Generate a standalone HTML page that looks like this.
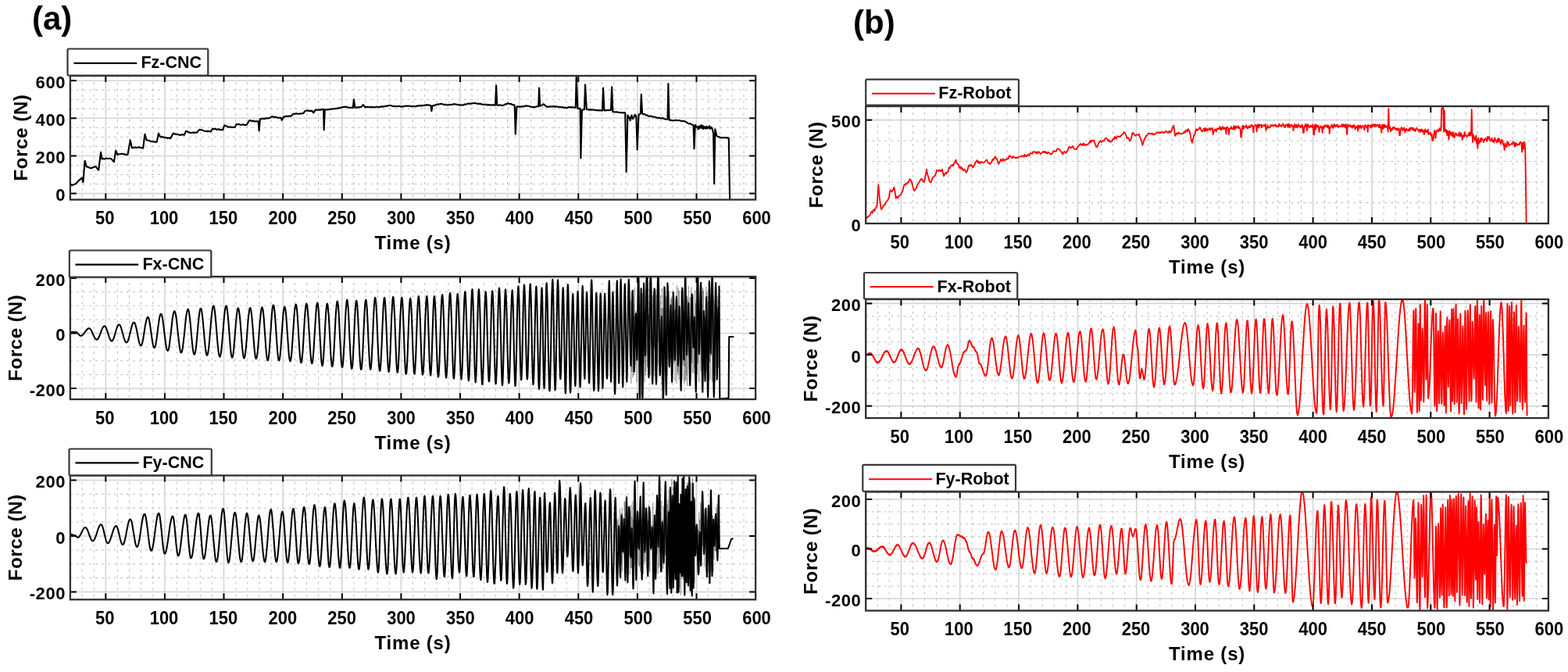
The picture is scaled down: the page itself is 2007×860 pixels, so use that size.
<!DOCTYPE html>
<html><head><meta charset="utf-8"><title>Force comparison</title>
<style>
html,body{margin:0;padding:0;background:#fff;}
svg{display:block;}
text{font-family:'Liberation Sans', sans-serif;font-weight:bold;fill:#000;}
.xt{font-size:23.4px;text-anchor:middle;}
.yt{font-size:22px;text-anchor:end;letter-spacing:0.6px;}
.xl{font-size:24px;text-anchor:middle;letter-spacing:0.8px;}
.yl{font-size:24.5px;text-anchor:middle;letter-spacing:0.4px;}
.lt{font-size:21.5px;}
.pl{font-size:42px;font-weight:bold;}
.mn{stroke:#bdbdbd;stroke-width:1;stroke-dasharray:3 5;}
.mj{stroke:#d4d4d4;stroke-width:1.6;}
.tk{stroke:#000;stroke-width:2;}
.fr{fill:none;stroke:#2e2e2e;stroke-width:2.3;}
.lg{fill:#fff;stroke:#383838;stroke-width:2.2;}
</style></head>
<body>
<svg width="2007" height="860" viewBox="0 0 2007 860">
<rect width="2007" height="860" fill="#fff"/>
<text x="41" y="37.5" class="pl">(a)</text>
<text x="1092" y="42.6" class="pl">(b)</text>
<g id="a1">
<line x1="105.1" y1="97.0" x2="105.1" y2="255.5" class="mn"/>
<line x1="120.2" y1="97.0" x2="120.2" y2="255.5" class="mn"/>
<line x1="150.4" y1="97.0" x2="150.4" y2="255.5" class="mn"/>
<line x1="165.5" y1="97.0" x2="165.5" y2="255.5" class="mn"/>
<line x1="180.7" y1="97.0" x2="180.7" y2="255.5" class="mn"/>
<line x1="195.8" y1="97.0" x2="195.8" y2="255.5" class="mn"/>
<line x1="226.0" y1="97.0" x2="226.0" y2="255.5" class="mn"/>
<line x1="241.2" y1="97.0" x2="241.2" y2="255.5" class="mn"/>
<line x1="256.3" y1="97.0" x2="256.3" y2="255.5" class="mn"/>
<line x1="271.4" y1="97.0" x2="271.4" y2="255.5" class="mn"/>
<line x1="301.7" y1="97.0" x2="301.7" y2="255.5" class="mn"/>
<line x1="316.8" y1="97.0" x2="316.8" y2="255.5" class="mn"/>
<line x1="331.9" y1="97.0" x2="331.9" y2="255.5" class="mn"/>
<line x1="347.0" y1="97.0" x2="347.0" y2="255.5" class="mn"/>
<line x1="377.3" y1="97.0" x2="377.3" y2="255.5" class="mn"/>
<line x1="392.4" y1="97.0" x2="392.4" y2="255.5" class="mn"/>
<line x1="407.5" y1="97.0" x2="407.5" y2="255.5" class="mn"/>
<line x1="422.7" y1="97.0" x2="422.7" y2="255.5" class="mn"/>
<line x1="452.9" y1="97.0" x2="452.9" y2="255.5" class="mn"/>
<line x1="468.0" y1="97.0" x2="468.0" y2="255.5" class="mn"/>
<line x1="483.2" y1="97.0" x2="483.2" y2="255.5" class="mn"/>
<line x1="498.3" y1="97.0" x2="498.3" y2="255.5" class="mn"/>
<line x1="528.5" y1="97.0" x2="528.5" y2="255.5" class="mn"/>
<line x1="543.6" y1="97.0" x2="543.6" y2="255.5" class="mn"/>
<line x1="558.8" y1="97.0" x2="558.8" y2="255.5" class="mn"/>
<line x1="573.9" y1="97.0" x2="573.9" y2="255.5" class="mn"/>
<line x1="604.1" y1="97.0" x2="604.1" y2="255.5" class="mn"/>
<line x1="619.3" y1="97.0" x2="619.3" y2="255.5" class="mn"/>
<line x1="634.4" y1="97.0" x2="634.4" y2="255.5" class="mn"/>
<line x1="649.5" y1="97.0" x2="649.5" y2="255.5" class="mn"/>
<line x1="679.8" y1="97.0" x2="679.8" y2="255.5" class="mn"/>
<line x1="694.9" y1="97.0" x2="694.9" y2="255.5" class="mn"/>
<line x1="710.0" y1="97.0" x2="710.0" y2="255.5" class="mn"/>
<line x1="725.1" y1="97.0" x2="725.1" y2="255.5" class="mn"/>
<line x1="755.4" y1="97.0" x2="755.4" y2="255.5" class="mn"/>
<line x1="770.5" y1="97.0" x2="770.5" y2="255.5" class="mn"/>
<line x1="785.6" y1="97.0" x2="785.6" y2="255.5" class="mn"/>
<line x1="800.8" y1="97.0" x2="800.8" y2="255.5" class="mn"/>
<line x1="831.0" y1="97.0" x2="831.0" y2="255.5" class="mn"/>
<line x1="846.1" y1="97.0" x2="846.1" y2="255.5" class="mn"/>
<line x1="861.3" y1="97.0" x2="861.3" y2="255.5" class="mn"/>
<line x1="876.4" y1="97.0" x2="876.4" y2="255.5" class="mn"/>
<line x1="906.6" y1="97.0" x2="906.6" y2="255.5" class="mn"/>
<line x1="921.7" y1="97.0" x2="921.7" y2="255.5" class="mn"/>
<line x1="936.9" y1="97.0" x2="936.9" y2="255.5" class="mn"/>
<line x1="952.0" y1="97.0" x2="952.0" y2="255.5" class="mn"/>
<line x1="89.9" y1="235.6" x2="967.1" y2="235.6" class="mn"/>
<line x1="89.9" y1="223.5" x2="967.1" y2="223.5" class="mn"/>
<line x1="89.9" y1="211.5" x2="967.1" y2="211.5" class="mn"/>
<line x1="89.9" y1="187.4" x2="967.1" y2="187.4" class="mn"/>
<line x1="89.9" y1="175.4" x2="967.1" y2="175.4" class="mn"/>
<line x1="89.9" y1="163.4" x2="967.1" y2="163.4" class="mn"/>
<line x1="89.9" y1="139.3" x2="967.1" y2="139.3" class="mn"/>
<line x1="89.9" y1="127.3" x2="967.1" y2="127.3" class="mn"/>
<line x1="89.9" y1="115.2" x2="967.1" y2="115.2" class="mn"/>
<line x1="135.3" y1="97.0" x2="135.3" y2="255.5" class="mj"/>
<line x1="210.9" y1="97.0" x2="210.9" y2="255.5" class="mj"/>
<line x1="286.5" y1="97.0" x2="286.5" y2="255.5" class="mj"/>
<line x1="362.2" y1="97.0" x2="362.2" y2="255.5" class="mj"/>
<line x1="437.8" y1="97.0" x2="437.8" y2="255.5" class="mj"/>
<line x1="513.4" y1="97.0" x2="513.4" y2="255.5" class="mj"/>
<line x1="589.0" y1="97.0" x2="589.0" y2="255.5" class="mj"/>
<line x1="664.6" y1="97.0" x2="664.6" y2="255.5" class="mj"/>
<line x1="740.3" y1="97.0" x2="740.3" y2="255.5" class="mj"/>
<line x1="815.9" y1="97.0" x2="815.9" y2="255.5" class="mj"/>
<line x1="891.5" y1="97.0" x2="891.5" y2="255.5" class="mj"/>
<line x1="89.9" y1="247.6" x2="967.1" y2="247.6" class="mj"/>
<line x1="89.9" y1="199.5" x2="967.1" y2="199.5" class="mj"/>
<line x1="89.9" y1="151.3" x2="967.1" y2="151.3" class="mj"/>
<line x1="89.9" y1="103.2" x2="967.1" y2="103.2" class="mj"/>
<clipPath id="c_a1"><rect x="89.9" y="96.0" width="877.2" height="160.5"/></clipPath>
<path d="M90.0,235.3 L92.2,237.1 L93.7,236.4 L95.1,236.0 L96.6,235.3 L97.9,234.4 L99.3,232.5 L100.7,231.2 L102.1,229.8 L103.5,228.8 L104.9,227.6 L106.4,233.1 L108.6,205.7 L110.8,213.4 L112.2,213.5 L113.6,214.3 L114.9,214.8 L116.3,215.1 L117.6,215.1 L118.9,214.0 L120.3,213.9 L121.6,213.3 L122.9,213.4 L124.5,215.9 L126.2,217.8 L127.6,206.5 L129.0,194.8 L130.6,203.5 L131.9,202.8 L133.3,203.5 L134.7,203.2 L136.0,202.4 L137.4,202.8 L138.7,203.0 L140.0,202.7 L141.3,202.8 L142.6,203.5 L144.3,205.4 L145.9,207.3 L148.1,192.6 L150.3,198.0 L151.7,197.3 L153.0,197.2 L154.4,197.0 L155.8,197.0 L157.1,196.7 L158.3,197.3 L159.6,197.4 L160.9,198.0 L162.2,197.9 L163.4,198.0 L165.1,188.9 L166.7,179.4 L168.9,189.3 L170.2,189.1 L171.4,189.1 L172.7,188.8 L173.9,188.4 L175.2,189.0 L176.4,188.8 L177.7,188.2 L179.1,188.9 L180.4,189.2 L181.8,189.1 L183.2,189.7 L185.4,171.7 L187.6,179.4 L188.9,179.5 L190.3,180.0 L191.7,180.1 L193.0,180.9 L194.3,181.3 L195.6,181.1 L196.9,181.6 L198.2,181.3 L199.4,182.0 L200.7,181.6 L202.9,170.6 L205.1,175.0 L206.4,175.6 L207.7,174.9 L208.9,175.3 L210.2,176.2 L211.5,175.9 L212.8,176.1 L214.2,176.9 L215.5,176.6 L216.9,176.5 L218.3,177.2 L219.9,174.1 L221.6,170.6 L223.0,171.4 L224.5,171.4 L225.9,172.2 L227.2,171.8 L228.4,172.2 L229.6,172.9 L230.9,172.8 L232.1,172.2 L233.3,172.4 L234.6,172.4 L235.8,172.8 L238.0,167.8 L239.4,167.9 L240.7,169.2 L242.1,169.1 L243.5,170.0 L244.7,170.0 L246.0,169.8 L247.2,169.5 L248.5,170.0 L249.7,169.3 L251.0,169.8 L252.2,169.5 L253.9,167.3 L255.5,165.8 L256.9,166.1 L258.3,166.3 L259.6,166.7 L261.0,167.4 L262.3,168.0 L263.5,168.0 L264.8,167.6 L266.0,168.4 L267.3,167.8 L268.5,168.2 L269.8,168.4 L272.0,164.7 L273.3,165.3 L274.6,165.2 L275.9,164.8 L277.2,165.9 L278.6,165.6 L279.9,165.4 L281.2,165.6 L282.5,166.3 L283.8,166.0 L285.1,166.3 L287.3,160.3 L288.8,160.9 L290.2,161.4 L291.7,162.5 L293.0,162.2 L294.2,162.7 L295.5,162.5 L296.7,162.9 L298.0,162.7 L299.2,162.9 L300.5,163.0 L302.7,158.6 L304.0,159.3 L305.3,159.0 L306.6,159.3 L307.9,159.8 L309.3,159.7 L310.6,159.4 L311.9,159.3 L313.2,160.1 L314.5,160.0 L315.8,159.7 L317.5,156.7 L319.1,154.2 L320.3,154.0 L321.6,154.7 L322.8,155.0 L324.0,154.4 L325.3,155.3 L326.5,155.4 L327.7,155.3 L329.0,155.3 L330.7,155.3 L331.6,167.4 L332.9,152.4 L334.2,152.2 L335.4,151.7 L336.7,151.5 L337.9,152.3 L339.2,151.4 L340.4,151.7 L341.7,151.1 L342.9,151.5 L344.2,151.2 L345.4,150.9 L347.6,149.4 L348.8,149.3 L350.0,149.4 L351.2,150.1 L352.4,149.6 L353.6,149.9 L354.9,150.4 L356.1,150.8 L357.3,150.7 L358.5,150.5 L359.7,150.9 L360.8,153.8 L363.0,149.4 L364.2,149.7 L365.4,148.9 L366.7,148.6 L367.9,148.8 L369.1,148.9 L370.4,148.4 L371.6,148.5 L372.8,148.7 L375.0,145.9 L376.3,145.6 L377.7,145.8 L379.0,145.2 L380.3,145.4 L381.6,145.8 L382.9,145.8 L384.2,145.4 L385.5,145.4 L386.9,145.2 L388.2,145.0 L390.4,142.1 L391.6,141.7 L392.9,141.5 L394.1,141.4 L395.4,142.2 L396.6,141.9 L397.9,142.0 L399.1,141.5 L401.3,144.3 L403.5,141.0 L404.8,140.4 L406.0,140.9 L407.2,140.6 L408.5,140.7 L409.7,140.2 L410.9,140.7 L412.2,139.7 L413.4,139.9 L414.1,139.9 L414.7,166.3 L415.8,140.4 L417.1,140.3 L418.4,140.3 L419.6,140.4 L420.9,140.1 L422.2,139.9 L423.5,139.8 L424.7,139.8 L426.0,139.1 L427.3,139.3 L428.6,139.4 L429.8,138.9 L431.1,139.0 L432.3,138.3 L433.5,138.4 L434.7,138.2 L435.9,137.7 L437.1,137.5 L438.4,137.0 L439.6,137.0 L440.8,136.7 L442.1,136.9 L443.3,136.6 L444.6,137.3 L445.8,137.8 L447.1,137.8 L448.3,137.8 L449.6,137.8 L451.8,137.8 L452.9,127.4 L454.4,137.8 L455.8,137.5 L457.2,137.6 L458.6,137.3 L459.9,137.0 L461.3,137.2 L462.7,136.7 L464.9,134.0 L467.1,137.1 L468.4,136.7 L469.6,137.3 L470.9,136.6 L472.1,137.2 L473.4,137.1 L474.6,136.8 L475.9,137.3 L477.1,137.1 L478.4,137.2 L479.6,137.5 L480.9,136.9 L482.1,136.6 L483.4,136.9 L484.7,137.1 L485.9,137.1 L487.2,136.4 L488.5,136.2 L489.8,136.8 L491.0,136.3 L492.3,135.9 L493.6,136.2 L494.9,135.5 L496.2,135.6 L497.4,135.0 L498.7,135.0 L500.0,134.9 L501.3,135.5 L502.6,135.8 L503.9,136.1 L505.3,135.8 L506.6,136.2 L507.8,136.3 L509.1,136.0 L510.3,135.8 L511.5,136.1 L512.8,136.4 L514.0,136.4 L515.3,136.2 L516.5,136.4 L517.8,135.7 L519.0,135.6 L520.2,135.8 L521.5,135.6 L522.7,135.6 L524.0,135.7 L525.2,135.8 L526.1,136.2 L527.3,136.3 L528.6,136.0 L529.8,135.8 L531.0,136.2 L532.3,136.3 L533.5,135.7 L534.7,135.2 L536.0,135.6 L537.2,135.0 L538.4,135.7 L539.6,134.7 L540.8,135.3 L542.1,135.0 L543.3,134.6 L544.5,135.0 L545.7,134.1 L546.9,134.5 L548.4,134.2 L549.8,134.7 L551.3,134.9 L552.4,142.1 L553.5,135.6 L554.7,134.8 L555.9,135.3 L557.2,134.3 L558.4,133.9 L559.6,133.5 L560.8,133.8 L562.0,133.3 L563.2,133.2 L564.5,132.7 L565.7,133.1 L567.0,133.5 L568.2,133.9 L569.5,133.9 L570.7,133.7 L572.0,134.2 L573.2,134.5 L574.5,134.0 L575.7,133.7 L577.0,134.0 L578.2,134.1 L579.5,133.4 L580.8,133.3 L582.0,133.4 L583.3,133.4 L584.5,133.9 L585.8,133.9 L587.0,134.1 L588.3,134.4 L589.5,134.2 L590.8,134.5 L592.0,134.5 L593.3,134.4 L594.5,133.3 L595.8,133.9 L597.0,133.4 L598.3,132.6 L599.5,132.7 L600.8,132.5 L602.1,132.6 L603.3,132.7 L604.6,132.1 L605.8,132.2 L607.1,132.3 L608.3,131.8 L609.6,132.4 L610.8,132.7 L612.1,132.5 L613.3,132.9 L614.6,132.6 L615.8,133.4 L617.1,133.4 L618.3,133.8 L619.6,133.7 L620.8,133.9 L622.1,133.5 L623.3,134.2 L624.6,134.4 L625.9,134.0 L627.2,134.6 L628.6,134.2 L629.9,134.5 L631.3,134.1 L632.6,134.8 L634.0,134.5 L635.1,109.3 L636.2,134.5 L637.4,134.9 L638.6,134.5 L639.8,134.3 L641.0,134.7 L642.2,134.9 L643.4,134.9 L644.7,134.7 L646.0,134.0 L647.2,133.1 L648.5,133.5 L649.8,132.3 L651.1,132.3 L652.3,133.0 L653.6,132.8 L654.9,133.4 L656.2,134.3 L657.5,134.1 L658.7,134.9 L659.8,171.7 L661.4,136.7 L662.6,136.2 L663.9,136.5 L665.2,136.6 L666.5,136.6 L667.7,136.3 L669.0,136.4 L670.3,135.9 L671.5,136.2 L672.8,135.3 L674.1,135.6 L675.3,135.5 L676.6,136.0 L677.8,136.0 L679.1,136.7 L680.4,136.8 L681.6,136.9 L682.9,137.1 L684.1,137.3 L685.4,136.8 L686.7,136.4 L687.9,136.3 L689.2,136.2 L690.1,112.5 L691.2,135.6 L692.4,135.4 L693.6,134.9 L694.8,133.6 L696.0,133.4 L697.5,134.8 L698.9,136.0 L700.4,136.7 L701.6,136.6 L702.8,136.6 L704.1,136.2 L705.3,136.5 L706.5,136.4 L707.7,136.5 L708.9,135.8 L710.1,136.7 L711.4,136.2 L712.6,136.4 L713.8,136.5 L715.0,137.0 L716.2,137.0 L717.5,137.1 L718.7,137.4 L719.9,137.0 L721.1,137.6 L722.3,137.8 L723.5,137.6 L724.8,138.1 L726.0,138.0 L727.2,137.2 L728.4,137.4 L729.6,136.9 L730.9,137.2 L732.1,137.5 L733.3,137.1 L735.0,137.8 L736.8,137.8 L737.7,97.5 L739.4,138.9 L741.1,138.8 L742.7,138.9 L743.4,202.4 L744.9,141.0 L746.4,140.3 L748.0,139.9 L749.1,108.2 L750.8,139.9 L752.0,139.8 L753.3,140.3 L754.5,140.7 L755.7,140.1 L756.9,140.8 L758.1,140.2 L759.4,140.5 L760.6,140.6 L761.8,141.0 L763.1,141.3 L764.4,141.0 L765.7,141.1 L767.1,141.4 L768.4,141.0 L769.7,141.6 L771.0,141.5 L772.1,112.5 L773.4,141.5 L774.6,141.0 L775.9,141.4 L777.1,141.0 L778.3,140.9 L779.5,141.2 L780.7,141.0 L782.0,141.0 L783.1,111.4 L784.4,143.2 L785.6,143.2 L786.8,143.3 L788.0,143.5 L789.2,143.2 L790.4,143.4 L791.7,143.9 L792.9,144.0 L794.1,143.9 L795.3,144.3 L796.5,144.2 L797.7,144.5 L798.9,144.0 L800.2,144.3 L801.7,220.0 L803.4,147.6 L803.9,148.4 L804.3,150.0 L804.7,150.9 L805.1,151.1 L805.5,150.5 L805.9,150.7 L806.3,152.9 L806.7,154.2 L808.3,147.6 L808.7,147.8 L809.1,151.1 L809.6,151.7 L810.0,152.0 L810.6,151.3 L811.1,150.0 L811.7,149.4 L812.2,147.6 L812.8,146.7 L813.3,148.5 L813.9,147.9 L814.4,149.8 L815.7,191.5 L817.5,146.5 L818.7,146.3 L819.9,145.4 L820.8,120.9 L822.1,145.4 L823.3,146.2 L824.6,146.1 L825.8,146.5 L827.0,147.5 L828.3,147.2 L829.5,148.4 L830.7,148.7 L832.0,148.7 L833.2,148.6 L834.4,148.9 L835.6,149.7 L836.8,149.5 L838.0,149.5 L839.3,150.5 L840.5,150.3 L841.7,151.0 L842.9,150.9 L844.1,150.7 L845.3,151.2 L846.6,151.6 L847.8,151.1 L849.0,151.5 L850.2,152.1 L851.4,152.5 L852.7,152.7 L853.9,152.4 L854.5,152.4 L855.4,107.1 L856.5,153.8 L857.8,153.4 L859.1,153.9 L860.5,154.2 L861.8,154.0 L863.1,154.2 L864.4,153.8 L865.7,153.7 L867.0,154.2 L868.3,154.0 L869.5,154.0 L870.8,154.7 L872.0,154.8 L873.3,155.0 L874.5,154.8 L875.8,155.3 L877.1,155.5 L878.3,156.1 L879.6,157.2 L880.8,157.9 L882.1,158.4 L883.3,158.1 L884.6,159.0 L886.1,159.5 L887.6,160.8 L888.5,190.4 L889.8,159.7 L891.6,162.3 L893.3,164.1 L893.7,165.5 L894.1,161.9 L894.4,164.8 L894.8,163.3 L895.2,161.5 L895.5,163.8 L895.9,162.3 L896.3,162.9 L896.6,162.2 L897.0,163.7 L897.4,160.2 L897.7,161.9 L898.1,160.3 L898.5,163.8 L898.8,162.3 L899.2,162.4 L899.6,161.0 L899.9,164.8 L900.3,164.9 L900.6,163.3 L901.0,161.9 L901.4,163.4 L901.7,162.4 L902.1,164.1 L902.5,163.2 L902.8,164.4 L903.2,162.5 L903.6,163.7 L903.9,164.4 L904.3,161.7 L904.7,162.1 L905.0,163.3 L905.4,164.5 L905.8,162.7 L906.1,162.7 L906.5,163.0 L906.8,163.4 L907.1,163.0 L907.4,162.7 L907.7,163.2 L908.0,161.2 L908.3,163.8 L908.6,164.7 L908.9,162.7 L909.2,164.8 L909.5,163.8 L909.8,162.7 L910.1,163.5 L910.4,162.9 L910.7,164.2 L911.0,164.1 L911.3,163.4 L913.1,170.6 L914.2,235.3 L915.3,165.2 L917.5,173.9 L918.9,175.0 L920.4,175.1 L921.8,176.1 L923.1,176.1 L924.3,176.5 L925.5,176.2 L926.7,176.0 L927.9,176.0 L929.2,176.4 L930.4,176.0 L931.6,176.9 L932.8,176.6 L934.1,255.0" fill="none" stroke="#000" stroke-width="2.1" stroke-linejoin="round" stroke-linecap="round" clip-path="url(#c_a1)"/>
<line x1="135.3" y1="255.5" x2="135.3" y2="247.5" class="tk"/>
<line x1="135.3" y1="97.0" x2="135.3" y2="105.0" class="tk"/>
<line x1="210.9" y1="255.5" x2="210.9" y2="247.5" class="tk"/>
<line x1="210.9" y1="97.0" x2="210.9" y2="105.0" class="tk"/>
<line x1="286.5" y1="255.5" x2="286.5" y2="247.5" class="tk"/>
<line x1="286.5" y1="97.0" x2="286.5" y2="105.0" class="tk"/>
<line x1="362.2" y1="255.5" x2="362.2" y2="247.5" class="tk"/>
<line x1="362.2" y1="97.0" x2="362.2" y2="105.0" class="tk"/>
<line x1="437.8" y1="255.5" x2="437.8" y2="247.5" class="tk"/>
<line x1="437.8" y1="97.0" x2="437.8" y2="105.0" class="tk"/>
<line x1="513.4" y1="255.5" x2="513.4" y2="247.5" class="tk"/>
<line x1="513.4" y1="97.0" x2="513.4" y2="105.0" class="tk"/>
<line x1="589.0" y1="255.5" x2="589.0" y2="247.5" class="tk"/>
<line x1="589.0" y1="97.0" x2="589.0" y2="105.0" class="tk"/>
<line x1="664.6" y1="255.5" x2="664.6" y2="247.5" class="tk"/>
<line x1="664.6" y1="97.0" x2="664.6" y2="105.0" class="tk"/>
<line x1="740.3" y1="255.5" x2="740.3" y2="247.5" class="tk"/>
<line x1="740.3" y1="97.0" x2="740.3" y2="105.0" class="tk"/>
<line x1="815.9" y1="255.5" x2="815.9" y2="247.5" class="tk"/>
<line x1="815.9" y1="97.0" x2="815.9" y2="105.0" class="tk"/>
<line x1="891.5" y1="255.5" x2="891.5" y2="247.5" class="tk"/>
<line x1="891.5" y1="97.0" x2="891.5" y2="105.0" class="tk"/>
<line x1="967.1" y1="255.5" x2="967.1" y2="247.5" class="tk"/>
<line x1="967.1" y1="97.0" x2="967.1" y2="105.0" class="tk"/>
<line x1="89.9" y1="247.6" x2="97.9" y2="247.6" class="tk"/>
<line x1="967.1" y1="247.6" x2="959.1" y2="247.6" class="tk"/>
<line x1="89.9" y1="199.5" x2="97.9" y2="199.5" class="tk"/>
<line x1="967.1" y1="199.5" x2="959.1" y2="199.5" class="tk"/>
<line x1="89.9" y1="151.3" x2="97.9" y2="151.3" class="tk"/>
<line x1="967.1" y1="151.3" x2="959.1" y2="151.3" class="tk"/>
<line x1="89.9" y1="103.2" x2="97.9" y2="103.2" class="tk"/>
<line x1="967.1" y1="103.2" x2="959.1" y2="103.2" class="tk"/>
<rect x="89.9" y="97.0" width="877.2" height="158.5" class="fr"/>
<text transform="translate(134.2,287.4) scale(0.94,1)" class="xt">50</text>
<text transform="translate(210.0,287.4) scale(0.94,1)" class="xt">100</text>
<text transform="translate(285.9,287.4) scale(0.94,1)" class="xt">150</text>
<text transform="translate(361.8,287.4) scale(0.94,1)" class="xt">200</text>
<text transform="translate(437.6,287.4) scale(0.94,1)" class="xt">250</text>
<text transform="translate(513.5,287.4) scale(0.94,1)" class="xt">300</text>
<text transform="translate(589.3,287.4) scale(0.94,1)" class="xt">350</text>
<text transform="translate(665.1,287.4) scale(0.94,1)" class="xt">400</text>
<text transform="translate(741.0,287.4) scale(0.94,1)" class="xt">450</text>
<text transform="translate(816.8,287.4) scale(0.94,1)" class="xt">500</text>
<text transform="translate(892.7,287.4) scale(0.94,1)" class="xt">550</text>
<text transform="translate(968.5,287.4) scale(0.94,1)" class="xt">600</text>
<text x="84.1" y="257.2" class="yt">0</text>
<text x="84.1" y="209.1" class="yt">200</text>
<text x="84.1" y="160.9" class="yt">400</text>
<text x="84.1" y="112.8" class="yt">600</text>
<text x="528.5" y="319.3" class="xl">Time (s)</text>
<text transform="translate(34.5,176.2) rotate(-90)" x="0" y="0" class="yl">Force (N)</text>
<rect x="86.5" y="62.5" width="179.8" height="34.0" rx="1.5" class="lg"/>
<line x1="94.5" y1="80.9" x2="175.2" y2="80.9" stroke="#000" stroke-width="2.2"/>
<text x="180.4" y="87.4" class="lt">Fz-CNC</text>
</g>
<g id="a2">
<line x1="105.1" y1="354.0" x2="105.1" y2="511.0" class="mn"/>
<line x1="120.2" y1="354.0" x2="120.2" y2="511.0" class="mn"/>
<line x1="150.4" y1="354.0" x2="150.4" y2="511.0" class="mn"/>
<line x1="165.5" y1="354.0" x2="165.5" y2="511.0" class="mn"/>
<line x1="180.7" y1="354.0" x2="180.7" y2="511.0" class="mn"/>
<line x1="195.8" y1="354.0" x2="195.8" y2="511.0" class="mn"/>
<line x1="226.0" y1="354.0" x2="226.0" y2="511.0" class="mn"/>
<line x1="241.2" y1="354.0" x2="241.2" y2="511.0" class="mn"/>
<line x1="256.3" y1="354.0" x2="256.3" y2="511.0" class="mn"/>
<line x1="271.4" y1="354.0" x2="271.4" y2="511.0" class="mn"/>
<line x1="301.7" y1="354.0" x2="301.7" y2="511.0" class="mn"/>
<line x1="316.8" y1="354.0" x2="316.8" y2="511.0" class="mn"/>
<line x1="331.9" y1="354.0" x2="331.9" y2="511.0" class="mn"/>
<line x1="347.0" y1="354.0" x2="347.0" y2="511.0" class="mn"/>
<line x1="377.3" y1="354.0" x2="377.3" y2="511.0" class="mn"/>
<line x1="392.4" y1="354.0" x2="392.4" y2="511.0" class="mn"/>
<line x1="407.5" y1="354.0" x2="407.5" y2="511.0" class="mn"/>
<line x1="422.7" y1="354.0" x2="422.7" y2="511.0" class="mn"/>
<line x1="452.9" y1="354.0" x2="452.9" y2="511.0" class="mn"/>
<line x1="468.0" y1="354.0" x2="468.0" y2="511.0" class="mn"/>
<line x1="483.2" y1="354.0" x2="483.2" y2="511.0" class="mn"/>
<line x1="498.3" y1="354.0" x2="498.3" y2="511.0" class="mn"/>
<line x1="528.5" y1="354.0" x2="528.5" y2="511.0" class="mn"/>
<line x1="543.6" y1="354.0" x2="543.6" y2="511.0" class="mn"/>
<line x1="558.8" y1="354.0" x2="558.8" y2="511.0" class="mn"/>
<line x1="573.9" y1="354.0" x2="573.9" y2="511.0" class="mn"/>
<line x1="604.1" y1="354.0" x2="604.1" y2="511.0" class="mn"/>
<line x1="619.3" y1="354.0" x2="619.3" y2="511.0" class="mn"/>
<line x1="634.4" y1="354.0" x2="634.4" y2="511.0" class="mn"/>
<line x1="649.5" y1="354.0" x2="649.5" y2="511.0" class="mn"/>
<line x1="679.8" y1="354.0" x2="679.8" y2="511.0" class="mn"/>
<line x1="694.9" y1="354.0" x2="694.9" y2="511.0" class="mn"/>
<line x1="710.0" y1="354.0" x2="710.0" y2="511.0" class="mn"/>
<line x1="725.1" y1="354.0" x2="725.1" y2="511.0" class="mn"/>
<line x1="755.4" y1="354.0" x2="755.4" y2="511.0" class="mn"/>
<line x1="770.5" y1="354.0" x2="770.5" y2="511.0" class="mn"/>
<line x1="785.6" y1="354.0" x2="785.6" y2="511.0" class="mn"/>
<line x1="800.8" y1="354.0" x2="800.8" y2="511.0" class="mn"/>
<line x1="831.0" y1="354.0" x2="831.0" y2="511.0" class="mn"/>
<line x1="846.1" y1="354.0" x2="846.1" y2="511.0" class="mn"/>
<line x1="861.3" y1="354.0" x2="861.3" y2="511.0" class="mn"/>
<line x1="876.4" y1="354.0" x2="876.4" y2="511.0" class="mn"/>
<line x1="906.6" y1="354.0" x2="906.6" y2="511.0" class="mn"/>
<line x1="921.7" y1="354.0" x2="921.7" y2="511.0" class="mn"/>
<line x1="936.9" y1="354.0" x2="936.9" y2="511.0" class="mn"/>
<line x1="952.0" y1="354.0" x2="952.0" y2="511.0" class="mn"/>
<line x1="89.9" y1="479.4" x2="967.1" y2="479.4" class="mn"/>
<line x1="89.9" y1="461.8" x2="967.1" y2="461.8" class="mn"/>
<line x1="89.9" y1="444.1" x2="967.1" y2="444.1" class="mn"/>
<line x1="89.9" y1="408.9" x2="967.1" y2="408.9" class="mn"/>
<line x1="89.9" y1="391.2" x2="967.1" y2="391.2" class="mn"/>
<line x1="89.9" y1="373.6" x2="967.1" y2="373.6" class="mn"/>
<line x1="135.3" y1="354.0" x2="135.3" y2="511.0" class="mj"/>
<line x1="210.9" y1="354.0" x2="210.9" y2="511.0" class="mj"/>
<line x1="286.5" y1="354.0" x2="286.5" y2="511.0" class="mj"/>
<line x1="362.2" y1="354.0" x2="362.2" y2="511.0" class="mj"/>
<line x1="437.8" y1="354.0" x2="437.8" y2="511.0" class="mj"/>
<line x1="513.4" y1="354.0" x2="513.4" y2="511.0" class="mj"/>
<line x1="589.0" y1="354.0" x2="589.0" y2="511.0" class="mj"/>
<line x1="664.6" y1="354.0" x2="664.6" y2="511.0" class="mj"/>
<line x1="740.3" y1="354.0" x2="740.3" y2="511.0" class="mj"/>
<line x1="815.9" y1="354.0" x2="815.9" y2="511.0" class="mj"/>
<line x1="891.5" y1="354.0" x2="891.5" y2="511.0" class="mj"/>
<line x1="89.9" y1="497.0" x2="967.1" y2="497.0" class="mj"/>
<line x1="89.9" y1="426.5" x2="967.1" y2="426.5" class="mj"/>
<line x1="89.9" y1="356.0" x2="967.1" y2="356.0" class="mj"/>
<clipPath id="c_a2"><rect x="89.9" y="353.0" width="877.2" height="159.0"/></clipPath>
<path d="M806.0,426.5 L806.0,412.0 L806.6,459.6 L807.2,384.5 L807.8,490.9 L808.2,372.4 L808.7,475.7 L809.4,374.5 L810.0,483.2 L810.3,394.2 L811.0,480.2 L811.5,404.6 L811.9,461.4 L812.3,367.8 L812.9,467.2 L813.3,399.7 L813.8,444.9 L814.3,397.5 L814.9,489.1 L815.2,409.4 L815.9,437.1 L816.3,387.2 L816.9,449.1 L817.5,379.4 L817.8,477.8 L818.3,390.9 L818.9,474.3 L819.5,407.1 L819.9,448.4 L820.3,375.5 L821.0,457.5 L821.6,375.3 L822.2,481.2 L822.8,375.0 L823.2,471.0 L823.7,395.5 L824.2,465.3 L824.5,393.8 L825.0,489.2 L825.6,408.7 L826.1,480.3 L826.5,371.6 L826.9,475.6 L827.4,366.7 L827.9,454.4 L828.3,402.1 L828.8,470.1 L829.2,407.2 L829.9,440.5 L830.6,403.1 L831.2,479.1 L831.9,376.4 L832.2,480.6 L832.9,375.5 L833.4,439.3 L833.8,403.7 L834.4,445.5 L834.9,377.4 L835.5,478.8 L836.1,378.9 L836.5,474.9 L837.0,373.8 L837.5,444.8 L837.8,393.1 L838.2,481.3 L838.8,396.9 L839.3,441.7 L839.7,370.2 L840.1,467.6 L840.6,377.4 L841.0,459.4 L841.4,410.5 L841.9,467.3 L842.4,396.2 L842.9,438.2 L843.6,415.6 L844.1,477.9 L844.4,408.8 L844.8,444.5 L845.3,377.8 L846.0,467.3 L846.7,394.8 L847.2,492.0 L847.6,369.1 L848.0,462.0 L848.7,393.8 L849.4,475.5 L849.8,365.7 L850.1,476.5 L850.6,366.4 L851.0,447.1 L851.5,379.5 L852.0,471.8 L852.6,379.4 L853.3,452.4 L853.6,390.0 L854.1,480.5 L854.6,385.5 L855.0,459.6 L855.7,383.4 L856.1,468.5 L856.7,372.3 L857.2,442.5 L857.6,405.1 L858.3,458.4 L858.6,383.0 L859.1,449.8 L859.5,379.8 L860.0,490.4 L860.4,397.6 L861.1,478.6 L861.5,403.5 L862.1,460.7 L862.5,392.5 L863.1,465.4 L863.6,397.0 L864.0,487.0 L864.4,394.5 L864.9,452.3 L865.3,414.0 L865.9,491.0 L866.5,365.4 L867.1,476.2 L867.6,404.8 L867.9,479.0 L868.3,368.5 L868.9,486.1 L869.4,372.1 L869.9,454.7 L870.5,414.9 L871.2,468.4 L871.8,371.4 L872.2,458.9 L872.7,385.2 L873.1,486.8 L873.5,415.0 L874.1,467.0 L874.8,398.6 L875.5,490.8 L875.9,399.4 L876.3,468.7 L876.6,377.6 L877.1,488.6 L877.6,402.7 L878.0,487.0 L878.5,377.9 L879.0,480.7 L879.4,378.9 L879.8,494.1 L880.2,383.0 L880.6,438.7 L881.2,366.2 L881.6,456.1 L882.0,413.7 L882.5,457.9 L883.0,380.1 L883.5,438.6 L884.1,405.3 L884.6,476.4 L885.0,367.5 L885.7,464.8 L886.0,393.0 L886.7,477.0 L887.3,376.5 L888.0,478.2 L888.4,404.3 L889.1,470.4 L889.5,371.6 L889.9,487.4 L890.3,388.2 L890.8,473.0 L891.2,383.7 L891.6,445.4 L892.0,368.4 L892.4,478.8 L893.1,372.5 L893.6,465.0 L894.1,399.5 L894.7,488.6 L895.3,412.7 L895.9,437.3 L896.5,409.7 L896.9,475.0 L897.3,389.0 L897.8,441.9 L898.2,374.6 L898.9,492.3 L899.6,368.3 L899.9,460.1 L900.6,371.5 L901.3,455.7 L901.7,408.0 L902.2,442.0 L902.7,404.5 L903.2,457.4 L903.8,366.8 L904.5,475.4 L904.9,372.9 L905.4,445.5 L906.1,385.6 L906.6,447.3 L907.2,410.8 L907.6,487.1 L908.0,379.1 L908.5,463.5 L909.0,382.3 L909.4,486.4 L909.8,376.8 L910.4,455.4 L911.1,379.6 L911.5,488.7 L912.2,412.3 L912.6,464.8 L913.1,377.3 L913.8,488.3 L914.3,384.4 L914.8,473.4 L915.2,399.3 L915.8,488.5 L916.5,366.8 L917.0,442.1 L917.7,384.5 L918.2,469.9 L918.8,379.1 L919.4,470.7 L920.0,374.1" fill="none" stroke="#000" stroke-opacity="0.45" stroke-width="0.6" clip-path="url(#c_a2)"/>
<path d="M89.9,425.0 L90.2,425.0 L90.5,425.0 L90.9,425.0 L91.2,425.0 L91.5,425.0 L91.8,425.0 L92.1,425.0 L92.4,425.0 L92.7,425.0 L93.0,425.0 L93.3,425.0 L93.6,425.0 L93.9,425.0 L94.2,425.0 L94.5,425.0 L94.8,425.0 L95.2,425.0 L95.5,425.0 L95.8,425.0 L96.1,425.0 L96.4,425.0 L96.7,425.0 L97.0,425.0 L97.3,425.0 L97.6,425.1 L97.9,425.2 L98.2,425.4 L98.5,425.6 L98.8,425.9 L99.1,426.2 L99.4,426.5 L99.7,426.9 L100.0,427.2 L100.4,427.6 L100.7,427.9 L101.0,428.3 L101.3,428.6 L101.6,428.9 L101.9,429.2 L102.2,429.4 L102.5,429.6 L102.8,429.7 L103.1,429.8 L103.4,429.8 L103.7,429.8 L104.0,429.7 L104.3,429.6 L104.6,429.5 L104.9,429.3 L105.2,429.1 L105.5,428.9 L105.8,428.6 L106.1,428.3 L106.4,428.0 L106.7,427.6 L107.0,427.3 L107.3,426.9 L107.6,426.5 L107.9,426.1 L108.2,425.6 L108.5,425.2 L108.9,424.8 L109.2,424.4 L109.5,423.9 L109.8,423.5 L110.1,423.1 L110.4,422.7 L110.7,422.4 L111.0,422.0 L111.3,421.7 L111.6,421.4 L111.9,421.1 L112.2,420.9 L112.5,420.7 L112.8,420.5 L113.1,420.4 L113.4,420.3 L113.7,420.2 L114.0,420.2 L114.3,420.2 L114.6,420.3 L114.9,420.5 L115.2,420.7 L115.5,421.1 L115.8,421.4 L116.2,421.8 L116.5,422.3 L116.8,422.8 L117.1,423.4 L117.4,424.0 L117.7,424.6 L118.0,425.3 L118.3,426.0 L118.6,426.7 L118.9,427.4 L119.2,428.1 L119.5,428.8 L119.8,429.5 L120.2,430.2 L120.5,430.8 L120.8,431.4 L121.1,432.0 L121.4,432.5 L121.7,433.0 L122.0,433.4 L122.3,433.7 L122.6,434.1 L122.9,434.3 L123.2,434.5 L123.5,434.6 L123.8,434.6 L124.2,434.6 L124.5,434.4 L124.8,434.2 L125.1,433.9 L125.4,433.6 L125.7,433.1 L126.0,432.6 L126.3,432.1 L126.6,431.4 L126.9,430.8 L127.2,430.0 L127.5,429.3 L127.9,428.5 L128.2,427.6 L128.5,426.8 L128.8,426.0 L129.1,425.1 L129.4,424.3 L129.7,423.4 L130.0,422.6 L130.3,421.9 L130.6,421.1 L130.9,420.5 L131.2,419.8 L131.5,419.3 L131.9,418.8 L132.2,418.3 L132.5,418.0 L132.8,417.7 L133.1,417.5 L133.4,417.3 L133.7,417.3 L134.0,417.3 L134.3,417.5 L134.6,417.7 L134.9,418.1 L135.2,418.5 L135.5,419.0 L135.8,419.6 L136.1,420.3 L136.4,421.0 L136.7,421.8 L137.0,422.7 L137.3,423.6 L137.6,424.5 L137.9,425.4 L138.2,426.4 L138.5,427.4 L138.8,428.4 L139.1,429.3 L139.4,430.2 L139.7,431.1 L140.0,432.0 L140.3,432.8 L140.6,433.5 L140.9,434.2 L141.2,434.8 L141.5,435.3 L141.8,435.7 L142.1,436.1 L142.4,436.3 L142.7,436.5 L143.0,436.5 L143.3,436.4 L143.6,436.3 L143.9,436.0 L144.2,435.6 L144.5,435.2 L144.8,434.6 L145.1,434.0 L145.4,433.2 L145.7,432.4 L146.0,431.5 L146.3,430.6 L146.6,429.6 L146.9,428.6 L147.2,427.5 L147.5,426.5 L147.8,425.4 L148.1,424.4 L148.4,423.3 L148.7,422.3 L149.0,421.3 L149.3,420.4 L149.6,419.5 L149.9,418.7 L150.2,417.9 L150.5,417.3 L150.8,416.7 L151.1,416.3 L151.4,415.9 L151.7,415.6 L152.0,415.5 L152.3,415.4 L152.6,415.5 L152.9,415.6 L153.2,415.9 L153.5,416.3 L153.8,416.8 L154.2,417.5 L154.5,418.2 L154.8,419.0 L155.1,419.9 L155.4,420.8 L155.7,421.8 L156.0,422.9 L156.3,424.0 L156.6,425.2 L156.9,426.3 L157.3,427.5 L157.6,428.6 L157.9,429.8 L158.2,430.9 L158.5,432.0 L158.8,433.0 L159.1,433.9 L159.4,434.8 L159.7,435.6 L160.0,436.3 L160.4,437.0 L160.7,437.5 L161.0,437.9 L161.3,438.2 L161.6,438.3 L161.9,438.4 L162.2,438.3 L162.5,438.1 L162.8,437.8 L163.1,437.4 L163.4,436.8 L163.8,436.1 L164.1,435.3 L164.4,434.4 L164.7,433.4 L165.0,432.3 L165.3,431.2 L165.6,429.9 L165.9,428.7 L166.2,427.4 L166.5,426.1 L166.9,424.8 L167.2,423.5 L167.5,422.2 L167.8,421.0 L168.1,419.7 L168.4,418.6 L168.7,417.5 L169.0,416.5 L169.3,415.6 L169.6,414.8 L170.0,414.1 L170.3,413.5 L170.6,413.1 L170.9,412.8 L171.2,412.6 L171.5,412.5 L171.8,412.6 L172.1,412.8 L172.4,413.3 L172.7,413.9 L173.0,414.6 L173.3,415.5 L173.6,416.6 L173.9,417.7 L174.2,419.0 L174.6,420.4 L174.9,421.9 L175.2,423.4 L175.5,424.9 L175.8,426.5 L176.1,428.2 L176.4,429.8 L176.7,431.3 L177.0,432.8 L177.3,434.3 L177.6,435.7 L177.9,437.0 L178.2,438.1 L178.5,439.2 L178.8,440.1 L179.1,440.8 L179.4,441.4 L179.7,441.9 L180.0,442.1 L180.3,442.2 L180.7,442.1 L181.0,441.8 L181.3,441.2 L181.6,440.5 L181.9,439.6 L182.2,438.5 L182.5,437.2 L182.8,435.8 L183.1,434.2 L183.4,432.5 L183.7,430.7 L184.0,428.9 L184.3,426.9 L184.6,425.0 L184.9,423.0 L185.2,421.1 L185.5,419.1 L185.8,417.3 L186.1,415.5 L186.5,413.8 L186.8,412.2 L187.1,410.8 L187.4,409.5 L187.7,408.4 L188.0,407.5 L188.3,406.8 L188.6,406.2 L188.9,405.9 L189.2,405.8 L189.5,405.9 L189.8,406.3 L190.1,406.9 L190.4,407.7 L190.7,408.8 L191.0,410.1 L191.3,411.6 L191.6,413.2 L191.9,415.0 L192.2,416.9 L192.5,419.0 L192.8,421.1 L193.1,423.2 L193.4,425.4 L193.7,427.7 L194.0,429.8 L194.3,431.9 L194.6,434.0 L194.9,435.9 L195.2,437.7 L195.5,439.3 L195.8,440.8 L196.1,442.1 L196.4,443.2 L196.7,444.0 L197.0,444.6 L197.3,445.0 L197.6,445.1 L197.9,445.0 L198.2,444.6 L198.5,443.9 L198.8,442.9 L199.1,441.8 L199.4,440.4 L199.7,438.7 L200.0,436.9 L200.3,434.9 L200.6,432.8 L200.9,430.5 L201.2,428.2 L201.5,425.8 L201.8,423.4 L202.1,420.9 L202.4,418.5 L202.7,416.2 L203.0,413.9 L203.3,411.8 L203.6,409.8 L203.9,408.0 L204.2,406.3 L204.5,404.9 L204.8,403.8 L205.1,402.8 L205.4,402.1 L205.7,401.7 L206.0,401.6 L206.3,401.7 L206.6,402.2 L206.9,402.9 L207.2,403.9 L207.5,405.2 L207.9,406.8 L208.2,408.5 L208.5,410.5 L208.8,412.7 L209.1,415.0 L209.4,417.4 L209.7,420.0 L210.0,422.6 L210.3,425.2 L210.6,427.9 L210.9,430.5 L211.3,433.1 L211.6,435.5 L211.9,437.8 L212.2,440.0 L212.5,442.0 L212.8,443.7 L213.1,445.3 L213.4,446.6 L213.7,447.6 L214.0,448.3 L214.3,448.8 L214.7,448.9 L215.0,448.7 L215.3,448.3 L215.6,447.5 L215.9,446.4 L216.2,445.0 L216.5,443.4 L216.8,441.5 L217.1,439.3 L217.4,437.0 L217.7,434.5 L218.0,431.9 L218.4,429.2 L218.7,426.3 L219.0,423.5 L219.3,420.7 L219.6,417.8 L219.9,415.1 L220.2,412.5 L220.5,410.0 L220.8,407.7 L221.1,405.5 L221.4,403.6 L221.8,402.0 L222.1,400.6 L222.4,399.5 L222.7,398.7 L223.0,398.3 L223.3,398.1 L223.6,398.3 L223.9,398.8 L224.2,399.6 L224.5,400.7 L224.8,402.2 L225.2,403.9 L225.5,405.9 L225.8,408.1 L226.1,410.6 L226.4,413.2 L226.7,415.9 L227.0,418.8 L227.3,421.8 L227.6,424.8 L227.9,427.7 L228.2,430.7 L228.6,433.6 L228.9,436.3 L229.2,438.9 L229.5,441.4 L229.8,443.6 L230.1,445.6 L230.4,447.3 L230.7,448.8 L231.0,449.9 L231.3,450.7 L231.6,451.2 L231.9,451.4 L232.3,451.2 L232.6,450.7 L232.9,449.8 L233.2,448.6 L233.5,447.1 L233.8,445.3 L234.1,443.3 L234.4,440.9 L234.7,438.4 L235.0,435.7 L235.3,432.8 L235.7,429.8 L236.0,426.7 L236.3,423.6 L236.6,420.5 L236.9,417.4 L237.2,414.4 L237.5,411.5 L237.8,408.8 L238.1,406.3 L238.4,403.9 L238.7,401.9 L239.1,400.1 L239.4,398.6 L239.7,397.4 L240.0,396.5 L240.3,396.0 L240.6,395.8 L240.9,396.0 L241.2,396.6 L241.5,397.5 L241.8,398.9 L242.1,400.6 L242.4,402.6 L242.7,404.9 L243.0,407.5 L243.3,410.3 L243.6,413.3 L243.9,416.4 L244.2,419.7 L244.5,423.1 L244.8,426.4 L245.1,429.8 L245.4,433.1 L245.7,436.2 L246.0,439.2 L246.3,442.0 L246.6,444.6 L246.9,446.9 L247.2,448.9 L247.5,450.6 L247.8,452.0 L248.1,452.9 L248.4,453.5 L248.8,453.7 L249.1,453.5 L249.4,452.9 L249.7,451.9 L250.0,450.6 L250.3,448.8 L250.6,446.8 L250.9,444.4 L251.2,441.8 L251.5,438.9 L251.8,435.9 L252.1,432.7 L252.4,429.3 L252.7,425.9 L253.0,422.5 L253.3,419.1 L253.6,415.7 L253.9,412.5 L254.2,409.4 L254.5,406.6 L254.8,404.0 L255.1,401.6 L255.4,399.6 L255.7,397.8 L256.0,396.5 L256.3,395.5 L256.6,394.9 L256.9,394.7 L257.2,394.9 L257.5,395.5 L257.8,396.5 L258.1,397.9 L258.4,399.6 L258.7,401.7 L259.0,404.1 L259.3,406.8 L259.6,409.7 L259.9,412.8 L260.2,416.1 L260.5,419.5 L260.8,423.0 L261.1,426.4 L261.4,429.9 L261.7,433.3 L262.0,436.6 L262.3,439.7 L262.6,442.6 L262.9,445.3 L263.2,447.7 L263.5,449.8 L263.8,451.5 L264.1,452.9 L264.4,453.9 L264.7,454.5 L265.0,454.7 L265.4,454.5 L265.7,453.8 L266.0,452.8 L266.3,451.3 L266.6,449.5 L266.9,447.3 L267.2,444.8 L267.5,442.0 L267.8,438.9 L268.1,435.6 L268.4,432.1 L268.7,428.5 L269.0,424.9 L269.3,421.2 L269.6,417.6 L269.9,414.0 L270.2,410.5 L270.5,407.2 L270.8,404.1 L271.1,401.3 L271.4,398.8 L271.7,396.6 L272.0,394.8 L272.3,393.3 L272.6,392.3 L272.9,391.6 L273.2,391.4 L273.5,391.6 L273.8,392.3 L274.1,393.4 L274.4,394.9 L274.7,396.8 L275.0,399.0 L275.3,401.6 L275.6,404.5 L275.9,407.7 L276.2,411.1 L276.5,414.7 L276.8,418.3 L277.1,422.1 L277.4,425.9 L277.7,429.7 L278.0,433.3 L278.3,436.9 L278.6,440.3 L278.9,443.5 L279.2,446.4 L279.5,449.0 L279.8,451.2 L280.1,453.1 L280.4,454.6 L280.7,455.7 L281.0,456.4 L281.4,456.6 L281.7,456.4 L282.0,455.7 L282.3,454.6 L282.6,453.1 L282.9,451.2 L283.2,449.0 L283.5,446.4 L283.8,443.5 L284.1,440.3 L284.4,436.9 L284.7,433.3 L285.0,429.7 L285.3,425.9 L285.6,422.1 L285.9,418.3 L286.2,414.7 L286.5,411.1 L286.8,407.7 L287.1,404.5 L287.4,401.6 L287.7,399.0 L288.0,396.8 L288.3,394.9 L288.6,393.4 L288.9,392.3 L289.2,391.6 L289.5,391.4 L289.8,391.7 L290.1,392.4 L290.4,393.7 L290.7,395.5 L291.0,397.7 L291.3,400.4 L291.6,403.4 L291.9,406.8 L292.3,410.4 L292.6,414.3 L292.9,418.3 L293.2,422.4 L293.5,426.6 L293.8,430.7 L294.1,434.7 L294.4,438.6 L294.7,442.2 L295.0,445.6 L295.3,448.6 L295.6,451.3 L295.9,453.5 L296.2,455.3 L296.5,456.6 L296.8,457.3 L297.1,457.6 L297.5,457.4 L297.8,456.6 L298.1,455.4 L298.4,453.7 L298.7,451.6 L299.0,449.0 L299.3,446.1 L299.6,442.9 L299.9,439.4 L300.2,435.7 L300.5,431.9 L300.8,427.9 L301.1,424.0 L301.4,420.0 L301.7,416.2 L302.0,412.5 L302.4,409.0 L302.7,405.8 L303.0,402.9 L303.3,400.3 L303.6,398.2 L303.9,396.5 L304.2,395.3 L304.5,394.5 L304.8,394.3 L305.1,394.6 L305.4,395.3 L305.7,396.6 L306.0,398.3 L306.3,400.4 L306.6,403.0 L307.0,405.9 L307.3,409.2 L307.6,412.7 L307.9,416.5 L308.2,420.4 L308.5,424.4 L308.8,428.4 L309.1,432.4 L309.4,436.3 L309.7,440.1 L310.0,443.6 L310.3,446.9 L310.7,449.8 L311.0,452.4 L311.3,454.5 L311.6,456.2 L311.9,457.5 L312.2,458.2 L312.5,458.5 L312.8,458.2 L313.1,457.5 L313.4,456.2 L313.7,454.5 L314.0,452.3 L314.3,449.7 L314.7,446.8 L315.0,443.5 L315.3,440.0 L315.6,436.2 L315.9,432.3 L316.2,428.2 L316.5,424.2 L316.8,420.1 L317.1,416.2 L317.4,412.4 L317.7,408.9 L318.0,405.6 L318.4,402.7 L318.7,400.1 L319.0,397.9 L319.3,396.2 L319.6,394.9 L319.9,394.2 L320.2,393.9 L320.5,394.2 L320.8,394.9 L321.1,396.2 L321.4,397.9 L321.7,400.1 L322.0,402.7 L322.3,405.7 L322.6,409.0 L323.0,412.6 L323.3,416.4 L323.6,420.4 L323.9,424.5 L324.2,428.5 L324.5,432.6 L324.8,436.6 L325.1,440.4 L325.4,444.0 L325.7,447.3 L326.0,450.3 L326.3,452.9 L326.6,455.1 L326.9,456.8 L327.2,458.1 L327.5,458.8 L327.9,459.1 L328.2,458.8 L328.5,458.1 L328.8,456.8 L329.1,455.0 L329.4,452.8 L329.7,450.2 L330.0,447.2 L330.3,443.8 L330.6,440.2 L330.9,436.4 L331.2,432.4 L331.5,428.3 L331.8,424.1 L332.1,420.0 L332.4,416.0 L332.7,412.2 L333.1,408.6 L333.4,405.2 L333.7,402.2 L334.0,399.6 L334.3,397.4 L334.6,395.6 L334.9,394.3 L335.2,393.6 L335.5,393.3 L335.8,393.6 L336.1,394.6 L336.4,396.1 L336.8,398.3 L337.1,400.9 L337.4,404.1 L337.7,407.7 L338.0,411.7 L338.3,415.9 L338.6,420.4 L338.9,425.0 L339.3,429.7 L339.6,434.3 L339.9,438.8 L340.2,443.0 L340.5,447.0 L340.8,450.6 L341.1,453.8 L341.4,456.4 L341.8,458.6 L342.1,460.1 L342.4,461.1 L342.7,461.4 L343.0,461.1 L343.3,460.1 L343.6,458.5 L344.0,456.2 L344.3,453.4 L344.6,450.1 L344.9,446.4 L345.2,442.2 L345.5,437.8 L345.8,433.1 L346.1,428.3 L346.5,423.5 L346.8,418.7 L347.1,414.0 L347.4,409.6 L347.7,405.4 L348.0,401.7 L348.3,398.4 L348.6,395.6 L349.0,393.3 L349.3,391.7 L349.6,390.7 L349.9,390.4 L350.2,390.7 L350.5,391.6 L350.8,393.1 L351.1,395.2 L351.4,397.7 L351.7,400.8 L352.0,404.3 L352.3,408.1 L352.6,412.3 L352.9,416.7 L353.2,421.3 L353.5,425.9 L353.8,430.5 L354.1,435.1 L354.4,439.5 L354.7,443.6 L355.0,447.5 L355.3,451.0 L355.6,454.1 L355.9,456.6 L356.2,458.7 L356.5,460.2 L356.8,461.1 L357.1,461.4 L357.4,461.1 L357.7,460.1 L358.0,458.6 L358.4,456.4 L358.7,453.7 L359.0,450.5 L359.3,446.9 L359.6,442.9 L359.9,438.6 L360.2,434.0 L360.5,429.4 L360.9,424.7 L361.2,420.1 L361.5,415.5 L361.8,411.2 L362.1,407.2 L362.4,403.6 L362.7,400.4 L363.0,397.7 L363.4,395.5 L363.7,394.0 L364.0,393.0 L364.3,392.7 L364.6,393.0 L364.9,394.0 L365.2,395.6 L365.6,397.8 L365.9,400.5 L366.2,403.8 L366.5,407.5 L366.8,411.5 L367.1,415.9 L367.4,420.5 L367.7,425.2 L368.1,429.9 L368.4,434.6 L368.7,439.2 L369.0,443.6 L369.3,447.6 L369.6,451.3 L369.9,454.6 L370.2,457.3 L370.6,459.5 L370.9,461.1 L371.2,462.1 L371.5,462.4 L371.8,462.1 L372.1,461.0 L372.4,459.4 L372.8,457.1 L373.1,454.2 L373.4,450.8 L373.7,447.0 L374.0,442.7 L374.3,438.2 L374.6,433.4 L374.9,428.4 L375.3,423.5 L375.6,418.5 L375.9,413.7 L376.2,409.2 L376.5,404.9 L376.8,401.1 L377.1,397.7 L377.4,394.8 L377.8,392.5 L378.1,390.9 L378.4,389.8 L378.7,389.5 L379.0,389.9 L379.3,391.0 L379.6,392.9 L379.9,395.4 L380.2,398.6 L380.6,402.4 L380.9,406.7 L381.2,411.4 L381.5,416.4 L381.8,421.6 L382.1,426.9 L382.4,432.2 L382.7,437.4 L383.0,442.4 L383.3,447.1 L383.6,451.4 L384.0,455.2 L384.3,458.4 L384.6,460.9 L384.9,462.8 L385.2,463.9 L385.5,464.3 L385.8,463.9 L386.1,462.8 L386.4,460.9 L386.7,458.3 L387.0,455.0 L387.4,451.2 L387.7,446.9 L388.0,442.2 L388.3,437.1 L388.6,431.8 L388.9,426.4 L389.2,421.0 L389.5,415.7 L389.8,410.7 L390.1,405.9 L390.4,401.6 L390.8,397.8 L391.1,394.5 L391.4,392.0 L391.7,390.1 L392.0,388.9 L392.3,388.5 L392.6,388.9 L392.9,390.0 L393.2,391.7 L393.5,394.1 L393.8,397.1 L394.1,400.7 L394.4,404.8 L394.7,409.2 L395.0,414.0 L395.3,419.1 L395.6,424.2 L396.0,429.5 L396.3,434.7 L396.6,439.7 L396.9,444.5 L397.2,449.0 L397.5,453.0 L397.8,456.6 L398.1,459.6 L398.4,462.0 L398.7,463.8 L399.0,464.8 L399.3,465.2 L399.6,464.8 L399.9,463.8 L400.2,462.0 L400.5,459.5 L400.8,456.5 L401.1,452.9 L401.4,448.8 L401.7,444.2 L402.0,439.4 L402.3,434.3 L402.6,429.0 L403.0,423.7 L403.3,418.4 L403.6,413.3 L403.9,408.5 L404.2,403.9 L404.5,399.8 L404.8,396.2 L405.1,393.2 L405.4,390.7 L405.7,388.9 L406.0,387.9 L406.3,387.5 L406.6,388.0 L406.9,389.5 L407.2,391.9 L407.6,395.2 L407.9,399.3 L408.2,404.1 L408.5,409.5 L408.8,415.3 L409.1,421.5 L409.4,427.8 L409.7,434.1 L410.1,440.3 L410.4,446.1 L410.7,451.5 L411.0,456.3 L411.3,460.4 L411.6,463.7 L411.9,466.1 L412.2,467.6 L412.6,468.1 L412.9,467.6 L413.2,466.2 L413.5,463.8 L413.8,460.5 L414.1,456.4 L414.4,451.7 L414.7,446.4 L415.1,440.6 L415.4,434.5 L415.7,428.3 L416.0,422.1 L416.3,416.0 L416.6,410.2 L416.9,404.9 L417.2,400.2 L417.6,396.1 L417.9,392.8 L418.2,390.4 L418.5,389.0 L418.8,388.5 L419.1,389.0 L419.4,390.3 L419.7,392.5 L420.0,395.5 L420.3,399.3 L420.7,403.7 L421.0,408.6 L421.3,414.1 L421.6,419.8 L421.9,425.8 L422.2,431.8 L422.5,437.8 L422.8,443.5 L423.1,448.9 L423.4,453.9 L423.8,458.3 L424.1,462.1 L424.4,465.1 L424.7,467.3 L425.0,468.6 L425.3,469.1 L425.6,468.6 L425.9,467.2 L426.2,465.0 L426.5,461.8 L426.8,457.9 L427.2,453.4 L427.5,448.2 L427.8,442.6 L428.1,436.6 L428.4,430.4 L428.7,424.2 L429.0,418.0 L429.3,412.0 L429.6,406.4 L429.9,401.2 L430.3,396.7 L430.6,392.8 L430.9,389.6 L431.2,387.4 L431.5,386.0 L431.8,385.5 L432.1,386.0 L432.4,387.6 L432.7,390.1 L433.1,393.6 L433.4,397.9 L433.7,402.9 L434.0,408.6 L434.3,414.7 L434.6,421.1 L434.9,427.8 L435.2,434.4 L435.6,440.8 L435.9,446.9 L436.2,452.6 L436.5,457.6 L436.8,461.9 L437.1,465.4 L437.4,467.9 L437.7,469.5 L438.1,470.0 L438.4,469.5 L438.7,467.9 L439.0,465.3 L439.3,461.8 L439.6,457.4 L439.9,452.2 L440.2,446.4 L440.6,440.2 L440.9,433.6 L441.2,426.9 L441.5,420.1 L441.8,413.5 L442.1,407.3 L442.4,401.5 L442.7,396.3 L443.1,391.9 L443.4,388.4 L443.7,385.8 L444.0,384.2 L444.3,383.7 L444.6,384.3 L444.9,386.1 L445.2,389.0 L445.6,393.0 L445.9,397.9 L446.2,403.7 L446.5,410.1 L446.8,417.0 L447.1,424.2 L447.4,431.5 L447.7,438.7 L448.1,445.6 L448.4,452.0 L448.7,457.8 L449.0,462.7 L449.3,466.7 L449.6,469.6 L449.9,471.4 L450.2,472.0 L450.6,471.4 L450.9,469.6 L451.2,466.7 L451.5,462.8 L451.8,457.9 L452.1,452.2 L452.4,445.9 L452.8,439.1 L453.1,432.0 L453.4,424.7 L453.7,417.6 L454.0,410.8 L454.3,404.5 L454.6,398.8 L454.9,393.9 L455.3,390.0 L455.6,387.1 L455.9,385.3 L456.2,384.7 L456.5,385.2 L456.8,386.9 L457.1,389.5 L457.4,393.1 L457.7,397.6 L458.0,402.9 L458.3,408.8 L458.6,415.2 L458.9,421.9 L459.2,428.8 L459.5,435.7 L459.8,442.4 L460.1,448.8 L460.4,454.7 L460.7,460.0 L461.0,464.5 L461.3,468.1 L461.6,470.7 L461.9,472.4 L462.2,472.9 L462.6,472.4 L462.9,470.7 L463.2,468.0 L463.5,464.4 L463.8,459.8 L464.1,454.5 L464.4,448.5 L464.7,442.1 L465.0,435.3 L465.3,428.3 L465.6,421.3 L465.9,414.5 L466.2,408.1 L466.5,402.1 L466.8,396.8 L467.1,392.2 L467.4,388.6 L467.7,385.9 L468.0,384.2 L468.3,383.7 L468.6,384.3 L468.9,386.1 L469.2,389.1 L469.6,393.1 L469.9,398.1 L470.2,403.9 L470.5,410.4 L470.8,417.4 L471.1,424.6 L471.4,432.0 L471.7,439.2 L472.1,446.2 L472.4,452.7 L472.7,458.5 L473.0,463.5 L473.3,467.5 L473.6,470.5 L473.9,472.3 L474.2,472.9 L474.6,472.3 L474.9,470.4 L475.2,467.3 L475.5,463.2 L475.8,458.0 L476.1,452.0 L476.4,445.3 L476.8,438.2 L477.1,430.7 L477.4,423.0 L477.7,415.5 L478.0,408.4 L478.3,401.7 L478.6,395.7 L478.9,390.5 L479.3,386.4 L479.6,383.3 L479.9,381.4 L480.2,380.8 L480.5,381.4 L480.8,383.3 L481.1,386.5 L481.5,390.7 L481.8,396.0 L482.1,402.1 L482.4,408.9 L482.7,416.3 L483.0,423.9 L483.3,431.7 L483.6,439.3 L484.0,446.7 L484.3,453.5 L484.6,459.6 L484.9,464.9 L485.2,469.1 L485.5,472.3 L485.8,474.2 L486.1,474.8 L486.5,474.2 L486.8,472.3 L487.1,469.1 L487.4,464.9 L487.7,459.6 L488.0,453.5 L488.3,446.7 L488.7,439.3 L489.0,431.7 L489.3,423.9 L489.6,416.3 L489.9,408.9 L490.2,402.1 L490.5,396.0 L490.8,390.7 L491.2,386.5 L491.5,383.3 L491.8,381.4 L492.1,380.8 L492.4,381.5 L492.7,383.7 L493.0,387.2 L493.3,391.9 L493.6,397.8 L493.9,404.6 L494.3,412.1 L494.6,420.1 L494.9,428.3 L495.2,436.5 L495.5,444.5 L495.8,452.1 L496.1,458.8 L496.4,464.7 L496.7,469.4 L497.0,472.9 L497.3,475.1 L497.6,475.8 L498.0,475.1 L498.3,472.9 L498.6,469.4 L498.9,464.6 L499.2,458.7 L499.5,451.8 L499.8,444.2 L500.1,436.2 L500.4,427.9 L500.7,419.5 L501.0,411.5 L501.3,403.9 L501.7,397.0 L502.0,391.1 L502.3,386.3 L502.6,382.8 L502.9,380.6 L503.2,379.9 L503.5,380.6 L503.8,382.8 L504.1,386.4 L504.4,391.2 L504.7,397.2 L505.1,404.1 L505.4,411.8 L505.7,419.9 L506.0,428.3 L506.3,436.8 L506.6,444.9 L506.9,452.6 L507.2,459.5 L507.5,465.5 L507.8,470.3 L508.1,473.9 L508.4,476.1 L508.8,476.8 L509.1,476.1 L509.4,473.9 L509.7,470.4 L510.0,465.6 L510.3,459.7 L510.6,452.8 L510.9,445.2 L511.2,437.1 L511.5,428.8 L511.8,420.5 L512.1,412.4 L512.4,404.8 L512.8,397.9 L513.1,392.0 L513.4,387.2 L513.7,383.7 L514.0,381.5 L514.3,380.8 L514.6,381.5 L514.9,383.8 L515.2,387.4 L515.5,392.3 L515.8,398.3 L516.1,405.3 L516.4,413.0 L516.7,421.2 L517.0,429.8 L517.3,438.3 L517.6,446.5 L517.9,454.2 L518.2,461.2 L518.5,467.2 L518.8,472.1 L519.1,475.7 L519.4,478.0 L519.8,478.7 L520.1,478.0 L520.4,475.8 L520.7,472.2 L521.0,467.4 L521.3,461.4 L521.6,454.5 L521.9,446.8 L522.2,438.7 L522.5,430.2 L522.8,421.8 L523.1,413.7 L523.4,406.0 L523.7,399.1 L524.0,393.1 L524.3,388.3 L524.6,384.7 L524.9,382.5 L525.2,381.8 L525.5,382.6 L525.8,385.1 L526.1,389.1 L526.4,394.4 L526.8,401.1 L527.1,408.7 L527.4,417.0 L527.7,425.8 L528.0,434.7 L528.3,443.5 L528.6,451.8 L528.9,459.4 L529.3,466.1 L529.6,471.4 L529.9,475.4 L530.2,477.9 L530.5,478.7 L530.8,477.9 L531.1,475.3 L531.4,471.2 L531.7,465.7 L532.1,458.9 L532.4,451.1 L532.7,442.5 L533.0,433.4 L533.3,424.3 L533.6,415.2 L533.9,406.6 L534.2,398.8 L534.6,392.0 L534.9,386.5 L535.2,382.4 L535.5,379.8 L535.8,379.0 L536.1,379.9 L536.4,382.4 L536.7,386.5 L537.0,392.1 L537.3,399.0 L537.7,406.9 L538.0,415.5 L538.3,424.7 L538.6,433.9 L538.9,443.1 L539.2,451.7 L539.5,459.6 L539.8,466.5 L540.1,472.1 L540.4,476.2 L540.7,478.7 L541.0,479.6 L541.4,478.7 L541.7,476.2 L542.0,472.1 L542.3,466.5 L542.6,459.6 L542.9,451.7 L543.2,443.1 L543.5,433.9 L543.8,424.7 L544.1,415.5 L544.4,406.9 L544.8,399.0 L545.1,392.1 L545.4,386.5 L545.7,382.4 L546.0,379.9 L546.3,379.0 L546.6,380.1 L546.9,383.4 L547.3,388.7 L547.6,395.8 L547.9,404.4 L548.2,414.1 L548.5,424.5 L548.9,435.1 L549.2,445.5 L549.5,455.2 L549.8,463.8 L550.1,470.9 L550.5,476.2 L550.8,479.5 L551.1,480.6 L551.4,479.6 L551.7,476.7 L552.0,472.0 L552.3,465.7 L552.6,458.0 L552.9,449.2 L553.2,439.7 L553.5,429.8 L553.8,419.9 L554.1,410.4 L554.4,401.6 L554.7,393.9 L555.0,387.6 L555.3,382.9 L555.6,380.0 L555.9,379.0 L556.2,379.9 L556.5,382.5 L556.8,386.8 L557.1,392.5 L557.4,399.6 L557.7,407.7 L558.0,416.6 L558.3,426.0 L558.6,435.5 L558.9,444.9 L559.2,453.8 L559.5,461.9 L559.8,469.0 L560.1,474.7 L560.4,479.0 L560.7,481.6 L561.0,482.5 L561.3,481.6 L561.6,478.9 L561.9,474.6 L562.2,468.7 L562.5,461.5 L562.8,453.3 L563.1,444.2 L563.4,434.6 L563.7,424.9 L564.0,415.3 L564.3,406.2 L564.6,398.0 L564.9,390.8 L565.2,384.9 L565.5,380.6 L565.8,377.9 L566.1,377.0 L566.4,378.0 L566.7,381.1 L567.0,386.0 L567.4,392.6 L567.7,400.7 L568.0,409.9 L568.3,419.9 L568.6,430.2 L568.9,440.6 L569.2,450.6 L569.5,459.8 L569.9,467.9 L570.2,474.5 L570.5,479.4 L570.8,482.5 L571.1,483.5 L571.4,482.5 L571.7,479.4 L572.0,474.4 L572.4,467.6 L572.7,459.4 L573.0,450.0 L573.3,439.9 L573.6,429.3 L573.9,418.7 L574.2,408.6 L574.5,399.2 L574.9,391.0 L575.2,384.2 L575.5,379.2 L575.8,376.1 L576.1,375.1 L576.4,376.2 L576.7,379.3 L577.0,384.3 L577.3,391.1 L577.6,399.4 L577.9,408.9 L578.2,419.1 L578.5,429.8 L578.8,440.5 L579.1,450.7 L579.4,460.2 L579.7,468.5 L580.0,475.3 L580.3,480.3 L580.6,483.4 L580.9,484.5 L581.2,483.3 L581.5,479.8 L581.9,474.1 L582.2,466.6 L582.5,457.4 L582.8,447.0 L583.1,435.9 L583.5,424.6 L583.8,413.5 L584.1,403.1 L584.4,393.9 L584.7,386.4 L585.1,380.7 L585.4,377.2 L585.7,376.0 L586.0,377.2 L586.3,380.7 L586.7,386.4 L587.0,394.1 L587.3,403.3 L587.6,413.8 L587.9,425.0 L588.3,436.4 L588.6,447.6 L588.9,458.0 L589.2,467.3 L589.5,475.0 L589.9,480.7 L590.2,484.2 L590.5,485.4 L590.8,484.2 L591.1,480.5 L591.5,474.7 L591.8,466.8 L592.1,457.3 L592.4,446.6 L592.7,435.2 L593.1,423.4 L593.4,412.0 L593.7,401.2 L594.0,391.8 L594.3,383.9 L594.7,378.1 L595.0,374.4 L595.3,373.2 L595.6,374.4 L595.9,378.1 L596.2,384.1 L596.5,392.1 L596.8,401.7 L597.1,412.6 L597.4,424.3 L597.8,436.2 L598.1,447.9 L598.4,458.8 L598.7,468.4 L599.0,476.4 L599.3,482.4 L599.6,486.1 L599.9,487.3 L600.2,486.0 L600.5,482.2 L600.8,476.1 L601.1,467.9 L601.4,458.1 L601.7,446.9 L602.0,434.9 L602.4,422.7 L602.7,410.7 L603.0,399.6 L603.3,389.7 L603.6,381.5 L603.9,375.4 L604.2,371.6 L604.5,370.3 L604.8,371.8 L605.1,376.2 L605.4,383.3 L605.7,392.7 L606.0,404.0 L606.3,416.5 L606.6,429.8 L606.9,443.0 L607.2,455.5 L607.5,466.8 L607.8,476.2 L608.1,483.3 L608.4,487.7 L608.7,489.2 L609.0,487.5 L609.3,482.4 L609.7,474.2 L610.0,463.5 L610.3,450.8 L610.6,436.9 L611.0,422.6 L611.3,408.7 L611.6,396.0 L611.9,385.3 L612.3,377.1 L612.6,372.0 L612.9,370.3 L613.2,371.8 L613.5,376.3 L613.8,383.6 L614.2,393.2 L614.5,404.8 L614.8,417.6 L615.1,431.2 L615.4,444.8 L615.7,457.6 L616.0,469.2 L616.4,478.8 L616.7,486.1 L617.0,490.6 L617.3,492.1 L617.6,490.6 L617.9,486.2 L618.2,479.1 L618.6,469.7 L618.9,458.4 L619.2,445.9 L619.5,432.7 L619.8,419.4 L620.1,406.9 L620.4,395.6 L620.8,386.2 L621.1,379.1 L621.4,374.7 L621.7,373.2 L622.0,374.6 L622.3,378.9 L622.6,385.8 L622.9,394.9 L623.2,405.8 L623.5,417.9 L623.8,430.8 L624.1,443.6 L624.4,455.7 L624.7,466.6 L625.0,475.7 L625.3,482.6 L625.6,486.9 L626.0,488.3 L626.3,486.8 L626.6,482.6 L626.9,475.6 L627.2,466.4 L627.5,455.4 L627.8,443.2 L628.1,430.2 L628.4,417.3 L628.7,405.1 L629.0,394.1 L629.3,384.9 L629.6,377.9 L629.9,373.7 L630.2,372.2 L630.5,373.7 L630.8,378.1 L631.1,385.2 L631.5,394.6 L631.8,405.9 L632.1,418.5 L632.4,431.7 L632.7,444.9 L633.0,457.5 L633.3,468.8 L633.7,478.2 L634.0,485.3 L634.3,489.7 L634.6,491.2 L634.9,489.7 L635.2,485.1 L635.5,477.8 L635.9,468.1 L636.2,456.5 L636.5,443.5 L636.8,429.9 L637.1,416.2 L637.4,403.2 L637.7,391.6 L638.1,381.9 L638.4,374.6 L638.7,370.0 L639.0,368.5 L639.3,370.3 L639.6,375.6 L639.9,384.2 L640.2,395.4 L640.5,408.7 L640.8,423.3 L641.2,438.3 L641.5,452.9 L641.8,466.2 L642.1,477.4 L642.4,486.0 L642.7,491.3 L643.0,493.1 L643.3,491.3 L643.6,486.1 L643.9,477.7 L644.2,466.6 L644.5,453.5 L644.8,439.1 L645.2,424.3 L645.5,409.9 L645.8,396.8 L646.1,385.7 L646.4,377.3 L646.7,372.1 L647.0,370.3 L647.3,371.8 L647.6,376.2 L647.9,383.4 L648.2,392.9 L648.6,404.2 L648.9,416.9 L649.2,430.2 L649.5,443.6 L649.8,456.3 L650.1,467.6 L650.4,477.1 L650.7,484.3 L651.0,488.7 L651.4,490.2 L651.7,488.7 L652.0,484.3 L652.3,477.2 L652.6,467.8 L652.9,456.5 L653.2,444.0 L653.5,430.8 L653.8,417.5 L654.1,405.0 L654.5,393.7 L654.8,384.3 L655.1,377.2 L655.4,372.8 L655.7,371.3 L656.0,373.4 L656.3,379.5 L656.7,389.3 L657.0,402.0 L657.3,416.8 L657.6,432.6 L657.9,448.5 L658.3,463.3 L658.6,476.0 L658.9,485.8 L659.2,491.9 L659.5,494.0 L659.9,491.8 L660.2,485.5 L660.5,475.3 L660.8,462.1 L661.2,446.7 L661.5,430.2 L661.8,413.8 L662.1,398.4 L662.4,385.2 L662.8,375.0 L663.1,368.7 L663.4,366.5 L663.7,368.5 L664.0,374.5 L664.4,384.0 L664.7,396.4 L665.0,410.9 L665.3,426.4 L665.6,441.9 L665.9,456.4 L666.2,468.8 L666.6,478.3 L666.9,484.3 L667.2,486.3 L667.5,484.2 L667.8,478.1 L668.2,468.5 L668.5,455.9 L668.8,441.2 L669.1,425.4 L669.4,409.6 L669.7,395.0 L670.0,382.3 L670.4,372.7 L670.7,366.6 L671.0,364.5 L671.3,366.6 L671.6,372.6 L672.0,382.2 L672.3,394.7 L672.6,409.3 L672.9,424.9 L673.2,440.6 L673.6,455.2 L673.9,467.7 L674.2,477.3 L674.5,483.3 L674.9,485.4 L675.2,483.3 L675.5,477.2 L675.8,467.6 L676.1,454.9 L676.5,440.3 L676.8,424.5 L677.1,408.7 L677.4,394.1 L677.7,381.4 L678.1,371.8 L678.4,365.7 L678.7,363.6 L679.0,365.8 L679.3,372.2 L679.7,382.4 L680.0,395.7 L680.3,411.2 L680.6,427.9 L680.9,444.5 L681.3,460.0 L681.6,473.3 L681.9,483.5 L682.2,489.9 L682.5,492.1 L682.9,490.0 L683.2,483.7 L683.5,473.7 L683.8,460.7 L684.2,445.6 L684.5,429.3 L684.8,413.0 L685.1,397.9 L685.4,384.9 L685.8,374.9 L686.1,368.6 L686.4,366.5 L686.7,369.2 L687.0,376.9 L687.4,389.2 L687.7,404.9 L688.0,422.8 L688.3,441.6 L688.7,459.5 L689.0,475.2 L689.3,487.5 L689.6,495.2 L690.0,497.9 L690.3,495.3 L690.6,487.6 L690.9,475.5 L691.2,460.0 L691.6,442.4 L691.9,423.9 L692.2,406.2 L692.5,390.7 L692.9,378.6 L693.2,371.0 L693.5,368.4 L693.8,371.5 L694.1,380.6 L694.4,394.9 L694.7,412.8 L695.0,432.7 L695.3,452.5 L695.6,470.5 L695.9,484.7 L696.2,493.8 L696.5,497.0 L696.9,493.7 L697.2,484.1 L697.5,469.2 L697.8,450.4 L698.1,429.6 L698.4,408.7 L698.7,390.0 L699.0,375.1 L699.3,365.5 L699.6,362.2 L699.9,364.5 L700.2,371.4 L700.6,382.4 L700.9,396.7 L701.2,413.4 L701.5,431.3 L701.8,449.2 L702.2,465.8 L702.5,480.2 L702.8,491.1 L703.1,498.0 L703.5,500.4 L703.8,498.0 L704.1,490.8 L704.4,479.5 L704.7,464.7 L705.1,447.5 L705.4,429.1 L705.7,410.6 L706.0,393.4 L706.3,378.7 L706.7,367.3 L707.0,360.2 L707.3,357.8 L707.6,360.6 L707.9,369.0 L708.2,382.2 L708.5,399.1 L708.8,418.5 L709.1,438.6 L709.4,457.9 L709.7,474.9 L710.0,488.1 L710.3,496.4 L710.6,499.3 L711.0,496.4 L711.3,488.1 L711.6,475.0 L711.9,458.1 L712.2,438.8 L712.5,418.7 L712.8,399.4 L713.1,382.6 L713.4,369.4 L713.7,361.1 L714.0,358.2 L714.3,360.8 L714.6,368.3 L714.9,380.1 L715.2,395.3 L715.5,412.6 L715.8,430.7 L716.1,448.0 L716.4,463.2 L716.7,475.0 L717.0,482.5 L717.4,485.1 L717.7,482.7 L718.0,475.8 L718.3,464.9 L718.6,450.9 L718.9,435.0 L719.2,418.4 L719.5,402.4 L719.8,388.4 L720.1,377.5 L720.4,370.6 L720.7,368.3 L721.0,371.6 L721.3,381.2 L721.6,396.1 L721.9,414.9 L722.2,435.8 L722.6,456.7 L722.9,475.5 L723.2,490.5 L723.5,500.1 L723.8,503.4 L724.1,500.0 L724.4,490.1 L724.7,474.7 L725.0,455.3 L725.3,433.8 L725.7,412.3 L726.0,392.9 L726.3,377.5 L726.6,367.6 L726.9,364.2 L727.2,367.6 L727.5,377.4 L727.8,392.7 L728.2,412.0 L728.5,433.4 L728.8,454.7 L729.1,474.0 L729.4,489.3 L729.7,499.1 L730.0,502.5 L730.4,499.4 L730.7,490.4 L731.0,476.4 L731.3,458.8 L731.6,439.3 L731.9,419.7 L732.3,402.1 L732.6,388.1 L732.9,379.1 L733.2,376.0 L733.5,378.9 L733.8,387.3 L734.1,400.3 L734.5,416.7 L734.8,434.9 L735.1,453.2 L735.4,469.6 L735.7,482.6 L736.0,491.0 L736.4,493.9 L736.7,490.9 L737.0,482.3 L737.3,469.0 L737.6,452.1 L737.9,433.5 L738.2,414.8 L738.6,398.0 L738.9,384.6 L739.2,376.0 L739.5,373.1 L739.8,376.1 L740.1,384.8 L740.4,398.3 L740.7,415.3 L741.0,434.2 L741.4,453.1 L741.7,470.2 L742.0,483.7 L742.3,492.4 L742.6,495.4 L742.9,492.2 L743.2,483.0 L743.5,468.7 L743.8,450.6 L744.2,430.6 L744.5,410.6 L744.8,392.6 L745.1,378.2 L745.4,369.0 L745.7,365.9 L746.0,370.4 L746.4,383.3 L746.7,402.6 L747.0,425.3 L747.4,448.1 L747.7,467.4 L748.0,480.2 L748.4,484.8 L748.7,480.5 L749.0,468.5 L749.3,450.5 L749.7,429.2 L750.0,408.0 L750.3,390.0 L750.7,378.0 L751.0,373.7 L751.3,376.6 L751.6,384.8 L751.9,397.7 L752.2,413.9 L752.5,431.9 L752.9,449.9 L753.2,466.1 L753.5,479.0 L753.8,487.2 L754.1,490.1 L754.4,486.9 L754.7,477.5 L755.0,462.9 L755.3,444.6 L755.7,424.2 L756.0,403.9 L756.3,385.5 L756.6,370.9 L756.9,361.6 L757.2,358.3 L757.5,361.8 L757.8,371.8 L758.1,387.5 L758.4,407.2 L758.7,429.1 L759.0,450.9 L759.3,470.7 L759.6,486.3 L759.9,496.4 L760.2,499.8 L760.6,496.8 L760.9,487.9 L761.2,474.1 L761.5,456.7 L761.8,437.4 L762.1,418.1 L762.4,400.7 L762.7,386.9 L763.0,378.0 L763.3,375.0 L763.6,378.8 L763.9,389.7 L764.2,406.4 L764.5,426.8 L764.8,448.6 L765.1,469.1 L765.4,485.8 L765.7,496.7 L766.0,500.4 L766.3,496.7 L766.6,485.8 L766.9,469.2 L767.2,448.8 L767.5,427.1 L767.8,406.7 L768.1,390.1 L768.4,379.2 L768.7,375.4 L769.0,379.1 L769.3,389.6 L769.6,405.8 L769.9,425.6 L770.2,446.7 L770.5,466.5 L770.8,482.6 L771.1,493.2 L771.4,496.8 L771.7,492.2 L772.1,479.1 L772.4,459.5 L772.8,436.3 L773.1,413.1 L773.4,393.5 L773.8,380.3 L774.1,375.7 L774.4,379.0 L774.7,388.4 L775.1,402.9 L775.4,420.7 L775.7,439.6 L776.0,457.3 L776.3,471.8 L776.6,481.3 L777.0,484.5 L777.3,480.8 L777.6,469.9 L777.9,453.2 L778.2,432.8 L778.5,411.1 L778.9,390.6 L779.2,374.0 L779.5,363.1 L779.8,359.3 L780.1,365.7 L780.5,383.7 L780.8,409.6 L781.1,438.4 L781.4,464.3 L781.8,482.3 L782.1,488.7 L782.4,483.0 L782.8,467.1 L783.1,444.0 L783.4,418.4 L783.7,395.4 L784.1,379.5 L784.4,373.8 L784.7,378.7 L785.1,392.9 L785.4,414.0 L785.8,439.0 L786.1,463.9 L786.4,485.1 L786.8,499.2 L787.1,504.1 L787.4,499.8 L787.7,487.2 L788.0,467.9 L788.3,444.3 L788.6,419.2 L788.9,395.5 L789.2,376.3 L789.5,363.7 L789.8,359.3 L790.1,364.3 L790.4,378.5 L790.7,399.7 L791.0,424.8 L791.3,449.9 L791.6,471.1 L791.9,485.3 L792.2,490.3 L792.5,483.7 L792.9,465.3 L793.2,438.6 L793.6,409.0 L793.9,382.4 L794.3,363.9 L794.6,357.3 L794.9,362.6 L795.2,377.5 L795.6,399.9 L795.9,426.3 L796.2,452.7 L796.6,475.1 L796.9,490.0 L797.2,495.3 L797.5,490.3 L797.9,476.0 L798.2,454.6 L798.5,429.4 L798.8,404.2 L799.1,382.9 L799.5,368.6 L799.8,363.6 L800.1,368.3 L800.4,381.9 L800.7,402.2 L801.0,426.1 L801.4,450.0 L801.7,470.3 L802.0,483.8 L802.3,488.6 L802.6,483.6 L802.9,469.4 L803.2,448.2 L803.5,423.2 L803.9,398.2 L804.2,377.0 L804.5,362.8 L804.8,357.8 L805.1,361.1 L805.4,370.7 L805.7,385.4 L806.0,403.4 L806.3,422.6 L806.6,440.7 L806.9,455.3 L807.2,464.9 L807.5,468.3 L807.8,463.5 L808.2,450.1 L808.5,430.7 L808.8,409.2 L809.1,389.8 L809.5,376.4 L809.8,371.7 L810.1,378.6 L810.5,397.7 L810.8,423.7 L811.1,449.8 L811.4,468.8 L811.7,475.8 L812.0,472.1 L812.3,461.8 L812.6,446.9 L812.9,430.4 L813.2,415.5 L813.5,405.2 L813.9,401.6 L814.2,407.2 L814.5,422.0 L814.8,440.3 L815.1,455.1 L815.4,460.8 L815.7,452.9 L816.0,431.4 L816.3,402.0 L816.6,372.6 L817.0,354.5 L817.3,354.5 L817.6,360.1 L818.0,404.4 L818.3,459.1 L818.6,503.3 L819.0,510.5 L819.3,505.8 L819.6,468.1 L820.0,421.4 L820.3,383.6 L820.6,369.2 L821.0,383.6 L821.3,421.2 L821.7,467.7 L822.0,505.3 L822.4,510.5 L822.7,504.7 L823.1,465.4 L823.4,416.8 L823.7,377.5 L824.1,362.5 L824.4,371.4 L824.7,394.5 L825.1,423.2 L825.4,446.3 L825.8,455.2 L826.1,449.5 L826.4,433.5 L826.8,410.3 L827.1,384.7 L827.4,361.5 L827.8,354.5 L828.1,354.5 L828.4,354.5 L828.8,366.8 L829.1,395.5 L829.4,427.3 L829.7,456.0 L830.1,475.9 L830.4,483.0 L830.7,477.5 L831.0,462.1 L831.3,439.0 L831.6,411.7 L831.9,384.5 L832.2,361.4 L832.5,354.5 L832.8,354.5 L833.1,354.5 L833.4,362.6 L833.7,387.1 L834.0,415.9 L834.3,444.8 L834.6,469.3 L834.9,485.6 L835.2,491.3 L835.6,485.3 L835.9,468.4 L836.2,443.9 L836.6,416.8 L836.9,392.4 L837.2,375.5 L837.6,369.4 L837.9,375.5 L838.3,392.4 L838.6,416.9 L838.9,444.1 L839.3,468.6 L839.6,485.6 L840.0,491.6 L840.3,485.9 L840.6,469.6 L840.9,445.1 L841.2,416.3 L841.5,387.5 L841.8,363.1 L842.1,354.5 L842.4,354.5 L842.8,354.5 L843.1,367.2 L843.4,395.2 L843.8,426.2 L844.1,454.1 L844.5,473.5 L844.8,480.4 L845.1,475.3 L845.5,461.5 L845.8,442.7 L846.2,423.9 L846.5,410.1 L846.9,405.0 L847.2,412.5 L847.6,432.8 L847.9,460.7 L848.3,488.5 L848.6,508.9 L849.0,510.5 L849.3,502.1 L849.6,465.0 L850.0,419.0 L850.3,381.9 L850.6,367.7 L850.9,374.5 L851.2,393.6 L851.5,421.2 L851.8,451.8 L852.1,479.4 L852.5,498.5 L852.8,505.4 L853.1,491.7 L853.4,455.9 L853.8,411.8 L854.1,376.0 L854.4,362.3 L854.8,367.6 L855.1,382.5 L855.5,403.9 L855.8,427.8 L856.1,449.2 L856.5,464.1 L856.8,469.4 L857.2,461.8 L857.5,442.1 L857.8,417.8 L858.2,398.1 L858.5,390.5 L858.8,399.9 L859.2,424.4 L859.5,454.7 L859.8,479.2 L860.2,488.6 L860.5,477.6 L860.8,449.0 L861.1,413.6 L861.4,385.0 L861.7,374.1 L862.1,379.9 L862.4,395.8 L862.8,417.5 L863.1,439.2 L863.4,455.1 L863.8,460.9 L864.1,456.9 L864.4,445.6 L864.7,429.3 L865.0,411.2 L865.3,394.9 L865.6,383.6 L865.9,379.6 L866.3,385.5 L866.6,401.7 L866.9,423.8 L867.3,445.9 L867.6,462.1 L867.9,468.0 L868.3,460.7 L868.6,441.7 L868.9,418.2 L869.2,399.1 L869.5,391.9 L869.8,397.2 L870.1,412.2 L870.5,433.8 L870.8,457.8 L871.1,479.4 L871.4,494.4 L871.7,499.7 L872.0,487.2 L872.3,454.4 L872.7,413.8 L873.0,381.0 L873.3,368.5 L873.6,373.0 L873.9,385.7 L874.2,404.1 L874.5,424.5 L874.8,442.8 L875.1,455.6 L875.4,460.1 L875.7,452.6 L876.0,432.1 L876.3,404.1 L876.6,376.1 L876.9,355.7 L877.2,354.5 L877.5,355.3 L877.8,374.7 L878.1,401.2 L878.5,427.8 L878.8,447.2 L879.1,454.3 L879.4,451.0 L879.7,441.8 L880.0,428.4 L880.3,413.7 L880.7,400.3 L881.0,391.1 L881.3,387.8 L881.6,394.9 L881.9,414.1 L882.2,440.5 L882.5,466.8 L882.9,486.1 L883.2,493.1 L883.5,487.3 L883.9,471.1 L884.2,447.8 L884.5,421.8 L884.9,398.4 L885.2,382.2 L885.6,376.4 L885.9,381.0 L886.2,393.6 L886.6,410.7 L886.9,427.8 L887.2,440.3 L887.5,444.9 L887.9,441.2 L888.2,431.5 L888.5,419.4 L888.8,409.7 L889.1,406.0 L889.4,415.1 L889.7,439.0 L890.0,468.5 L890.4,492.4 L890.7,501.5 L891.0,495.1 L891.3,476.8 L891.6,449.4 L891.9,417.0 L892.2,384.6 L892.5,357.2 L892.8,354.5 L893.1,354.5 L893.4,354.5 L893.7,374.2 L894.1,411.5 L894.4,441.7 L894.7,453.2 L895.1,448.7 L895.4,436.0 L895.8,417.7 L896.1,397.3 L896.4,379.0 L896.8,366.3 L897.1,361.7 L897.4,368.7 L897.7,388.1 L898.0,416.2 L898.3,447.3 L898.7,475.4 L899.0,494.8 L899.3,501.8 L899.6,491.8 L899.9,465.9 L900.2,433.8 L900.5,407.8 L900.8,397.9 L901.2,406.5 L901.5,428.9 L901.8,456.6 L902.2,479.1 L902.5,487.6 L902.8,477.4 L903.2,450.5 L903.5,417.2 L903.8,390.3 L904.2,380.0 L904.5,388.6 L904.8,412.1 L905.2,444.2 L905.5,476.3 L905.8,499.8 L906.2,508.4 L906.5,494.2 L906.9,457.0 L907.2,411.1 L907.6,373.9 L907.9,359.7 L908.3,368.6 L908.6,391.8 L908.9,420.4 L909.3,443.6 L909.6,452.5 L910.0,444.7 L910.3,423.5 L910.6,394.6 L911.0,365.7 L911.3,354.5 L911.6,354.5 L911.9,354.5 L912.2,369.0 L912.6,403.3 L912.9,441.5 L913.2,475.8 L913.5,499.6 L913.8,508.1 L914.1,502.5 L914.4,486.7 L914.7,463.0 L915.0,435.0 L915.3,407.1 L915.6,383.4 L915.9,367.5 L916.2,362.0 L916.6,373.8 L916.9,404.7 L917.2,442.9 L917.5,473.8 L917.8,485.6 L918.1,476.8 L918.5,453.7 L918.8,425.1 L919.1,402.1 L919.5,393.2 L919.7,413.9 L920.0,434.5 L920.2,400.5 L920.5,366.5 L921.3,510.5 L932.6,509.5 L933.2,431.0 L938.5,431.0" fill="none" stroke="#000" stroke-width="2.05" stroke-linejoin="round" stroke-linecap="round" clip-path="url(#c_a2)"/>
<line x1="135.3" y1="511.0" x2="135.3" y2="503.0" class="tk"/>
<line x1="135.3" y1="354.0" x2="135.3" y2="362.0" class="tk"/>
<line x1="210.9" y1="511.0" x2="210.9" y2="503.0" class="tk"/>
<line x1="210.9" y1="354.0" x2="210.9" y2="362.0" class="tk"/>
<line x1="286.5" y1="511.0" x2="286.5" y2="503.0" class="tk"/>
<line x1="286.5" y1="354.0" x2="286.5" y2="362.0" class="tk"/>
<line x1="362.2" y1="511.0" x2="362.2" y2="503.0" class="tk"/>
<line x1="362.2" y1="354.0" x2="362.2" y2="362.0" class="tk"/>
<line x1="437.8" y1="511.0" x2="437.8" y2="503.0" class="tk"/>
<line x1="437.8" y1="354.0" x2="437.8" y2="362.0" class="tk"/>
<line x1="513.4" y1="511.0" x2="513.4" y2="503.0" class="tk"/>
<line x1="513.4" y1="354.0" x2="513.4" y2="362.0" class="tk"/>
<line x1="589.0" y1="511.0" x2="589.0" y2="503.0" class="tk"/>
<line x1="589.0" y1="354.0" x2="589.0" y2="362.0" class="tk"/>
<line x1="664.6" y1="511.0" x2="664.6" y2="503.0" class="tk"/>
<line x1="664.6" y1="354.0" x2="664.6" y2="362.0" class="tk"/>
<line x1="740.3" y1="511.0" x2="740.3" y2="503.0" class="tk"/>
<line x1="740.3" y1="354.0" x2="740.3" y2="362.0" class="tk"/>
<line x1="815.9" y1="511.0" x2="815.9" y2="503.0" class="tk"/>
<line x1="815.9" y1="354.0" x2="815.9" y2="362.0" class="tk"/>
<line x1="891.5" y1="511.0" x2="891.5" y2="503.0" class="tk"/>
<line x1="891.5" y1="354.0" x2="891.5" y2="362.0" class="tk"/>
<line x1="967.1" y1="511.0" x2="967.1" y2="503.0" class="tk"/>
<line x1="967.1" y1="354.0" x2="967.1" y2="362.0" class="tk"/>
<line x1="89.9" y1="497.0" x2="97.9" y2="497.0" class="tk"/>
<line x1="967.1" y1="497.0" x2="959.1" y2="497.0" class="tk"/>
<line x1="89.9" y1="426.5" x2="97.9" y2="426.5" class="tk"/>
<line x1="967.1" y1="426.5" x2="959.1" y2="426.5" class="tk"/>
<line x1="89.9" y1="356.0" x2="97.9" y2="356.0" class="tk"/>
<line x1="967.1" y1="356.0" x2="959.1" y2="356.0" class="tk"/>
<rect x="89.9" y="354.0" width="877.2" height="157.0" class="fr"/>
<text transform="translate(134.2,542.9) scale(0.94,1)" class="xt">50</text>
<text transform="translate(210.0,542.9) scale(0.94,1)" class="xt">100</text>
<text transform="translate(285.9,542.9) scale(0.94,1)" class="xt">150</text>
<text transform="translate(361.8,542.9) scale(0.94,1)" class="xt">200</text>
<text transform="translate(437.6,542.9) scale(0.94,1)" class="xt">250</text>
<text transform="translate(513.5,542.9) scale(0.94,1)" class="xt">300</text>
<text transform="translate(589.3,542.9) scale(0.94,1)" class="xt">350</text>
<text transform="translate(665.1,542.9) scale(0.94,1)" class="xt">400</text>
<text transform="translate(741.0,542.9) scale(0.94,1)" class="xt">450</text>
<text transform="translate(816.8,542.9) scale(0.94,1)" class="xt">500</text>
<text transform="translate(892.7,542.9) scale(0.94,1)" class="xt">550</text>
<text transform="translate(968.5,542.9) scale(0.94,1)" class="xt">600</text>
<text x="84.1" y="506.6" class="yt">-200</text>
<text x="84.1" y="436.1" class="yt">0</text>
<text x="84.1" y="365.6" class="yt">200</text>
<text x="528.5" y="574.8" class="xl">Time (s)</text>
<text transform="translate(27.5,432.5) rotate(-90)" x="0" y="0" class="yl">Force (N)</text>
<rect x="88.8" y="320.5" width="181.5" height="34.2" rx="1.5" class="lg"/>
<line x1="96.4" y1="338.7" x2="177.2" y2="338.7" stroke="#000" stroke-width="2.2"/>
<text x="182.4" y="345.4" class="lt">Fx-CNC</text>
</g>
<g id="a3">
<line x1="105.1" y1="608.5" x2="105.1" y2="767.3" class="mn"/>
<line x1="120.2" y1="608.5" x2="120.2" y2="767.3" class="mn"/>
<line x1="150.4" y1="608.5" x2="150.4" y2="767.3" class="mn"/>
<line x1="165.5" y1="608.5" x2="165.5" y2="767.3" class="mn"/>
<line x1="180.7" y1="608.5" x2="180.7" y2="767.3" class="mn"/>
<line x1="195.8" y1="608.5" x2="195.8" y2="767.3" class="mn"/>
<line x1="226.0" y1="608.5" x2="226.0" y2="767.3" class="mn"/>
<line x1="241.2" y1="608.5" x2="241.2" y2="767.3" class="mn"/>
<line x1="256.3" y1="608.5" x2="256.3" y2="767.3" class="mn"/>
<line x1="271.4" y1="608.5" x2="271.4" y2="767.3" class="mn"/>
<line x1="301.7" y1="608.5" x2="301.7" y2="767.3" class="mn"/>
<line x1="316.8" y1="608.5" x2="316.8" y2="767.3" class="mn"/>
<line x1="331.9" y1="608.5" x2="331.9" y2="767.3" class="mn"/>
<line x1="347.0" y1="608.5" x2="347.0" y2="767.3" class="mn"/>
<line x1="377.3" y1="608.5" x2="377.3" y2="767.3" class="mn"/>
<line x1="392.4" y1="608.5" x2="392.4" y2="767.3" class="mn"/>
<line x1="407.5" y1="608.5" x2="407.5" y2="767.3" class="mn"/>
<line x1="422.7" y1="608.5" x2="422.7" y2="767.3" class="mn"/>
<line x1="452.9" y1="608.5" x2="452.9" y2="767.3" class="mn"/>
<line x1="468.0" y1="608.5" x2="468.0" y2="767.3" class="mn"/>
<line x1="483.2" y1="608.5" x2="483.2" y2="767.3" class="mn"/>
<line x1="498.3" y1="608.5" x2="498.3" y2="767.3" class="mn"/>
<line x1="528.5" y1="608.5" x2="528.5" y2="767.3" class="mn"/>
<line x1="543.6" y1="608.5" x2="543.6" y2="767.3" class="mn"/>
<line x1="558.8" y1="608.5" x2="558.8" y2="767.3" class="mn"/>
<line x1="573.9" y1="608.5" x2="573.9" y2="767.3" class="mn"/>
<line x1="604.1" y1="608.5" x2="604.1" y2="767.3" class="mn"/>
<line x1="619.3" y1="608.5" x2="619.3" y2="767.3" class="mn"/>
<line x1="634.4" y1="608.5" x2="634.4" y2="767.3" class="mn"/>
<line x1="649.5" y1="608.5" x2="649.5" y2="767.3" class="mn"/>
<line x1="679.8" y1="608.5" x2="679.8" y2="767.3" class="mn"/>
<line x1="694.9" y1="608.5" x2="694.9" y2="767.3" class="mn"/>
<line x1="710.0" y1="608.5" x2="710.0" y2="767.3" class="mn"/>
<line x1="725.1" y1="608.5" x2="725.1" y2="767.3" class="mn"/>
<line x1="755.4" y1="608.5" x2="755.4" y2="767.3" class="mn"/>
<line x1="770.5" y1="608.5" x2="770.5" y2="767.3" class="mn"/>
<line x1="785.6" y1="608.5" x2="785.6" y2="767.3" class="mn"/>
<line x1="800.8" y1="608.5" x2="800.8" y2="767.3" class="mn"/>
<line x1="831.0" y1="608.5" x2="831.0" y2="767.3" class="mn"/>
<line x1="846.1" y1="608.5" x2="846.1" y2="767.3" class="mn"/>
<line x1="861.3" y1="608.5" x2="861.3" y2="767.3" class="mn"/>
<line x1="876.4" y1="608.5" x2="876.4" y2="767.3" class="mn"/>
<line x1="906.6" y1="608.5" x2="906.6" y2="767.3" class="mn"/>
<line x1="921.7" y1="608.5" x2="921.7" y2="767.3" class="mn"/>
<line x1="936.9" y1="608.5" x2="936.9" y2="767.3" class="mn"/>
<line x1="952.0" y1="608.5" x2="952.0" y2="767.3" class="mn"/>
<line x1="89.9" y1="739.6" x2="967.1" y2="739.6" class="mn"/>
<line x1="89.9" y1="721.8" x2="967.1" y2="721.8" class="mn"/>
<line x1="89.9" y1="703.9" x2="967.1" y2="703.9" class="mn"/>
<line x1="89.9" y1="668.1" x2="967.1" y2="668.1" class="mn"/>
<line x1="89.9" y1="650.2" x2="967.1" y2="650.2" class="mn"/>
<line x1="89.9" y1="632.4" x2="967.1" y2="632.4" class="mn"/>
<line x1="135.3" y1="608.5" x2="135.3" y2="767.3" class="mj"/>
<line x1="210.9" y1="608.5" x2="210.9" y2="767.3" class="mj"/>
<line x1="286.5" y1="608.5" x2="286.5" y2="767.3" class="mj"/>
<line x1="362.2" y1="608.5" x2="362.2" y2="767.3" class="mj"/>
<line x1="437.8" y1="608.5" x2="437.8" y2="767.3" class="mj"/>
<line x1="513.4" y1="608.5" x2="513.4" y2="767.3" class="mj"/>
<line x1="589.0" y1="608.5" x2="589.0" y2="767.3" class="mj"/>
<line x1="664.6" y1="608.5" x2="664.6" y2="767.3" class="mj"/>
<line x1="740.3" y1="608.5" x2="740.3" y2="767.3" class="mj"/>
<line x1="815.9" y1="608.5" x2="815.9" y2="767.3" class="mj"/>
<line x1="891.5" y1="608.5" x2="891.5" y2="767.3" class="mj"/>
<line x1="89.9" y1="757.5" x2="967.1" y2="757.5" class="mj"/>
<line x1="89.9" y1="686.0" x2="967.1" y2="686.0" class="mj"/>
<line x1="89.9" y1="614.5" x2="967.1" y2="614.5" class="mj"/>
<clipPath id="c_a3"><rect x="89.9" y="607.5" width="877.2" height="160.8"/></clipPath>
<path d="M790.0,686.0 L790.0,666.3 L790.6,697.7 L791.1,663.6 L791.7,708.6 L792.3,674.3 L792.7,723.4 L793.2,651.3 L793.7,714.5 L794.2,669.7 L794.5,701.0 L795.0,656.1 L795.7,721.0 L796.3,650.7 L796.6,731.3 L797.2,661.9 L797.5,700.4 L797.9,674.6 L798.5,709.7 L799.2,641.6 L799.7,702.6 L800.1,642.3 L800.7,708.1 L801.3,671.7 L802.0,694.4 L802.5,665.6 L803.2,713.1 L803.7,648.1 L804.3,728.9 L805.0,675.5 L805.4,711.1 L805.8,647.7 L806.2,735.4 L806.9,653.9 L807.3,726.8 L807.9,646.1 L808.4,727.1 L808.8,661.2 L809.2,705.0 L809.9,641.0 L810.3,721.2 L810.6,664.7 L811.1,703.7 L811.5,653.2 L812.2,702.5 L812.6,650.5 L813.2,723.5 L813.7,642.9 L814.3,727.9 L814.9,671.6 L815.6,718.9 L816.1,652.9 L816.7,700.7 L817.1,665.0 L817.5,723.5 L817.9,655.1 L818.5,725.5 L819.1,658.5 L819.5,731.8 L820.1,659.4 L820.8,728.2 L821.3,663.5 L821.7,696.3 L822.1,677.1 L822.7,699.5 L823.3,667.7 L823.7,734.3 L824.2,674.3 L824.8,721.6 L825.4,648.6 L825.9,718.6 L826.3,665.5 L826.9,704.0 L827.5,648.9 L828.0,728.2 L828.5,671.2 L828.9,699.0 L829.5,666.6 L829.9,696.7 L830.4,645.7 L830.8,728.3 L831.5,675.0 L831.9,732.2 L832.5,654.5 L832.9,704.3 L833.5,672.8 L833.9,697.2 L834.4,670.6 L835.1,697.5 L835.7,643.4 L836.1,710.2 L836.7,670.4 L837.3,700.7 L837.7,659.3 L838.1,731.3 L838.6,675.0 L839.0,705.1 L839.4,651.9 L839.8,715.4 L840.3,668.7 L840.9,709.2 L841.5,657.6 L842.1,734.2 L842.7,648.0 L843.3,726.6 L843.8,665.2 L844.5,707.2 L845.0,667.0 L845.4,717.2 L845.8,671.7 L846.5,706.3 L847.0,641.5 L847.7,732.2 L848.3,665.3 L848.8,727.7 L849.3,647.7 L849.7,721.9 L850.4,661.1 L850.8,707.0 L851.2,652.4 L851.7,711.0 L852.1,648.6 L852.7,694.7 L853.1,671.4 L853.6,703.7 L854.1,645.2 L854.7,728.5 L855.2,639.2 L855.6,713.9 L856.1,626.0 L856.5,716.0 L857.0,652.5 L857.5,741.4 L858.1,662.9 L858.5,732.7 L858.9,658.2 L859.3,734.0 L859.9,612.6 L860.6,753.4 L861.1,659.9 L861.5,717.7 L862.2,622.9 L862.7,709.7 L863.1,631.2 L863.6,727.0 L864.2,665.9 L864.7,737.2 L865.2,636.6 L865.6,711.6 L866.0,663.7 L866.7,756.3 L867.1,622.0 L867.5,707.5 L867.9,663.0 L868.6,726.1 L869.2,646.4 L869.9,753.4 L870.6,632.0 L871.1,761.5 L871.6,659.9 L872.0,741.1 L872.5,638.8 L872.9,738.1 L873.6,651.9 L874.1,741.5 L874.8,642.5 L875.5,721.6 L876.1,648.9 L876.6,758.7 L877.2,643.5 L877.9,722.3 L878.6,665.2 L879.2,735.5 L879.8,617.1 L880.2,717.2 L880.8,617.6 L881.4,725.6 L881.8,630.9 L882.4,727.9 L883.0,617.8 L883.6,737.7 L884.2,616.8 L884.7,760.0 L885.3,662.4 L885.8,731.6 L886.3,611.8 L886.7,710.7 L887.3,640.6 L888.0,741.7 L888.6,665.4 L889.0,746.4 L889.6,638.2 L889.9,707.7 L890.4,672.7 L891.0,708.6 L891.4,677.2 L891.9,698.7 L892.6,673.5 L893.2,713.5 L893.7,677.5 L894.4,733.0 L894.7,655.4 L895.2,733.6 L895.6,664.9 L896.3,699.7 L896.6,643.4 L897.2,722.6 L897.9,663.1 L898.4,702.1 L898.9,675.8 L899.6,698.8 L900.3,664.8 L900.8,701.1 L901.2,651.5 L901.8,725.5 L902.2,658.2 L902.7,702.0 L903.2,667.8 L903.7,730.7 L904.4,673.7 L905.0,732.2 L905.6,663.0 L906.3,720.4 L906.7,664.9 L907.1,703.7 L907.8,667.7 L908.2,731.0 L908.6,648.2 L909.2,713.7 L909.8,664.7 L910.3,732.7 L911.0,659.6 L911.5,707.3 L912.2,659.5 L912.9,732.1 L913.4,666.3 L914.0,716.0 L914.7,661.1 L915.3,704.9 L916.0,677.9 L916.4,706.0 L917.0,649.8 L917.4,703.4 L917.9,645.2 L918.6,711.9 L919.1,655.7 L919.6,696.6" fill="none" stroke="#000" stroke-opacity="0.45" stroke-width="0.6" clip-path="url(#c_a3)"/>
<path d="M89.9,683.6 L90.2,683.7 L90.5,683.7 L90.8,683.7 L91.2,683.8 L91.5,683.9 L91.8,684.0 L92.1,684.1 L92.4,684.2 L92.7,684.4 L93.0,684.5 L93.3,684.6 L93.6,684.7 L93.9,684.8 L94.2,684.9 L94.5,685.0 L94.8,685.1 L95.1,685.1 L95.4,685.2 L95.8,685.2 L96.1,685.2 L96.4,685.4 L96.7,685.6 L97.0,685.9 L97.4,686.2 L97.7,686.5 L98.0,686.9 L98.3,687.2 L98.6,687.5 L99.0,687.7 L99.3,687.8 L99.6,687.9 L99.9,687.8 L100.2,687.7 L100.5,687.6 L100.8,687.3 L101.1,687.1 L101.4,686.7 L101.8,686.3 L102.1,685.9 L102.4,685.4 L102.7,684.8 L103.0,684.3 L103.3,683.7 L103.6,683.1 L103.9,682.4 L104.2,681.8 L104.5,681.1 L104.9,680.5 L105.2,679.8 L105.5,679.2 L105.8,678.6 L106.1,678.0 L106.4,677.5 L106.7,677.0 L107.0,676.6 L107.3,676.2 L107.6,675.8 L107.9,675.5 L108.3,675.3 L108.6,675.1 L108.9,675.1 L109.2,675.0 L109.5,675.1 L109.8,675.2 L110.1,675.4 L110.4,675.7 L110.7,676.1 L111.0,676.6 L111.3,677.1 L111.7,677.7 L112.0,678.4 L112.3,679.1 L112.6,679.8 L112.9,680.7 L113.2,681.5 L113.5,682.3 L113.8,683.2 L114.1,684.1 L114.4,685.0 L114.8,685.8 L115.1,686.6 L115.4,687.5 L115.7,688.2 L116.0,688.9 L116.3,689.6 L116.6,690.2 L116.9,690.7 L117.2,691.2 L117.5,691.6 L117.8,691.9 L118.2,692.1 L118.5,692.2 L118.8,692.3 L119.1,692.2 L119.4,692.1 L119.7,691.9 L120.0,691.6 L120.3,691.2 L120.6,690.8 L120.9,690.3 L121.2,689.7 L121.5,689.0 L121.8,688.3 L122.1,687.5 L122.4,686.7 L122.7,685.9 L123.0,685.0 L123.3,684.1 L123.6,683.1 L123.9,682.2 L124.2,681.3 L124.5,680.3 L124.8,679.4 L125.1,678.5 L125.4,677.6 L125.7,676.7 L126.0,675.9 L126.3,675.2 L126.6,674.4 L126.9,673.8 L127.2,673.2 L127.5,672.7 L127.8,672.2 L128.1,671.9 L128.4,671.6 L128.7,671.4 L129.0,671.2 L129.3,671.2 L129.6,671.3 L129.9,671.5 L130.2,671.9 L130.6,672.4 L130.9,673.0 L131.2,673.8 L131.5,674.7 L131.8,675.7 L132.1,676.8 L132.4,678.0 L132.7,679.2 L133.0,680.5 L133.3,681.8 L133.6,683.2 L133.9,684.5 L134.3,685.8 L134.6,687.1 L134.9,688.4 L135.2,689.5 L135.5,690.6 L135.8,691.6 L136.1,692.5 L136.4,693.3 L136.7,694.0 L137.0,694.5 L137.3,694.9 L137.6,695.1 L138.0,695.2 L138.3,695.1 L138.6,695.0 L138.9,694.8 L139.2,694.5 L139.5,694.1 L139.8,693.6 L140.1,693.1 L140.4,692.4 L140.7,691.8 L141.0,691.0 L141.3,690.2 L141.6,689.4 L141.9,688.5 L142.2,687.5 L142.5,686.6 L142.8,685.6 L143.1,684.6 L143.4,683.6 L143.7,682.6 L144.0,681.7 L144.3,680.7 L144.6,679.8 L144.9,678.9 L145.2,678.1 L145.5,677.3 L145.8,676.5 L146.1,675.8 L146.4,675.2 L146.7,674.7 L147.0,674.2 L147.3,673.8 L147.6,673.5 L147.9,673.3 L148.2,673.1 L148.5,673.1 L148.8,673.2 L149.1,673.4 L149.4,673.8 L149.7,674.3 L150.0,674.9 L150.4,675.7 L150.7,676.6 L151.0,677.6 L151.3,678.7 L151.6,679.9 L151.9,681.1 L152.2,682.4 L152.5,683.7 L152.8,685.1 L153.1,686.4 L153.4,687.8 L153.7,689.0 L154.1,690.3 L154.4,691.5 L154.7,692.6 L155.0,693.6 L155.3,694.5 L155.6,695.2 L155.9,695.9 L156.2,696.4 L156.5,696.8 L156.8,697.0 L157.1,697.1 L157.4,697.0 L157.8,696.7 L158.1,696.3 L158.4,695.8 L158.7,695.0 L159.0,694.2 L159.3,693.1 L159.6,692.0 L159.9,690.8 L160.2,689.4 L160.5,688.0 L160.9,686.4 L161.2,684.9 L161.5,683.2 L161.8,681.6 L162.1,679.9 L162.4,678.3 L162.7,676.7 L163.0,675.1 L163.3,673.6 L163.6,672.1 L163.9,670.8 L164.3,669.5 L164.6,668.4 L164.9,667.4 L165.2,666.5 L165.5,665.8 L165.8,665.2 L166.1,664.8 L166.4,664.6 L166.7,664.5 L167.0,664.6 L167.3,664.9 L167.7,665.5 L168.0,666.2 L168.3,667.2 L168.6,668.3 L168.9,669.7 L169.2,671.1 L169.5,672.8 L169.8,674.5 L170.1,676.4 L170.4,678.3 L170.7,680.2 L171.0,682.2 L171.4,684.2 L171.7,686.2 L172.0,688.1 L172.3,689.9 L172.6,691.7 L172.9,693.3 L173.2,694.8 L173.5,696.1 L173.8,697.2 L174.1,698.2 L174.4,699.0 L174.7,699.5 L175.1,699.8 L175.4,700.0 L175.7,699.8 L176.0,699.5 L176.3,699.0 L176.6,698.2 L176.9,697.3 L177.2,696.2 L177.5,694.9 L177.8,693.4 L178.1,691.8 L178.5,690.0 L178.8,688.1 L179.1,686.2 L179.4,684.1 L179.7,682.0 L180.0,679.9 L180.3,677.8 L180.6,675.7 L180.9,673.6 L181.2,671.5 L181.6,669.6 L181.9,667.7 L182.2,665.9 L182.5,664.3 L182.8,662.8 L183.1,661.5 L183.4,660.4 L183.7,659.5 L184.0,658.7 L184.3,658.2 L184.6,657.9 L185.0,657.8 L185.3,657.9 L185.6,658.3 L185.9,659.1 L186.2,660.1 L186.5,661.4 L186.8,662.9 L187.1,664.6 L187.4,666.6 L187.7,668.7 L188.0,671.1 L188.3,673.5 L188.7,676.0 L189.0,678.6 L189.3,681.3 L189.6,683.9 L189.9,686.5 L190.2,689.0 L190.5,691.4 L190.8,693.8 L191.1,695.9 L191.4,697.9 L191.7,699.6 L192.0,701.1 L192.4,702.4 L192.7,703.4 L193.0,704.2 L193.3,704.6 L193.6,704.8 L193.9,704.6 L194.2,704.3 L194.5,703.7 L194.8,702.8 L195.1,701.7 L195.4,700.5 L195.8,699.0 L196.1,697.3 L196.4,695.4 L196.7,693.5 L197.0,691.3 L197.3,689.1 L197.6,686.8 L197.9,684.4 L198.2,682.0 L198.5,679.6 L198.8,677.1 L199.2,674.8 L199.5,672.4 L199.8,670.2 L200.1,668.1 L200.4,666.1 L200.7,664.3 L201.0,662.6 L201.3,661.1 L201.6,659.8 L201.9,658.7 L202.3,657.9 L202.6,657.3 L202.9,656.9 L203.2,656.8 L203.5,657.0 L203.8,657.6 L204.1,658.6 L204.4,660.0 L204.7,661.7 L205.0,663.8 L205.3,666.2 L205.6,668.8 L205.9,671.7 L206.2,674.7 L206.6,677.8 L206.9,681.1 L207.2,684.3 L207.5,687.5 L207.8,690.7 L208.1,693.7 L208.4,696.6 L208.7,699.2 L209.0,701.6 L209.3,703.6 L209.6,705.4 L209.9,706.8 L210.2,707.8 L210.5,708.4 L210.9,708.6 L211.2,708.5 L211.5,708.2 L211.8,707.6 L212.1,706.9 L212.4,705.9 L212.7,704.8 L213.0,703.5 L213.3,702.0 L213.6,700.3 L213.9,698.5 L214.2,696.6 L214.5,694.6 L214.9,692.5 L215.2,690.3 L215.5,688.0 L215.8,685.7 L216.1,683.5 L216.4,681.2 L216.7,679.0 L217.0,676.8 L217.3,674.6 L217.6,672.6 L217.9,670.7 L218.2,668.9 L218.6,667.3 L218.9,665.8 L219.2,664.4 L219.5,663.3 L219.8,662.3 L220.1,661.6 L220.4,661.1 L220.7,660.7 L221.0,660.6 L221.3,660.9 L221.6,661.6 L221.9,662.7 L222.3,664.3 L222.6,666.3 L222.9,668.7 L223.2,671.4 L223.5,674.4 L223.8,677.5 L224.1,680.9 L224.4,684.3 L224.7,687.8 L225.0,691.2 L225.3,694.6 L225.6,697.7 L226.0,700.7 L226.3,703.4 L226.6,705.8 L226.9,707.8 L227.2,709.4 L227.5,710.5 L227.8,711.2 L228.1,711.5 L228.4,711.3 L228.7,710.9 L229.0,710.2 L229.3,709.2 L229.7,707.9 L230.0,706.4 L230.3,704.7 L230.6,702.7 L230.9,700.6 L231.2,698.3 L231.5,695.8 L231.8,693.2 L232.1,690.6 L232.4,687.8 L232.7,685.1 L233.0,682.3 L233.3,679.6 L233.6,676.9 L233.9,674.4 L234.3,671.9 L234.6,669.6 L234.9,667.4 L235.2,665.5 L235.5,663.7 L235.8,662.2 L236.1,661.0 L236.4,660.0 L236.7,659.3 L237.0,658.9 L237.3,658.7 L237.6,659.0 L237.9,659.7 L238.2,661.0 L238.6,662.8 L238.9,665.0 L239.2,667.5 L239.5,670.5 L239.8,673.7 L240.1,677.2 L240.4,680.9 L240.7,684.6 L241.0,688.4 L241.3,692.2 L241.6,695.8 L242.0,699.3 L242.3,702.6 L242.6,705.5 L242.9,708.1 L243.2,710.3 L243.5,712.0 L243.8,713.3 L244.1,714.1 L244.4,714.3 L244.7,714.2 L245.0,713.8 L245.3,713.0 L245.7,712.0 L246.0,710.7 L246.3,709.2 L246.6,707.4 L246.9,705.4 L247.2,703.2 L247.5,700.8 L247.8,698.2 L248.1,695.6 L248.4,692.8 L248.8,689.9 L249.1,687.0 L249.4,684.1 L249.7,681.2 L250.0,678.4 L250.3,675.6 L250.6,672.9 L250.9,670.3 L251.2,668.0 L251.5,665.7 L251.8,663.7 L252.2,662.0 L252.5,660.4 L252.8,659.1 L253.1,658.1 L253.4,657.4 L253.7,656.9 L254.0,656.8 L254.3,657.1 L254.6,658.0 L254.9,659.4 L255.2,661.4 L255.5,663.9 L255.8,666.9 L256.1,670.2 L256.5,673.9 L256.8,677.8 L257.1,681.9 L257.4,686.0 L257.7,690.2 L258.0,694.3 L258.3,698.2 L258.6,701.9 L258.9,705.2 L259.2,708.2 L259.5,710.7 L259.8,712.7 L260.1,714.1 L260.4,715.0 L260.7,715.3 L261.0,715.1 L261.3,714.6 L261.7,713.7 L262.0,712.5 L262.3,711.0 L262.6,709.2 L262.9,707.2 L263.2,704.8 L263.5,702.3 L263.8,699.6 L264.1,696.7 L264.4,693.7 L264.7,690.6 L265.0,687.5 L265.4,684.4 L265.7,681.3 L266.0,678.3 L266.3,675.4 L266.6,672.7 L266.9,670.1 L267.2,667.8 L267.5,665.7 L267.8,663.9 L268.1,662.4 L268.4,661.2 L268.7,660.4 L269.1,659.8 L269.4,659.7 L269.7,659.9 L270.0,660.6 L270.3,661.8 L270.6,663.3 L270.9,665.3 L271.2,667.7 L271.5,670.5 L271.8,673.5 L272.1,676.7 L272.4,680.2 L272.7,683.8 L273.0,687.5 L273.3,691.3 L273.7,695.0 L274.0,698.6 L274.3,702.1 L274.6,705.3 L274.9,708.4 L275.2,711.1 L275.5,713.5 L275.8,715.5 L276.1,717.0 L276.4,718.2 L276.7,718.9 L277.0,719.1 L277.3,718.9 L277.6,718.3 L278.0,717.2 L278.3,715.8 L278.6,713.9 L278.9,711.7 L279.2,709.2 L279.5,706.3 L279.8,703.2 L280.1,699.9 L280.4,696.3 L280.7,692.7 L281.0,688.9 L281.3,685.1 L281.7,681.3 L282.0,677.5 L282.3,673.8 L282.6,670.3 L282.9,667.0 L283.2,663.9 L283.5,661.0 L283.8,658.5 L284.1,656.3 L284.4,654.4 L284.7,652.9 L285.0,651.9 L285.4,651.3 L285.7,651.0 L286.0,651.4 L286.3,652.4 L286.6,654.2 L286.9,656.5 L287.2,659.5 L287.5,663.0 L287.8,666.9 L288.1,671.2 L288.4,675.8 L288.7,680.7 L289.0,685.6 L289.3,690.5 L289.6,695.3 L289.9,699.9 L290.2,704.2 L290.5,708.2 L290.9,711.7 L291.2,714.6 L291.5,717.0 L291.8,718.7 L292.1,719.7 L292.4,720.1 L292.7,719.9 L293.0,719.2 L293.3,718.2 L293.6,716.7 L293.9,714.8 L294.2,712.6 L294.5,710.0 L294.8,707.2 L295.1,704.0 L295.4,700.7 L295.7,697.2 L296.0,693.5 L296.4,689.8 L296.7,686.1 L297.0,682.4 L297.3,678.8 L297.6,675.2 L297.9,671.9 L298.2,668.8 L298.5,665.9 L298.8,663.4 L299.1,661.1 L299.4,659.3 L299.7,657.8 L300.0,656.7 L300.3,656.1 L300.6,655.8 L300.9,656.1 L301.2,656.8 L301.6,657.9 L301.9,659.5 L302.2,661.4 L302.5,663.8 L302.8,666.5 L303.1,669.5 L303.4,672.8 L303.7,676.3 L304.0,679.9 L304.3,683.7 L304.7,687.5 L305.0,691.3 L305.3,695.1 L305.6,698.7 L305.9,702.2 L306.2,705.5 L306.5,708.5 L306.8,711.2 L307.1,713.5 L307.4,715.5 L307.8,717.1 L308.1,718.2 L308.4,718.9 L308.7,719.1 L309.0,718.9 L309.3,718.1 L309.6,716.8 L309.9,715.0 L310.2,712.7 L310.5,710.0 L310.8,706.9 L311.1,703.6 L311.4,699.9 L311.7,696.0 L312.0,692.0 L312.3,688.0 L312.6,683.9 L312.9,679.9 L313.2,676.0 L313.5,672.4 L313.8,669.0 L314.2,665.9 L314.5,663.2 L314.8,661.0 L315.1,659.2 L315.4,657.9 L315.7,657.1 L316.0,656.8 L316.3,657.0 L316.6,657.8 L316.9,658.9 L317.2,660.6 L317.5,662.7 L317.8,665.1 L318.1,667.9 L318.4,671.0 L318.7,674.4 L319.0,678.0 L319.3,681.7 L319.7,685.6 L320.0,689.4 L320.3,693.2 L320.6,697.0 L320.9,700.6 L321.2,703.9 L321.5,707.1 L321.8,709.9 L322.1,712.3 L322.4,714.4 L322.7,716.0 L323.0,717.2 L323.3,717.9 L323.6,718.2 L324.0,717.9 L324.3,717.3 L324.6,716.1 L324.9,714.6 L325.2,712.6 L325.5,710.2 L325.8,707.6 L326.1,704.6 L326.4,701.4 L326.7,698.0 L327.0,694.4 L327.3,690.8 L327.6,687.1 L327.9,683.4 L328.3,679.9 L328.6,676.5 L328.9,673.2 L329.2,670.3 L329.5,667.6 L329.8,665.3 L330.1,663.3 L330.4,661.7 L330.7,660.6 L331.0,659.9 L331.3,659.7 L331.6,659.9 L331.9,660.6 L332.2,661.8 L332.5,663.3 L332.9,665.3 L333.2,667.7 L333.5,670.5 L333.8,673.5 L334.1,676.7 L334.4,680.2 L334.7,683.8 L335.0,687.5 L335.3,691.3 L335.6,695.0 L335.9,698.6 L336.2,702.1 L336.5,705.3 L336.8,708.4 L337.2,711.1 L337.5,713.5 L337.8,715.5 L338.1,717.0 L338.4,718.2 L338.7,718.9 L339.0,719.1 L339.3,718.9 L339.6,718.1 L339.9,716.8 L340.2,715.0 L340.5,712.7 L340.8,710.0 L341.1,707.0 L341.4,703.6 L341.8,699.9 L342.1,695.9 L342.4,691.9 L342.7,687.7 L343.0,683.5 L343.3,679.3 L343.6,675.2 L343.9,671.3 L344.2,667.6 L344.5,664.2 L344.8,661.1 L345.1,658.4 L345.4,656.2 L345.7,654.4 L346.1,653.1 L346.4,652.3 L346.7,652.0 L347.0,652.3 L347.3,653.2 L347.6,654.8 L347.9,656.9 L348.2,659.5 L348.5,662.7 L348.8,666.2 L349.1,670.1 L349.4,674.3 L349.8,678.7 L350.1,683.3 L350.4,687.9 L350.7,692.4 L351.0,696.8 L351.3,701.0 L351.6,704.9 L351.9,708.5 L352.2,711.6 L352.5,714.3 L352.8,716.4 L353.1,717.9 L353.5,718.8 L353.8,719.1 L354.1,718.9 L354.4,718.1 L354.7,716.9 L355.0,715.2 L355.3,713.0 L355.6,710.4 L355.9,707.5 L356.2,704.2 L356.5,700.7 L356.8,696.9 L357.1,693.0 L357.4,689.0 L357.8,685.0 L358.1,681.0 L358.4,677.1 L358.7,673.3 L359.0,669.8 L359.3,666.5 L359.6,663.6 L359.9,661.0 L360.2,658.8 L360.5,657.1 L360.8,655.9 L361.1,655.1 L361.4,654.9 L361.7,655.2 L362.0,656.2 L362.4,657.8 L362.7,660.1 L363.0,662.8 L363.3,666.1 L363.6,669.9 L363.9,673.9 L364.2,678.3 L364.5,682.8 L364.8,687.5 L365.1,692.1 L365.4,696.7 L365.7,701.0 L366.0,705.1 L366.3,708.8 L366.6,712.1 L366.9,714.9 L367.2,717.1 L367.5,718.8 L367.8,719.8 L368.2,720.1 L368.5,719.8 L368.8,718.9 L369.1,717.5 L369.4,715.5 L369.7,713.0 L370.0,710.0 L370.3,706.6 L370.6,702.8 L370.9,698.8 L371.2,694.5 L371.5,690.1 L371.8,685.6 L372.1,681.1 L372.4,676.6 L372.7,672.4 L373.0,668.3 L373.3,664.5 L373.6,661.2 L373.9,658.2 L374.2,655.7 L374.5,653.7 L374.8,652.2 L375.1,651.3 L375.4,651.0 L375.8,651.4 L376.1,652.6 L376.4,654.5 L376.7,657.1 L377.0,660.4 L377.3,664.2 L377.6,668.5 L377.9,673.3 L378.2,678.3 L378.5,683.4 L378.9,688.7 L379.2,693.8 L379.5,698.8 L379.8,703.6 L380.1,707.9 L380.4,711.7 L380.7,715.0 L381.0,717.6 L381.3,719.5 L381.7,720.7 L382.0,721.1 L382.3,720.7 L382.6,719.8 L382.9,718.3 L383.2,716.2 L383.5,713.6 L383.8,710.5 L384.1,707.0 L384.4,703.1 L384.7,698.9 L385.0,694.4 L385.3,689.8 L385.6,685.1 L385.9,680.4 L386.2,675.8 L386.5,671.3 L386.8,667.1 L387.1,663.2 L387.4,659.7 L387.7,656.6 L388.0,653.9 L388.3,651.9 L388.6,650.3 L388.9,649.4 L389.3,649.1 L389.6,649.5 L389.9,650.7 L390.2,652.7 L390.5,655.5 L390.8,658.9 L391.1,662.8 L391.4,667.3 L391.7,672.3 L392.0,677.5 L392.3,682.8 L392.7,688.3 L393.0,693.7 L393.3,698.9 L393.6,703.8 L393.9,708.3 L394.2,712.3 L394.5,715.7 L394.8,718.4 L395.1,720.4 L395.4,721.6 L395.8,722.0 L396.1,721.6 L396.4,720.5 L396.7,718.6 L397.0,716.0 L397.3,712.8 L397.6,708.9 L397.9,704.6 L398.2,699.9 L398.5,694.8 L398.8,689.5 L399.1,684.1 L399.4,678.7 L399.7,673.5 L400.0,668.4 L400.3,663.6 L400.6,659.3 L400.9,655.5 L401.2,652.3 L401.6,649.7 L401.9,647.8 L402.2,646.6 L402.5,646.2 L402.8,646.6 L403.1,647.8 L403.4,649.8 L403.7,652.5 L404.0,655.8 L404.3,659.8 L404.6,664.3 L404.9,669.2 L405.2,674.5 L405.5,680.0 L405.8,685.6 L406.1,691.2 L406.4,696.6 L406.7,701.9 L407.0,706.8 L407.4,711.3 L407.7,715.3 L408.0,718.6 L408.3,721.3 L408.6,723.3 L408.9,724.5 L409.2,724.9 L409.5,724.5 L409.8,723.4 L410.1,721.5 L410.4,718.9 L410.7,715.6 L411.0,711.8 L411.3,707.5 L411.6,702.7 L411.9,697.7 L412.2,692.4 L412.5,687.0 L412.8,681.6 L413.2,676.3 L413.5,671.3 L413.8,666.5 L414.1,662.2 L414.4,658.4 L414.7,655.1 L415.0,652.5 L415.3,650.7 L415.6,649.5 L415.9,649.1 L416.2,649.6 L416.5,651.2 L416.8,653.7 L417.1,657.2 L417.4,661.5 L417.7,666.5 L418.0,672.1 L418.3,678.1 L418.6,684.3 L418.9,690.7 L419.2,696.9 L419.5,702.9 L419.8,708.5 L420.1,713.5 L420.4,717.8 L420.7,721.2 L421.0,723.8 L421.3,725.3 L421.7,725.9 L422.0,725.4 L422.3,724.2 L422.6,722.2 L422.9,719.4 L423.2,715.9 L423.5,711.8 L423.8,707.1 L424.1,702.0 L424.4,696.6 L424.7,690.9 L425.0,685.1 L425.3,679.3 L425.6,673.6 L425.9,668.2 L426.2,663.0 L426.5,658.4 L426.8,654.3 L427.1,650.8 L427.5,648.0 L427.8,646.0 L428.1,644.7 L428.4,644.3 L428.7,644.7 L429.0,646.0 L429.3,648.1 L429.6,650.9 L429.9,654.4 L430.2,658.6 L430.5,663.3 L430.8,668.4 L431.1,673.9 L431.4,679.7 L431.7,685.6 L432.0,691.4 L432.3,697.2 L432.6,702.7 L432.9,707.9 L433.2,712.6 L433.6,716.7 L433.9,720.3 L434.2,723.1 L434.5,725.1 L434.8,726.4 L435.1,726.8 L435.4,726.2 L435.7,724.5 L436.0,721.6 L436.3,717.7 L436.6,712.9 L436.9,707.3 L437.2,701.0 L437.5,694.2 L437.8,687.2 L438.1,680.1 L438.4,673.1 L438.7,666.3 L439.0,660.0 L439.3,654.4 L439.6,649.6 L439.9,645.7 L440.2,642.8 L440.5,641.1 L440.8,640.5 L441.1,640.9 L441.4,642.2 L441.7,644.4 L442.1,647.3 L442.4,651.0 L442.7,655.4 L443.0,660.3 L443.3,665.7 L443.6,671.5 L443.9,677.5 L444.2,683.6 L444.5,689.8 L444.8,695.8 L445.1,701.6 L445.4,707.0 L445.7,711.9 L446.0,716.3 L446.3,720.0 L446.6,722.9 L446.9,725.1 L447.2,726.4 L447.5,726.8 L447.9,726.2 L448.2,724.6 L448.5,721.8 L448.8,718.1 L449.1,713.5 L449.4,708.1 L449.7,702.1 L450.0,695.7 L450.3,689.0 L450.6,682.2 L450.9,675.4 L451.2,669.0 L451.5,663.0 L451.8,657.6 L452.1,653.0 L452.4,649.3 L452.7,646.6 L453.0,644.9 L453.3,644.3 L453.6,644.8 L453.9,646.4 L454.2,648.9 L454.5,652.4 L454.8,656.7 L455.1,661.7 L455.5,667.4 L455.8,673.5 L456.1,679.9 L456.4,686.5 L456.7,693.1 L457.0,699.6 L457.3,705.7 L457.6,711.3 L457.9,716.4 L458.2,720.7 L458.5,724.1 L458.8,726.7 L459.1,728.2 L459.4,728.7 L459.7,728.2 L460.0,726.7 L460.3,724.2 L460.6,720.7 L460.9,716.4 L461.3,711.4 L461.6,705.7 L461.9,699.5 L462.2,692.9 L462.5,686.1 L462.8,679.2 L463.1,672.4 L463.4,665.9 L463.7,659.7 L464.0,654.0 L464.3,648.9 L464.6,644.7 L464.9,641.2 L465.2,638.7 L465.5,637.2 L465.8,636.7 L466.1,637.3 L466.4,639.1 L466.7,642.2 L467.0,646.4 L467.3,651.5 L467.6,657.5 L467.9,664.2 L468.2,671.4 L468.5,678.9 L468.8,686.5 L469.1,694.0 L469.4,701.2 L469.7,707.9 L470.0,713.9 L470.3,719.0 L470.6,723.2 L470.9,726.2 L471.2,728.1 L471.5,728.7 L471.8,728.1 L472.1,726.3 L472.4,723.4 L472.7,719.3 L473.0,714.3 L473.3,708.5 L473.6,702.0 L474.0,695.1 L474.3,687.8 L474.6,680.4 L474.9,673.2 L475.2,666.2 L475.5,659.7 L475.8,653.9 L476.1,648.9 L476.4,644.9 L476.7,641.9 L477.0,640.1 L477.3,639.5 L477.6,640.0 L477.9,641.4 L478.2,643.7 L478.5,646.9 L478.8,650.9 L479.1,655.6 L479.4,660.9 L479.7,666.7 L480.0,672.9 L480.3,679.4 L480.6,686.0 L480.9,692.7 L481.2,699.2 L481.6,705.4 L481.9,711.2 L482.2,716.5 L482.5,721.2 L482.8,725.2 L483.1,728.4 L483.4,730.7 L483.7,732.1 L484.0,732.6 L484.3,731.5 L484.6,728.5 L485.0,723.6 L485.3,717.0 L485.6,709.1 L485.9,700.1 L486.2,690.5 L486.6,680.7 L486.9,671.0 L487.2,662.1 L487.5,654.1 L487.8,647.5 L488.2,642.6 L488.5,639.6 L488.8,638.6 L489.1,639.1 L489.4,640.5 L489.7,642.9 L490.0,646.2 L490.3,650.3 L490.6,655.1 L490.9,660.6 L491.2,666.6 L491.5,673.0 L491.8,679.7 L492.1,686.5 L492.5,693.4 L492.8,700.0 L493.1,706.4 L493.4,712.5 L493.7,717.9 L494.0,722.8 L494.3,726.9 L494.6,730.2 L494.9,732.5 L495.2,734.0 L495.5,734.5 L495.8,733.4 L496.1,730.3 L496.5,725.3 L496.8,718.6 L497.1,710.5 L497.4,701.3 L497.7,691.5 L498.1,681.5 L498.4,671.7 L498.7,662.5 L499.0,654.4 L499.3,647.7 L499.7,642.7 L500.0,639.6 L500.3,638.6 L500.6,639.1 L500.9,640.7 L501.2,643.3 L501.5,646.9 L501.8,651.4 L502.1,656.6 L502.4,662.5 L502.7,669.0 L503.0,675.9 L503.3,682.9 L503.6,690.1 L503.9,697.2 L504.2,704.0 L504.5,710.5 L504.8,716.4 L505.1,721.7 L505.4,726.2 L505.7,729.7 L506.0,732.4 L506.3,733.9 L506.6,734.5 L506.9,733.7 L507.2,731.2 L507.5,727.3 L507.9,722.0 L508.2,715.4 L508.5,707.9 L508.8,699.7 L509.1,691.0 L509.4,682.1 L509.7,673.4 L510.0,665.2 L510.3,657.6 L510.6,651.1 L510.9,645.8 L511.2,641.8 L511.5,639.4 L511.8,638.6 L512.1,639.6 L512.5,642.6 L512.8,647.5 L513.1,654.1 L513.4,662.1 L513.7,671.0 L514.0,680.7 L514.4,690.5 L514.7,700.1 L515.0,709.1 L515.3,717.0 L515.6,723.6 L516.0,728.5 L516.3,731.5 L516.6,732.6 L516.9,731.9 L517.2,730.0 L517.5,726.8 L517.8,722.5 L518.1,717.1 L518.4,710.8 L518.7,703.9 L519.0,696.4 L519.3,688.6 L519.6,680.6 L519.9,672.8 L520.2,665.3 L520.5,658.4 L520.8,652.1 L521.1,646.8 L521.5,642.4 L521.8,639.3 L522.1,637.3 L522.4,636.7 L522.7,637.3 L523.0,639.3 L523.3,642.4 L523.6,646.8 L523.9,652.1 L524.2,658.4 L524.5,665.3 L524.8,672.8 L525.1,680.6 L525.4,688.6 L525.7,696.4 L526.0,703.9 L526.3,710.8 L526.6,717.1 L526.9,722.5 L527.2,726.8 L527.5,730.0 L527.8,731.9 L528.1,732.6 L528.4,731.5 L528.8,728.4 L529.1,723.4 L529.4,716.7 L529.7,708.6 L530.0,699.4 L530.4,689.6 L530.7,679.6 L531.0,669.8 L531.3,660.6 L531.6,652.5 L532.0,645.8 L532.3,640.8 L532.6,637.7 L532.9,636.7 L533.2,637.3 L533.5,639.3 L533.8,642.5 L534.1,646.9 L534.4,652.3 L534.7,658.6 L535.0,665.6 L535.3,673.2 L535.6,681.1 L535.9,689.1 L536.2,697.0 L536.5,704.5 L536.8,711.6 L537.2,717.9 L537.5,723.3 L537.8,727.7 L538.1,730.9 L538.4,732.9 L538.7,733.5 L539.0,732.4 L539.3,729.3 L539.6,724.1 L539.9,717.2 L540.3,708.8 L540.6,699.4 L540.9,689.3 L541.2,679.0 L541.5,668.9 L541.9,659.4 L542.2,651.1 L542.5,644.2 L542.8,639.0 L543.1,635.8 L543.5,634.7 L543.8,635.8 L544.1,639.0 L544.4,644.2 L544.7,651.1 L545.1,659.4 L545.4,668.9 L545.7,679.0 L546.0,689.3 L546.3,699.4 L546.7,708.8 L547.0,717.2 L547.3,724.1 L547.6,729.3 L547.9,732.4 L548.3,733.5 L548.6,732.9 L548.9,730.8 L549.2,727.6 L549.5,723.1 L549.8,717.6 L550.1,711.1 L550.4,704.0 L550.7,696.3 L551.0,688.2 L551.3,680.1 L551.6,672.0 L551.9,664.3 L552.2,657.1 L552.5,650.7 L552.8,645.1 L553.1,640.7 L553.4,637.4 L553.7,635.4 L554.0,634.7 L554.3,635.9 L554.7,639.3 L555.0,644.9 L555.3,652.3 L555.6,661.3 L555.9,671.5 L556.3,682.4 L556.6,693.5 L556.9,704.4 L557.2,714.6 L557.5,723.6 L557.8,731.0 L558.2,736.6 L558.5,740.0 L558.8,741.2 L559.1,740.0 L559.4,736.6 L559.8,731.0 L560.1,723.6 L560.4,714.6 L560.7,704.4 L561.0,693.5 L561.4,682.4 L561.7,671.5 L562.0,661.3 L562.3,652.3 L562.6,644.9 L563.0,639.3 L563.3,635.9 L563.6,634.7 L563.9,635.6 L564.2,638.2 L564.5,642.5 L564.8,648.3 L565.1,655.3 L565.4,663.4 L565.7,672.4 L566.0,681.7 L566.3,691.3 L566.7,700.7 L567.0,709.6 L567.3,717.7 L567.6,724.8 L567.9,730.6 L568.2,734.8 L568.5,737.4 L568.8,738.3 L569.1,737.3 L569.4,734.3 L569.7,729.4 L570.0,722.9 L570.3,714.9 L570.7,705.8 L571.0,695.9 L571.3,685.6 L571.6,675.3 L571.9,665.4 L572.2,656.3 L572.5,648.3 L572.8,641.7 L573.1,636.8 L573.5,633.8 L573.8,632.8 L574.1,633.7 L574.4,636.4 L574.7,640.9 L575.0,646.8 L575.3,654.2 L575.6,662.6 L575.9,671.8 L576.2,681.6 L576.5,691.5 L576.8,701.2 L577.1,710.5 L577.4,718.9 L577.7,726.2 L578.0,732.2 L578.3,736.6 L578.6,739.3 L579.0,740.2 L579.3,738.4 L579.6,733.0 L579.9,724.4 L580.2,713.1 L580.5,700.1 L580.9,686.0 L581.2,672.0 L581.5,659.0 L581.8,647.7 L582.1,639.1 L582.5,633.7 L582.8,631.9 L583.1,632.7 L583.4,635.3 L583.7,639.4 L584.0,645.0 L584.3,651.9 L584.6,659.8 L584.9,668.4 L585.2,677.6 L585.5,686.9 L585.8,696.0 L586.1,704.7 L586.4,712.6 L586.7,719.4 L587.1,725.0 L587.4,729.2 L587.7,731.7 L588.0,732.6 L588.3,731.4 L588.6,727.8 L588.9,722.0 L589.2,714.3 L589.5,705.1 L589.9,694.9 L590.2,684.1 L590.5,673.4 L590.8,663.1 L591.1,653.9 L591.4,646.3 L591.7,640.5 L592.1,636.9 L592.4,635.7 L592.7,636.8 L593.0,640.1 L593.3,645.4 L593.7,652.5 L594.0,661.1 L594.3,670.8 L594.6,681.2 L594.9,691.8 L595.3,702.2 L595.6,711.9 L595.9,720.5 L596.2,727.7 L596.5,733.0 L596.9,736.3 L597.2,737.4 L597.5,736.1 L597.8,732.2 L598.1,726.1 L598.4,717.9 L598.7,708.0 L599.0,697.1 L599.3,685.6 L599.6,674.0 L599.9,663.1 L600.2,653.3 L600.5,645.1 L600.8,638.9 L601.1,635.1 L601.4,633.8 L601.7,634.8 L602.0,637.8 L602.3,642.6 L602.6,649.1 L603.0,657.0 L603.3,666.0 L603.6,675.8 L603.9,686.0 L604.2,696.2 L604.5,706.1 L604.8,715.1 L605.1,723.0 L605.4,729.5 L605.8,734.3 L606.1,737.3 L606.4,738.3 L606.7,737.0 L607.0,733.1 L607.3,726.8 L607.6,718.5 L607.9,708.5 L608.2,697.3 L608.5,685.6 L608.8,673.8 L609.1,662.7 L609.4,652.7 L609.7,644.3 L610.0,638.0 L610.3,634.1 L610.6,632.8 L610.9,634.0 L611.2,637.5 L611.6,643.3 L611.9,650.9 L612.2,660.2 L612.5,670.6 L612.8,681.8 L613.2,693.2 L613.5,704.4 L613.8,714.8 L614.1,724.1 L614.4,731.7 L614.8,737.4 L615.1,741.0 L615.4,742.2 L615.7,740.8 L616.0,736.7 L616.3,730.1 L616.7,721.4 L617.0,710.9 L617.3,699.3 L617.6,687.0 L617.9,674.7 L618.2,663.1 L618.5,652.6 L618.9,643.9 L619.2,637.3 L619.5,633.2 L619.8,631.9 L620.1,633.3 L620.4,637.5 L620.7,644.2 L621.0,653.2 L621.3,663.9 L621.6,675.9 L621.9,688.4 L622.2,701.0 L622.5,713.0 L622.8,723.7 L623.1,732.7 L623.4,739.4 L623.7,743.6 L624.0,745.0 L624.3,743.6 L624.6,739.2 L624.9,732.3 L625.2,723.0 L625.5,711.9 L625.8,699.5 L626.1,686.5 L626.4,673.5 L626.7,661.1 L627.0,650.0 L627.3,640.8 L627.6,633.8 L627.9,629.5 L628.3,628.0 L628.6,629.5 L628.9,633.9 L629.2,641.0 L629.5,650.4 L629.8,661.7 L630.1,674.3 L630.5,687.5 L630.8,700.7 L631.1,713.3 L631.4,724.6 L631.7,734.0 L632.0,741.1 L632.3,745.5 L632.7,747.0 L633.0,745.7 L633.3,742.1 L633.6,736.2 L633.9,728.4 L634.3,718.9 L634.6,708.2 L634.9,696.7 L635.2,685.0 L635.5,673.5 L635.9,662.8 L636.2,653.3 L636.5,645.4 L636.8,639.6 L637.1,636.0 L637.5,634.7 L637.8,636.6 L638.1,642.0 L638.4,650.6 L638.7,661.8 L639.1,674.9 L639.4,688.9 L639.7,703.0 L640.0,716.0 L640.3,727.2 L640.7,735.9 L641.0,741.3 L641.3,743.1 L641.6,741.1 L641.9,735.1 L642.3,725.6 L642.6,713.1 L642.9,698.7 L643.2,683.2 L643.5,667.7 L643.9,653.2 L644.2,640.8 L644.5,631.3 L644.8,625.3 L645.1,623.2 L645.5,625.3 L645.8,631.5 L646.1,641.3 L646.4,654.2 L646.7,669.1 L647.0,685.1 L647.4,701.1 L647.7,716.0 L648.0,728.8 L648.3,738.7 L648.6,744.8 L649.0,747.0 L649.3,745.0 L649.6,739.2 L649.9,730.1 L650.2,718.2 L650.6,704.3 L650.9,689.4 L651.2,674.5 L651.5,660.6 L651.8,648.7 L652.2,639.6 L652.5,633.8 L652.8,631.9 L653.1,633.4 L653.4,637.8 L653.7,645.0 L654.1,654.6 L654.4,666.1 L654.7,678.8 L655.0,692.3 L655.3,705.7 L655.6,718.5 L656.0,730.0 L656.3,739.5 L656.6,746.7 L656.9,751.2 L657.2,752.7 L657.5,751.2 L657.8,746.6 L658.1,739.2 L658.4,729.4 L658.7,717.7 L659.0,704.6 L659.3,690.8 L659.6,677.1 L659.9,664.0 L660.2,652.3 L660.5,642.5 L660.8,635.1 L661.1,630.5 L661.4,629.0 L661.8,631.0 L662.1,636.9 L662.4,646.4 L662.7,658.7 L663.0,673.1 L663.4,688.4 L663.7,703.8 L664.0,718.2 L664.3,730.5 L664.6,739.9 L665.0,745.9 L665.3,747.9 L665.6,745.9 L665.9,739.8 L666.2,730.2 L666.6,717.7 L666.9,703.1 L667.2,687.5 L667.5,671.8 L667.8,657.3 L668.2,644.8 L668.5,635.2 L668.8,629.1 L669.1,627.1 L669.4,629.1 L669.7,635.2 L670.1,644.8 L670.4,657.3 L670.7,671.8 L671.0,687.5 L671.3,703.1 L671.7,717.7 L672.0,730.2 L672.3,739.8 L672.6,745.9 L672.9,747.9 L673.3,745.8 L673.6,739.7 L673.9,729.9 L674.2,717.2 L674.5,702.4 L674.9,686.5 L675.2,670.6 L675.5,655.8 L675.8,643.1 L676.1,633.4 L676.5,627.2 L676.8,625.1 L677.1,627.3 L677.4,633.7 L677.7,643.8 L678.1,657.0 L678.4,672.4 L678.7,688.9 L679.0,705.4 L679.3,720.8 L679.7,734.0 L680.0,744.2 L680.3,750.5 L680.6,752.7 L680.9,750.6 L681.3,744.4 L681.6,734.6 L681.9,721.8 L682.2,706.9 L682.5,690.8 L682.9,674.8 L683.2,659.9 L683.5,647.1 L683.8,637.3 L684.1,631.1 L684.5,629.0 L684.8,632.7 L685.1,643.6 L685.4,660.2 L685.7,680.5 L686.1,702.1 L686.4,722.5 L686.7,739.1 L687.0,749.9 L687.3,753.7 L687.7,751.7 L688.0,745.8 L688.3,736.5 L688.6,724.4 L688.9,710.3 L689.3,695.2 L689.6,680.0 L689.9,665.9 L690.2,653.8 L690.5,644.5 L690.9,638.6 L691.2,636.7 L691.5,638.7 L691.8,644.6 L692.1,653.9 L692.4,666.1 L692.8,680.4 L693.1,695.6 L693.4,710.9 L693.7,725.1 L694.0,737.3 L694.4,746.7 L694.7,752.6 L695.0,754.6 L695.3,746.3 L695.7,723.6 L696.0,692.7 L696.3,661.7 L696.7,639.0 L697.0,630.7 L697.3,633.2 L697.6,640.4 L698.0,651.6 L698.3,665.7 L698.6,681.4 L698.9,697.1 L699.2,711.2 L699.5,722.4 L699.9,729.6 L700.2,732.1 L700.5,730.6 L700.8,726.1 L701.1,719.1 L701.4,709.9 L701.7,699.1 L702.0,687.6 L702.3,676.1 L702.6,665.4 L702.9,656.2 L703.2,649.1 L703.6,644.7 L703.9,643.2 L704.2,645.7 L704.5,653.0 L704.8,664.4 L705.1,678.8 L705.4,694.8 L705.7,710.7 L706.1,725.1 L706.4,736.6 L706.7,743.9 L707.0,746.4 L707.3,743.6 L707.6,735.4 L708.0,722.6 L708.3,706.5 L708.6,688.7 L708.9,670.8 L709.3,654.7 L709.6,641.9 L709.9,633.7 L710.2,630.9 L710.5,633.4 L710.8,640.7 L711.2,652.0 L711.5,666.3 L711.8,682.1 L712.1,697.9 L712.4,712.1 L712.7,723.5 L713.0,730.7 L713.3,733.2 L713.7,729.7 L714.0,719.4 L714.3,703.7 L714.6,684.4 L714.9,663.9 L715.3,644.6 L715.6,628.9 L715.9,618.6 L716.2,615.1 L716.5,617.1 L716.9,623.0 L717.2,632.4 L717.5,644.6 L717.8,658.9 L718.1,674.2 L718.4,689.5 L718.7,703.8 L719.1,716.0 L719.4,725.4 L719.7,731.3 L720.0,733.3 L720.3,731.0 L720.7,724.2 L721.0,713.7 L721.3,700.4 L721.6,685.6 L721.9,670.9 L722.3,657.6 L722.6,647.1 L722.9,640.3 L723.2,638.0 L723.5,639.8 L723.8,645.1 L724.1,653.3 L724.5,663.6 L724.8,675.1 L725.1,686.6 L725.4,697.0 L725.7,705.2 L726.0,710.5 L726.3,712.3 L726.6,710.5 L726.9,705.3 L727.3,697.1 L727.6,686.6 L727.9,674.5 L728.2,662.0 L728.5,650.0 L728.8,639.4 L729.2,631.2 L729.5,626.0 L729.8,624.2 L730.1,626.4 L730.4,632.7 L730.8,642.7 L731.1,655.5 L731.4,670.1 L731.7,685.3 L732.1,699.9 L732.4,712.7 L732.7,722.6 L733.0,728.9 L733.4,731.1 L733.7,729.1 L734.0,723.3 L734.3,714.2 L734.6,702.5 L734.9,689.2 L735.2,675.3 L735.5,661.9 L735.8,650.2 L736.2,641.1 L736.5,635.3 L736.8,633.4 L737.1,635.8 L737.4,642.9 L737.8,654.0 L738.1,667.9 L738.4,683.3 L738.7,698.8 L739.1,712.7 L739.4,723.8 L739.7,730.9 L740.0,733.3 L740.3,730.5 L740.6,722.3 L740.9,709.6 L741.2,693.6 L741.6,675.8 L741.9,658.0 L742.2,642.0 L742.5,629.3 L742.8,621.1 L743.1,618.3 L743.4,622.3 L743.7,633.7 L744.1,650.8 L744.4,670.9 L744.7,691.1 L745.0,708.2 L745.4,719.6 L745.7,723.6 L746.0,722.3 L746.3,718.3 L746.6,712.0 L746.9,703.7 L747.2,694.1 L747.5,683.8 L747.8,673.6 L748.1,664.0 L748.4,655.7 L748.7,649.4 L749.0,645.4 L749.3,644.1 L749.6,647.3 L749.9,656.5 L750.2,670.6 L750.5,687.9 L750.8,706.3 L751.1,723.7 L751.4,737.8 L751.7,747.0 L752.0,750.2 L752.4,748.3 L752.7,742.6 L753.0,733.6 L753.3,721.9 L753.6,708.3 L753.9,693.6 L754.2,679.0 L754.5,665.4 L754.8,653.7 L755.2,644.7 L755.5,639.0 L755.8,637.1 L756.1,640.0 L756.4,648.6 L756.7,661.9 L757.0,678.7 L757.3,697.3 L757.6,715.9 L757.9,732.7 L758.2,746.1 L758.5,754.6 L758.8,757.6 L759.1,753.6 L759.4,742.4 L759.8,725.1 L760.1,703.8 L760.4,681.3 L760.7,660.0 L761.0,642.7 L761.3,631.5 L761.6,627.5 L761.9,629.6 L762.2,635.7 L762.5,645.5 L762.8,658.1 L763.1,672.9 L763.4,688.7 L763.7,704.6 L764.0,719.4 L764.3,732.0 L764.6,741.8 L765.0,747.9 L765.3,750.0 L765.6,747.0 L765.9,738.6 L766.2,725.4 L766.5,708.7 L766.8,690.3 L767.1,671.8 L767.4,655.2 L767.8,642.0 L768.1,633.5 L768.4,630.6 L768.7,632.6 L769.0,638.7 L769.3,648.1 L769.6,660.3 L769.9,674.2 L770.2,688.6 L770.5,702.5 L770.8,714.7 L771.2,724.2 L771.5,730.2 L771.8,732.2 L772.1,729.5 L772.4,721.5 L772.7,709.3 L773.0,694.4 L773.4,678.4 L773.7,663.5 L774.0,651.3 L774.3,643.3 L774.6,640.6 L774.9,644.2 L775.2,654.7 L775.6,670.7 L775.9,690.4 L776.2,711.3 L776.5,731.0 L776.8,747.1 L777.1,757.5 L777.4,761.2 L777.7,758.9 L778.0,752.1 L778.3,741.4 L778.6,727.4 L778.9,711.1 L779.2,693.7 L779.5,676.2 L779.9,659.9 L780.2,645.9 L780.5,635.2 L780.8,628.5 L781.1,626.2 L781.4,629.5 L781.7,639.0 L782.0,654.0 L782.3,672.8 L782.6,693.6 L782.9,714.4 L783.2,733.2 L783.5,748.2 L783.8,757.7 L784.1,761.0 L784.5,758.5 L784.8,751.2 L785.1,739.6 L785.4,724.7 L785.8,707.8 L786.1,690.1 L786.4,673.2 L786.7,658.3 L787.1,646.7 L787.4,639.4 L787.7,636.9 L788.0,642.4 L788.4,658.1 L788.7,680.7 L789.0,705.7 L789.3,728.3 L789.7,743.9 L790.0,749.5 L790.3,744.4 L790.7,730.4 L791.0,711.3 L791.4,692.3 L791.7,678.3 L792.1,673.2 L792.4,677.6 L792.8,689.7 L793.1,706.2 L793.4,722.8 L793.8,734.9 L794.1,739.3 L794.4,731.6 L794.7,711.6 L795.0,686.9 L795.4,666.9 L795.7,659.2 L796.0,666.1 L796.4,682.7 L796.8,699.3 L797.2,706.2 L797.5,702.2 L797.9,691.7 L798.2,678.7 L798.6,668.2 L798.9,664.2 L799.3,675.7 L799.6,703.5 L800.0,731.3 L800.4,742.8 L800.7,732.6 L801.1,705.9 L801.4,673.0 L801.7,646.3 L802.0,636.2 L802.4,652.2 L802.7,690.8 L803.0,729.4 L803.4,745.4 L803.7,736.1 L804.1,712.0 L804.4,682.1 L804.8,658.0 L805.2,648.8 L805.5,652.0 L805.8,660.9 L806.1,673.8 L806.4,688.2 L806.7,701.1 L807.0,710.1 L807.3,713.3 L807.7,707.8 L808.0,694.6 L808.4,681.4 L808.7,675.9 L809.0,681.1 L809.3,695.3 L809.6,714.7 L809.9,734.0 L810.2,748.2 L810.5,753.4 L810.9,744.2 L811.2,719.0 L811.6,684.6 L811.9,650.2 L812.2,625.0 L812.6,615.8 L812.9,627.9 L813.3,659.5 L813.6,698.5 L813.9,730.1 L814.3,742.1 L814.6,733.8 L814.9,712.0 L815.3,685.0 L815.6,663.2 L815.9,654.9 L816.2,658.1 L816.6,666.8 L816.9,678.7 L817.2,690.6 L817.5,699.4 L817.9,702.5 L818.2,698.0 L818.5,685.8 L818.8,669.0 L819.1,652.2 L819.4,639.9 L819.7,635.4 L820.0,642.5 L820.4,662.0 L820.7,688.6 L821.0,715.2 L821.4,734.6 L821.7,741.8 L822.0,733.4 L822.4,710.7 L822.7,679.6 L823.0,648.5 L823.3,625.7 L823.7,617.4 L824.0,630.4 L824.4,662.0 L824.8,693.5 L825.1,706.6 L825.5,703.8 L825.8,696.1 L826.1,684.9 L826.4,672.4 L826.7,661.3 L827.0,653.5 L827.3,650.7 L827.6,656.5 L827.9,672.4 L828.2,694.0 L828.5,715.6 L828.8,731.4 L829.2,737.2 L829.5,731.3 L829.8,715.2 L830.1,693.2 L830.4,671.2 L830.8,655.0 L831.1,649.1 L831.4,652.7 L831.8,662.4 L832.1,675.6 L832.5,688.9 L832.8,698.6 L833.1,702.1 L833.4,700.3 L833.7,695.4 L834.1,688.6 L834.4,681.8 L834.7,676.8 L835.0,675.0 L835.3,683.1 L835.6,704.2 L835.9,730.3 L836.2,751.4 L836.5,759.5 L836.8,744.8 L837.2,709.5 L837.5,674.1 L837.8,659.4 L838.2,671.4 L838.5,700.2 L838.9,729.0 L839.2,740.9 L839.6,730.7 L839.9,704.0 L840.3,671.0 L840.7,644.3 L841.0,634.1 L841.3,640.4 L841.7,656.9 L842.0,677.2 L842.3,693.6 L842.7,699.9 L843.0,686.5 L843.3,654.0 L843.7,621.6 L844.0,609.0 L844.3,616.4 L844.7,639.0 L845.0,669.8 L845.4,700.7 L845.7,723.2 L846.1,731.5 L846.4,725.5 L846.7,709.6 L847.0,690.0 L847.3,674.2 L847.6,668.2 L848.0,671.6 L848.3,681.2 L848.6,694.1 L848.9,707.1 L849.3,716.6 L849.6,720.1 L849.9,715.0 L850.2,700.6 L850.5,679.8 L850.8,656.7 L851.1,635.9 L851.5,621.5 L851.8,616.4 L852.1,623.5 L852.4,643.4 L852.7,672.3 L853.0,704.3 L853.3,733.2 L853.6,753.1 L854.0,760.2 L854.3,750.2 L854.7,724.0 L855.0,691.6 L855.3,665.3 L855.7,655.3 L856.0,661.9 L856.3,679.7 L856.6,704.1 L856.9,728.5 L857.2,746.4 L857.5,752.9 L857.8,688.5 L858.0,624.1 L858.3,643.8 L858.6,691.4 L858.9,738.9 L859.3,758.7 L859.6,740.5 L859.9,696.6 L860.2,652.7 L860.6,634.6 L860.9,651.8 L861.3,693.3 L861.6,734.8 L861.9,752.0 L862.3,732.0 L862.6,683.9 L862.9,635.7 L863.2,615.8 L863.5,634.2 L863.9,678.5 L864.2,722.8 L864.6,741.1 L864.9,710.2 L865.2,648.3 L865.6,617.3 L866.0,652.7 L866.3,723.4 L866.7,758.8 L867.1,721.0 L867.4,645.5 L867.7,609.0 L868.1,682.7 L868.6,757.7 L868.9,729.5 L869.2,673.2 L869.6,645.0 L869.9,657.9 L870.2,688.9 L870.5,720.0 L870.8,732.9 L871.1,707.9 L871.4,658.0 L871.7,633.0 L872.2,685.0 L872.6,737.1 L873.0,674.6 L873.5,612.2 L873.9,674.6 L874.3,736.9 L874.7,673.3 L875.2,609.6 L875.5,647.6 L875.9,723.5 L876.3,761.4 L876.6,741.6 L877.0,693.8 L877.3,646.0 L877.7,626.2 L878.0,656.0 L878.4,715.6 L878.7,745.4 L879.0,714.6 L879.3,653.0 L879.7,622.2 L880.0,640.9 L880.4,685.9 L880.7,731.0 L881.0,749.6 L881.4,729.2 L881.7,680.0 L882.0,630.8 L882.3,610.4 L882.6,631.7 L882.9,683.1 L883.3,734.5 L883.6,755.8 L884.0,727.4 L884.3,670.5 L884.7,642.1 L885.1,672.2 L885.4,732.4 L885.8,762.6 L886.1,726.6 L886.5,654.7 L886.8,618.8 L887.1,652.2 L887.5,719.1 L887.8,752.6 L887.9,694.6 L888.0,636.7 L888.3,640.4 L888.6,650.7 L888.9,665.6 L889.2,682.2 L889.6,697.1 L889.9,707.4 L890.2,711.1 L890.5,707.3 L890.8,697.4 L891.1,685.0 L891.4,675.1 L891.7,671.3 L892.1,674.4 L892.4,683.3 L892.7,696.2 L893.0,710.4 L893.3,723.3 L893.6,732.1 L893.9,735.3 L894.3,730.1 L894.6,716.5 L895.0,699.7 L895.4,686.1 L895.7,680.9 L896.1,687.2 L896.4,702.5 L896.8,717.7 L897.2,724.0 L897.5,717.6 L897.8,700.2 L898.1,676.5 L898.4,652.7 L898.8,635.3 L899.1,628.9 L899.4,632.9 L899.7,644.0 L900.0,660.1 L900.3,677.9 L900.6,694.0 L900.9,705.2 L901.2,709.1 L901.5,706.2 L901.9,698.1 L902.2,686.4 L902.5,673.3 L902.8,661.6 L903.1,653.5 L903.5,650.6 L903.8,663.4 L904.2,694.5 L904.5,725.5 L904.8,738.3 L905.2,733.8 L905.5,721.1 L905.8,702.8 L906.1,682.4 L906.4,664.0 L906.7,651.3 L907.1,646.8 L907.4,661.3 L907.7,696.5 L908.0,731.6 L908.4,746.2 L908.7,734.9 L909.0,705.2 L909.4,668.5 L909.7,638.8 L910.0,627.4 L910.4,643.5 L910.8,682.3 L911.1,721.2 L911.5,737.3 L911.8,730.3 L912.1,712.2 L912.4,689.8 L912.8,671.6 L913.1,664.7 L913.4,668.0 L913.7,676.5 L914.0,687.0 L914.3,695.4 L914.6,698.7 L915.0,694.8 L915.3,684.5 L915.6,671.9 L916.0,661.6 L916.3,657.7 L916.7,661.7 L917.0,672.6 L917.4,687.4 L917.7,702.3 L918.1,713.2 L918.4,717.2 L918.7,709.2 L919.0,688.4 L919.3,662.6 L919.6,641.8 L919.9,633.9 L920.8,702.0 L931.8,702.0 L934.0,696.0 L936.0,690.0 L937.8,689.4" fill="none" stroke="#000" stroke-width="2.05" stroke-linejoin="round" stroke-linecap="round" clip-path="url(#c_a3)"/>
<line x1="135.3" y1="767.3" x2="135.3" y2="759.3" class="tk"/>
<line x1="135.3" y1="608.5" x2="135.3" y2="616.5" class="tk"/>
<line x1="210.9" y1="767.3" x2="210.9" y2="759.3" class="tk"/>
<line x1="210.9" y1="608.5" x2="210.9" y2="616.5" class="tk"/>
<line x1="286.5" y1="767.3" x2="286.5" y2="759.3" class="tk"/>
<line x1="286.5" y1="608.5" x2="286.5" y2="616.5" class="tk"/>
<line x1="362.2" y1="767.3" x2="362.2" y2="759.3" class="tk"/>
<line x1="362.2" y1="608.5" x2="362.2" y2="616.5" class="tk"/>
<line x1="437.8" y1="767.3" x2="437.8" y2="759.3" class="tk"/>
<line x1="437.8" y1="608.5" x2="437.8" y2="616.5" class="tk"/>
<line x1="513.4" y1="767.3" x2="513.4" y2="759.3" class="tk"/>
<line x1="513.4" y1="608.5" x2="513.4" y2="616.5" class="tk"/>
<line x1="589.0" y1="767.3" x2="589.0" y2="759.3" class="tk"/>
<line x1="589.0" y1="608.5" x2="589.0" y2="616.5" class="tk"/>
<line x1="664.6" y1="767.3" x2="664.6" y2="759.3" class="tk"/>
<line x1="664.6" y1="608.5" x2="664.6" y2="616.5" class="tk"/>
<line x1="740.3" y1="767.3" x2="740.3" y2="759.3" class="tk"/>
<line x1="740.3" y1="608.5" x2="740.3" y2="616.5" class="tk"/>
<line x1="815.9" y1="767.3" x2="815.9" y2="759.3" class="tk"/>
<line x1="815.9" y1="608.5" x2="815.9" y2="616.5" class="tk"/>
<line x1="891.5" y1="767.3" x2="891.5" y2="759.3" class="tk"/>
<line x1="891.5" y1="608.5" x2="891.5" y2="616.5" class="tk"/>
<line x1="967.1" y1="767.3" x2="967.1" y2="759.3" class="tk"/>
<line x1="967.1" y1="608.5" x2="967.1" y2="616.5" class="tk"/>
<line x1="89.9" y1="757.5" x2="97.9" y2="757.5" class="tk"/>
<line x1="967.1" y1="757.5" x2="959.1" y2="757.5" class="tk"/>
<line x1="89.9" y1="686.0" x2="97.9" y2="686.0" class="tk"/>
<line x1="967.1" y1="686.0" x2="959.1" y2="686.0" class="tk"/>
<line x1="89.9" y1="614.5" x2="97.9" y2="614.5" class="tk"/>
<line x1="967.1" y1="614.5" x2="959.1" y2="614.5" class="tk"/>
<rect x="89.9" y="608.5" width="877.2" height="158.8" class="fr"/>
<text transform="translate(134.2,799.2) scale(0.94,1)" class="xt">50</text>
<text transform="translate(210.0,799.2) scale(0.94,1)" class="xt">100</text>
<text transform="translate(285.9,799.2) scale(0.94,1)" class="xt">150</text>
<text transform="translate(361.8,799.2) scale(0.94,1)" class="xt">200</text>
<text transform="translate(437.6,799.2) scale(0.94,1)" class="xt">250</text>
<text transform="translate(513.5,799.2) scale(0.94,1)" class="xt">300</text>
<text transform="translate(589.3,799.2) scale(0.94,1)" class="xt">350</text>
<text transform="translate(665.1,799.2) scale(0.94,1)" class="xt">400</text>
<text transform="translate(741.0,799.2) scale(0.94,1)" class="xt">450</text>
<text transform="translate(816.8,799.2) scale(0.94,1)" class="xt">500</text>
<text transform="translate(892.7,799.2) scale(0.94,1)" class="xt">550</text>
<text transform="translate(968.5,799.2) scale(0.94,1)" class="xt">600</text>
<text x="84.1" y="767.1" class="yt">-200</text>
<text x="84.1" y="695.6" class="yt">0</text>
<text x="84.1" y="624.1" class="yt">200</text>
<text x="528.5" y="831.1" class="xl">Time (s)</text>
<text transform="translate(27.5,687.9) rotate(-90)" x="0" y="0" class="yl">Force (N)</text>
<rect x="88.5" y="574.5" width="182.3" height="33.8" rx="1.5" class="lg"/>
<line x1="96.4" y1="592.4" x2="177.7" y2="592.4" stroke="#000" stroke-width="2.2"/>
<text x="182.4" y="599.4" class="lt">Fy-CNC</text>
</g>
<g id="b1">
<line x1="1123.3" y1="136.0" x2="1123.3" y2="286.0" class="mn"/>
<line x1="1138.3" y1="136.0" x2="1138.3" y2="286.0" class="mn"/>
<line x1="1168.5" y1="136.0" x2="1168.5" y2="286.0" class="mn"/>
<line x1="1183.5" y1="136.0" x2="1183.5" y2="286.0" class="mn"/>
<line x1="1198.6" y1="136.0" x2="1198.6" y2="286.0" class="mn"/>
<line x1="1213.7" y1="136.0" x2="1213.7" y2="286.0" class="mn"/>
<line x1="1243.8" y1="136.0" x2="1243.8" y2="286.0" class="mn"/>
<line x1="1258.8" y1="136.0" x2="1258.8" y2="286.0" class="mn"/>
<line x1="1273.9" y1="136.0" x2="1273.9" y2="286.0" class="mn"/>
<line x1="1289.0" y1="136.0" x2="1289.0" y2="286.0" class="mn"/>
<line x1="1319.1" y1="136.0" x2="1319.1" y2="286.0" class="mn"/>
<line x1="1334.2" y1="136.0" x2="1334.2" y2="286.0" class="mn"/>
<line x1="1349.2" y1="136.0" x2="1349.2" y2="286.0" class="mn"/>
<line x1="1364.3" y1="136.0" x2="1364.3" y2="286.0" class="mn"/>
<line x1="1394.4" y1="136.0" x2="1394.4" y2="286.0" class="mn"/>
<line x1="1409.5" y1="136.0" x2="1409.5" y2="286.0" class="mn"/>
<line x1="1424.6" y1="136.0" x2="1424.6" y2="286.0" class="mn"/>
<line x1="1439.6" y1="136.0" x2="1439.6" y2="286.0" class="mn"/>
<line x1="1469.7" y1="136.0" x2="1469.7" y2="286.0" class="mn"/>
<line x1="1484.8" y1="136.0" x2="1484.8" y2="286.0" class="mn"/>
<line x1="1499.9" y1="136.0" x2="1499.9" y2="286.0" class="mn"/>
<line x1="1514.9" y1="136.0" x2="1514.9" y2="286.0" class="mn"/>
<line x1="1545.1" y1="136.0" x2="1545.1" y2="286.0" class="mn"/>
<line x1="1560.1" y1="136.0" x2="1560.1" y2="286.0" class="mn"/>
<line x1="1575.2" y1="136.0" x2="1575.2" y2="286.0" class="mn"/>
<line x1="1590.3" y1="136.0" x2="1590.3" y2="286.0" class="mn"/>
<line x1="1620.4" y1="136.0" x2="1620.4" y2="286.0" class="mn"/>
<line x1="1635.4" y1="136.0" x2="1635.4" y2="286.0" class="mn"/>
<line x1="1650.5" y1="136.0" x2="1650.5" y2="286.0" class="mn"/>
<line x1="1665.6" y1="136.0" x2="1665.6" y2="286.0" class="mn"/>
<line x1="1695.7" y1="136.0" x2="1695.7" y2="286.0" class="mn"/>
<line x1="1710.8" y1="136.0" x2="1710.8" y2="286.0" class="mn"/>
<line x1="1725.8" y1="136.0" x2="1725.8" y2="286.0" class="mn"/>
<line x1="1740.9" y1="136.0" x2="1740.9" y2="286.0" class="mn"/>
<line x1="1771.0" y1="136.0" x2="1771.0" y2="286.0" class="mn"/>
<line x1="1786.1" y1="136.0" x2="1786.1" y2="286.0" class="mn"/>
<line x1="1801.2" y1="136.0" x2="1801.2" y2="286.0" class="mn"/>
<line x1="1816.2" y1="136.0" x2="1816.2" y2="286.0" class="mn"/>
<line x1="1846.3" y1="136.0" x2="1846.3" y2="286.0" class="mn"/>
<line x1="1861.4" y1="136.0" x2="1861.4" y2="286.0" class="mn"/>
<line x1="1876.5" y1="136.0" x2="1876.5" y2="286.0" class="mn"/>
<line x1="1891.5" y1="136.0" x2="1891.5" y2="286.0" class="mn"/>
<line x1="1921.7" y1="136.0" x2="1921.7" y2="286.0" class="mn"/>
<line x1="1936.7" y1="136.0" x2="1936.7" y2="286.0" class="mn"/>
<line x1="1951.8" y1="136.0" x2="1951.8" y2="286.0" class="mn"/>
<line x1="1966.9" y1="136.0" x2="1966.9" y2="286.0" class="mn"/>
<line x1="1108.2" y1="259.5" x2="1981.9" y2="259.5" class="mn"/>
<line x1="1108.2" y1="233.0" x2="1981.9" y2="233.0" class="mn"/>
<line x1="1108.2" y1="206.6" x2="1981.9" y2="206.6" class="mn"/>
<line x1="1108.2" y1="180.1" x2="1981.9" y2="180.1" class="mn"/>
<line x1="1153.4" y1="136.0" x2="1153.4" y2="286.0" class="mj"/>
<line x1="1228.7" y1="136.0" x2="1228.7" y2="286.0" class="mj"/>
<line x1="1304.0" y1="136.0" x2="1304.0" y2="286.0" class="mj"/>
<line x1="1379.4" y1="136.0" x2="1379.4" y2="286.0" class="mj"/>
<line x1="1454.7" y1="136.0" x2="1454.7" y2="286.0" class="mj"/>
<line x1="1530.0" y1="136.0" x2="1530.0" y2="286.0" class="mj"/>
<line x1="1605.3" y1="136.0" x2="1605.3" y2="286.0" class="mj"/>
<line x1="1680.6" y1="136.0" x2="1680.6" y2="286.0" class="mj"/>
<line x1="1756.0" y1="136.0" x2="1756.0" y2="286.0" class="mj"/>
<line x1="1831.3" y1="136.0" x2="1831.3" y2="286.0" class="mj"/>
<line x1="1906.6" y1="136.0" x2="1906.6" y2="286.0" class="mj"/>
<line x1="1108.2" y1="153.6" x2="1981.9" y2="153.6" class="mj"/>
<clipPath id="c_b1"><rect x="1108.2" y="135.0" width="873.7" height="152.0"/></clipPath>
<path d="M1108.2,280.2 L1109.1,278.3 L1110.1,278.5 L1111.0,277.0 L1111.9,276.9 L1112.8,276.1 L1113.8,274.7 L1114.7,272.0 L1115.6,270.7 L1116.6,272.7 L1117.5,269.4 L1118.5,268.2 L1119.4,270.0 L1120.3,267.0 L1121.4,265.3 L1122.5,263.7 L1124.3,236.3 L1125.8,252.8 L1126.9,261.7 L1128.0,268.1 L1128.9,266.6 L1129.8,265.7 L1130.8,262.4 L1131.7,262.8 L1132.6,262.2 L1133.5,259.4 L1134.6,257.8 L1135.7,257.0 L1136.8,255.1 L1137.9,252.8 L1139.0,245.1 L1140.1,243.1 L1141.2,245.4 L1142.3,244.0 L1143.4,242.2 L1144.5,239.6 L1145.6,246.0 L1146.7,253.9 L1147.8,251.5 L1148.9,252.8 L1149.8,253.1 L1150.7,250.5 L1151.6,250.3 L1152.5,249.8 L1153.4,248.1 L1154.3,246.2 L1155.4,244.5 L1156.5,239.2 L1157.6,236.3 L1158.7,236.7 L1159.8,234.5 L1160.9,235.5 L1162.0,233.0 L1163.1,233.4 L1164.2,229.3 L1165.3,229.8 L1166.4,231.7 L1167.5,235.3 L1168.6,239.6 L1169.7,243.6 L1170.8,244.0 L1171.9,241.6 L1173.0,240.1 L1174.1,236.7 L1175.2,235.2 L1176.3,233.6 L1177.4,231.5 L1178.4,229.7 L1179.5,228.7 L1180.6,230.4 L1181.7,231.9 L1182.8,233.0 L1183.9,229.1 L1185.0,222.8 L1186.1,216.6 L1187.2,223.2 L1188.3,226.5 L1189.4,231.1 L1190.5,233.0 L1191.6,233.3 L1192.7,230.4 L1193.8,226.8 L1194.9,226.5 L1196.0,225.6 L1197.1,223.9 L1198.2,221.4 L1199.3,217.7 L1200.4,218.2 L1201.5,219.1 L1202.6,217.4 L1203.7,218.8 L1204.8,219.0 L1205.9,216.6 L1207.0,221.3 L1208.0,225.4 L1209.1,223.2 L1210.2,221.0 L1211.3,222.6 L1212.4,219.9 L1213.5,219.8 L1214.6,214.5 L1215.7,215.3 L1216.8,212.2 L1217.9,211.9 L1219.0,210.9 L1220.1,212.2 L1221.2,208.9 L1222.3,208.1 L1223.4,204.5 L1224.5,208.7 L1225.6,210.0 L1226.7,210.5 L1227.8,214.4 L1228.7,215.2 L1229.7,213.3 L1230.6,216.2 L1231.5,215.0 L1232.5,217.4 L1233.4,218.1 L1234.4,216.6 L1235.5,217.7 L1236.6,220.7 L1237.6,219.9 L1238.7,216.2 L1239.8,212.4 L1240.9,211.1 L1242.0,212.3 L1243.1,211.0 L1244.2,212.4 L1245.3,214.4 L1246.4,212.1 L1247.5,211.0 L1248.6,207.3 L1249.7,206.7 L1250.7,205.1 L1251.7,208.4 L1252.6,206.4 L1253.6,209.0 L1254.6,208.9 L1255.6,207.0 L1256.5,207.4 L1257.5,207.8 L1258.5,207.8 L1259.6,207.6 L1260.7,206.6 L1261.8,205.6 L1262.9,204.5 L1264.0,206.4 L1265.1,209.0 L1266.1,208.7 L1267.2,210.0 L1268.2,208.4 L1269.1,208.0 L1270.1,204.8 L1271.0,203.6 L1271.9,204.8 L1272.9,201.6 L1273.8,200.2 L1274.9,202.8 L1276.0,203.2 L1277.1,207.2 L1278.2,210.0 L1279.3,208.1 L1280.4,205.6 L1281.3,203.7 L1282.3,205.8 L1283.2,205.7 L1284.2,203.3 L1285.1,205.3 L1286.0,204.6 L1287.0,204.5 L1287.9,204.6 L1288.9,202.7 L1289.8,203.5 L1290.7,202.9 L1291.7,199.6 L1292.6,199.1 L1293.6,200.2 L1294.7,201.1 L1295.7,202.5 L1296.8,200.0 L1297.9,201.3 L1299.0,201.4 L1300.1,202.2 L1301.2,201.4 L1302.3,202.4 L1303.4,201.3 L1304.5,200.5 L1305.6,200.2 L1306.7,200.2 L1307.7,200.4 L1308.7,199.2 L1309.6,199.3 L1310.6,200.7 L1311.6,197.8 L1312.6,199.7 L1313.5,200.2 L1314.5,198.5 L1315.5,199.1 L1316.5,197.5 L1317.4,199.2 L1318.4,196.6 L1319.4,195.9 L1320.4,196.4 L1321.3,196.9 L1322.3,194.1 L1323.3,194.5 L1324.3,194.7 L1325.2,194.2 L1326.2,196.2 L1327.2,194.8 L1328.1,196.5 L1329.1,194.0 L1330.1,194.8 L1331.1,196.1 L1332.0,197.1 L1333.0,195.8 L1334.0,195.4 L1334.9,194.4 L1335.8,193.9 L1336.8,195.3 L1337.7,193.8 L1338.7,196.0 L1339.6,194.7 L1340.7,196.5 L1341.8,194.6 L1342.9,195.5 L1344.0,196.9 L1344.9,197.6 L1345.9,196.5 L1346.8,196.6 L1347.7,194.4 L1348.7,193.1 L1349.6,193.3 L1350.6,193.6 L1351.7,193.9 L1352.8,191.1 L1353.8,190.5 L1354.9,190.3 L1356.0,191.3 L1357.1,192.7 L1358.2,194.1 L1359.3,195.8 L1360.4,197.4 L1361.5,194.5 L1362.6,193.9 L1363.7,195.8 L1364.8,195.5 L1365.9,193.4 L1367.0,191.9 L1368.1,188.1 L1369.2,187.7 L1370.3,189.5 L1371.4,189.2 L1372.5,187.4 L1373.4,187.0 L1374.3,189.7 L1375.2,190.7 L1376.1,190.7 L1377.1,190.8 L1378.0,191.4 L1379.1,188.8 L1380.2,187.1 L1381.3,185.9 L1382.2,184.7 L1383.1,184.0 L1384.1,185.8 L1385.0,184.5 L1386.0,186.3 L1386.9,183.2 L1387.8,184.8 L1388.8,186.0 L1389.7,184.9 L1390.7,185.5 L1391.6,185.1 L1392.5,184.8 L1393.5,183.2 L1394.4,182.6 L1395.3,180.2 L1396.2,182.5 L1397.2,179.7 L1398.1,179.7 L1399.0,180.5 L1399.9,179.3 L1401.0,182.3 L1402.1,184.9 L1403.2,188.1 L1404.3,188.1 L1405.4,185.2 L1406.5,182.6 L1407.6,181.5 L1408.7,180.2 L1409.8,182.1 L1410.9,180.3 L1412.0,180.0 L1413.0,180.3 L1414.1,178.0 L1415.2,176.7 L1416.3,177.1 L1417.4,178.4 L1418.5,180.5 L1419.6,179.2 L1420.7,181.5 L1421.8,181.5 L1422.9,180.9 L1424.0,179.4 L1425.1,177.1 L1426.1,178.1 L1427.1,174.8 L1428.0,176.9 L1429.0,177.5 L1430.0,174.2 L1431.0,174.8 L1431.9,174.6 L1432.9,175.3 L1433.9,174.9 L1435.0,173.3 L1436.1,172.1 L1437.2,171.9 L1438.3,169.5 L1439.4,169.5 L1440.5,171.6 L1441.5,173.8 L1442.6,177.1 L1443.7,176.3 L1444.8,176.6 L1445.9,180.6 L1447.0,179.3 L1448.1,176.3 L1449.2,170.6 L1450.3,169.8 L1451.4,172.2 L1452.5,172.3 L1453.6,173.9 L1454.7,172.6 L1455.8,172.2 L1456.9,172.8 L1458.0,171.7 L1459.1,175.5 L1460.2,178.3 L1461.3,181.2 L1462.4,185.9 L1463.5,182.2 L1464.6,178.4 L1465.7,177.1 L1466.8,173.9 L1467.7,174.2 L1468.6,172.5 L1469.6,170.8 L1470.5,170.7 L1471.5,171.0 L1472.4,171.4 L1473.3,170.6 L1474.4,171.9 L1475.5,170.7 L1476.6,172.5 L1477.7,171.7 L1478.8,171.6 L1479.9,170.3 L1481.0,169.5 L1482.1,169.5 L1483.1,169.5 L1484.1,170.2 L1485.0,169.2 L1486.0,170.2 L1487.0,169.3 L1488.0,168.5 L1488.9,169.6 L1489.9,170.2 L1490.9,169.5 L1491.9,167.6 L1492.8,168.7 L1493.8,168.5 L1494.8,169.9 L1495.8,169.9 L1496.7,167.5 L1497.7,169.3 L1498.7,168.6 L1499.7,167.3 L1501.0,163.1 L1502.3,160.7 L1504.0,173.9 L1505.1,172.6 L1506.2,170.2 L1507.3,171.8 L1508.4,169.5 L1509.4,170.2 L1510.3,171.3 L1511.2,171.0 L1512.2,170.7 L1513.1,171.1 L1514.1,170.6 L1515.0,170.6 L1515.9,168.4 L1516.9,169.6 L1517.8,166.8 L1518.8,166.7 L1519.7,168.5 L1520.6,165.1 L1521.6,166.2 L1522.7,168.7 L1523.8,172.9 L1524.9,180.0 L1526.0,182.6 L1527.1,177.6 L1528.2,173.1 L1529.2,172.4 L1530.3,167.3 L1531.3,165.1 L1532.2,167.1 L1533.1,165.7 L1534.0,165.6 L1534.9,165.3 L1535.8,162.9 L1536.9,165.0 L1538.0,167.7 L1539.1,168.4 L1540.0,166.4 L1540.7,164.8 L1541.4,164.1 L1542.1,168.3 L1542.8,166.6 L1543.5,164.0 L1544.2,167.1 L1544.9,167.2 L1545.6,164.8 L1546.3,166.0 L1547.0,166.3 L1547.7,165.3 L1548.4,163.8 L1549.1,166.5 L1549.8,165.2 L1550.5,164.4 L1551.2,164.4 L1551.9,164.0 L1552.6,172.0 L1553.3,170.3 L1554.0,167.1 L1554.7,165.6 L1555.4,165.4 L1556.1,167.0 L1556.8,168.5 L1557.5,164.8 L1558.2,164.4 L1558.9,165.4 L1559.6,165.0 L1560.3,165.1 L1561.0,162.3 L1561.7,164.9 L1562.4,163.2 L1563.1,166.7 L1563.8,165.3 L1564.5,163.0 L1565.2,162.0 L1565.9,165.0 L1566.6,165.5 L1567.3,163.4 L1568.0,164.5 L1568.7,163.6 L1569.4,171.4 L1570.1,163.1 L1570.8,162.6 L1571.5,163.1 L1572.2,164.5 L1572.9,172.1 L1573.6,165.3 L1574.3,164.8 L1575.0,164.9 L1575.7,162.4 L1576.4,163.2 L1577.1,165.3 L1577.8,164.4 L1578.5,165.2 L1579.2,161.4 L1579.9,161.9 L1580.6,165.8 L1581.3,161.1 L1582.0,162.0 L1582.7,163.9 L1583.4,162.6 L1584.1,163.6 L1584.8,161.2 L1585.5,164.1 L1586.2,162.9 L1586.9,164.3 L1587.6,164.9 L1588.3,175.5 L1589.0,175.5 L1589.7,166.6 L1590.4,161.2 L1591.1,160.7 L1591.8,165.2 L1592.5,162.4 L1593.2,162.0 L1593.9,162.4 L1594.6,162.6 L1595.3,160.1 L1596.0,164.2 L1596.7,162.4 L1597.4,164.2 L1598.1,162.8 L1598.8,161.1 L1599.5,163.1 L1600.2,162.9 L1600.9,161.9 L1601.6,159.7 L1602.3,161.2 L1603.0,160.5 L1603.7,162.8 L1604.4,169.4 L1605.1,162.1 L1605.8,161.1 L1606.5,160.0 L1607.2,159.9 L1607.9,160.8 L1608.6,168.5 L1609.3,160.6 L1610.0,159.1 L1610.7,161.8 L1611.4,163.7 L1612.1,159.5 L1612.8,160.1 L1613.5,159.9 L1614.2,159.5 L1614.9,163.4 L1615.6,160.7 L1616.3,161.1 L1617.0,160.6 L1617.7,160.0 L1618.4,161.3 L1619.1,160.9 L1619.8,158.9 L1620.5,166.9 L1621.2,162.9 L1621.9,164.2 L1622.6,160.2 L1623.3,163.4 L1624.0,163.1 L1624.7,162.9 L1625.4,163.4 L1626.1,160.2 L1626.8,161.6 L1627.5,160.3 L1628.2,160.6 L1628.9,160.0 L1629.6,161.6 L1630.3,160.8 L1631.0,160.6 L1631.7,159.5 L1632.4,159.5 L1633.1,161.8 L1633.8,161.6 L1634.5,160.8 L1635.2,162.3 L1635.9,162.2 L1636.6,161.2 L1637.3,158.7 L1638.0,160.9 L1638.7,160.2 L1639.4,161.1 L1640.1,162.1 L1640.8,161.2 L1641.5,158.7 L1642.2,158.8 L1642.9,159.4 L1643.6,162.6 L1644.3,161.8 L1645.0,162.9 L1645.7,159.3 L1646.4,160.4 L1647.1,160.2 L1647.8,159.5 L1648.5,162.8 L1649.2,158.7 L1649.9,158.7 L1650.6,162.8 L1651.3,163.0 L1652.0,160.0 L1652.7,160.8 L1653.4,159.8 L1654.1,162.2 L1654.8,161.5 L1655.5,167.0 L1656.2,162.4 L1656.9,159.1 L1657.6,159.7 L1658.3,163.0 L1659.0,159.6 L1659.7,160.7 L1660.4,163.4 L1661.1,162.1 L1661.8,158.9 L1662.5,160.6 L1663.2,161.7 L1663.9,161.3 L1664.6,163.3 L1665.3,160.3 L1666.0,162.3 L1666.7,159.5 L1667.4,163.1 L1668.1,169.9 L1668.8,169.9 L1669.5,161.4 L1670.2,162.6 L1670.9,159.3 L1671.6,158.8 L1672.3,162.4 L1673.0,167.1 L1673.7,159.4 L1674.4,159.7 L1675.1,161.3 L1675.8,162.8 L1676.5,163.2 L1677.2,160.7 L1677.9,160.8 L1678.6,161.2 L1679.3,163.0 L1680.0,159.4 L1680.7,161.5 L1681.4,172.1 L1682.1,172.1 L1682.8,159.4 L1683.5,160.7 L1684.2,165.5 L1684.9,159.8 L1685.6,160.4 L1686.3,162.4 L1687.0,161.1 L1687.7,160.9 L1688.4,168.8 L1689.1,163.5 L1689.8,163.5 L1690.5,161.2 L1691.2,162.9 L1691.9,163.0 L1692.6,170.0 L1693.3,162.1 L1694.0,161.4 L1694.7,164.0 L1695.4,162.2 L1696.1,159.9 L1696.8,161.2 L1697.5,161.0 L1698.2,162.2 L1698.9,160.1 L1699.6,163.5 L1700.3,160.6 L1701.0,161.6 L1701.7,171.0 L1702.4,164.0 L1703.1,162.5 L1703.8,162.4 L1704.5,159.4 L1705.2,161.1 L1705.9,163.9 L1706.6,163.9 L1707.3,159.3 L1708.0,159.1 L1708.7,161.8 L1709.4,162.0 L1710.1,160.3 L1710.8,159.9 L1711.5,161.5 L1712.2,159.6 L1712.9,163.1 L1713.6,161.1 L1714.3,161.1 L1715.0,161.9 L1715.7,162.0 L1716.4,160.9 L1717.1,161.7 L1717.8,159.1 L1718.5,162.4 L1719.2,159.1 L1719.9,161.6 L1720.6,159.5 L1721.3,162.2 L1722.0,163.4 L1722.7,159.0 L1723.4,162.3 L1724.1,172.1 L1724.8,162.7 L1725.5,159.1 L1726.2,161.5 L1726.9,161.6 L1727.6,160.9 L1728.3,160.0 L1729.0,162.6 L1729.7,161.5 L1730.4,160.9 L1731.1,163.7 L1731.8,160.6 L1732.5,162.3 L1733.2,159.8 L1733.9,161.6 L1734.6,165.7 L1735.3,163.5 L1736.0,162.3 L1736.7,163.3 L1737.4,161.0 L1738.1,167.7 L1738.8,160.5 L1739.5,164.1 L1740.2,163.4 L1740.9,160.9 L1741.6,160.7 L1742.3,164.3 L1743.0,161.9 L1743.7,161.5 L1744.4,160.8 L1745.1,162.8 L1745.8,164.2 L1746.5,166.3 L1747.2,160.0 L1747.9,162.2 L1748.6,161.2 L1749.3,163.2 L1750.0,160.8 L1750.7,168.8 L1751.4,159.6 L1752.1,160.9 L1752.8,160.9 L1753.5,161.2 L1754.2,163.5 L1754.9,160.2 L1755.6,159.7 L1756.3,162.7 L1757.0,159.6 L1757.7,159.4 L1758.4,159.5 L1759.1,162.0 L1759.8,159.1 L1760.5,159.3 L1761.2,162.0 L1761.9,161.0 L1762.6,160.1 L1763.3,159.5 L1764.0,160.1 L1764.7,163.2 L1765.4,162.1 L1766.1,159.1 L1766.8,163.3 L1767.5,161.7 L1768.2,169.9 L1768.9,160.1 L1769.6,159.5 L1770.3,164.9 L1771.0,159.6 L1771.7,163.7 L1772.4,160.0 L1773.1,160.7 L1773.8,163.0 L1774.5,162.2 L1775.2,161.2 L1775.9,161.4 L1776.6,168.7 L1777.3,138.9 L1778.0,162.1 L1778.7,164.7 L1779.4,162.3 L1780.1,168.4 L1780.8,165.4 L1781.5,164.8 L1782.2,166.1 L1782.9,162.6 L1783.6,164.0 L1784.3,163.7 L1785.0,163.0 L1785.7,165.6 L1786.4,164.7 L1787.1,165.6 L1787.8,164.5 L1788.5,167.0 L1789.2,164.5 L1789.9,164.4 L1790.6,164.3 L1791.3,173.2 L1792.0,173.2 L1792.7,166.4 L1793.4,163.7 L1794.1,163.0 L1794.8,164.5 L1795.5,167.2 L1796.2,165.7 L1796.9,165.1 L1797.6,163.4 L1798.3,169.5 L1799.0,165.6 L1799.7,167.3 L1800.4,164.8 L1801.1,167.0 L1801.8,166.4 L1802.5,166.4 L1803.2,167.5 L1803.9,164.1 L1804.6,167.4 L1805.3,164.0 L1806.0,163.3 L1806.7,165.1 L1807.4,165.7 L1808.1,163.3 L1808.8,164.1 L1809.5,167.0 L1810.2,165.1 L1810.9,167.0 L1811.6,168.1 L1812.3,165.2 L1813.0,163.7 L1813.7,164.3 L1814.4,165.4 L1815.1,166.8 L1815.8,166.2 L1816.5,168.4 L1817.2,165.7 L1817.9,168.8 L1818.6,168.3 L1819.3,165.5 L1820.0,165.7 L1820.7,168.8 L1821.4,166.7 L1822.1,167.2 L1822.8,172.0 L1823.5,168.5 L1824.2,165.5 L1824.9,167.6 L1825.6,169.1 L1826.3,167.4 L1827.0,169.1 L1827.7,165.6 L1828.4,172.1 L1829.1,170.9 L1829.8,169.9 L1830.5,169.6 L1831.2,172.0 L1831.9,173.5 L1832.6,171.6 L1833.3,179.9 L1834.0,179.9 L1834.7,177.9 L1835.4,171.8 L1836.1,167.0 L1836.8,167.8 L1837.5,176.9 L1838.2,169.1 L1838.9,168.1 L1839.6,166.0 L1840.3,166.6 L1841.0,168.4 L1841.7,167.9 L1842.4,164.2 L1843.1,166.9 L1843.8,163.9 L1844.5,167.2 L1845.2,138.9 L1845.9,138.9 L1846.6,136.5 L1847.3,136.5 L1848.0,168.1 L1848.7,141.1 L1849.4,167.9 L1850.1,165.3 L1850.8,168.9 L1851.5,166.1 L1852.2,173.1 L1852.9,168.1 L1853.6,167.8 L1854.3,178.4 L1855.0,172.8 L1855.7,167.8 L1856.4,172.4 L1857.1,172.1 L1857.8,169.3 L1858.5,174.2 L1859.2,171.9 L1859.9,169.1 L1860.6,175.8 L1861.3,173.1 L1862.0,175.7 L1862.7,170.3 L1863.4,171.9 L1864.1,170.8 L1864.8,173.5 L1865.5,172.8 L1866.2,173.3 L1866.9,174.2 L1867.6,169.4 L1868.3,169.8 L1869.0,174.3 L1869.7,173.2 L1870.4,170.4 L1871.1,174.0 L1871.8,178.8 L1872.5,175.3 L1873.2,173.0 L1873.9,175.3 L1874.6,169.2 L1875.3,173.3 L1876.0,172.7 L1876.7,173.4 L1877.4,175.3 L1878.1,174.0 L1878.8,173.9 L1879.5,172.1 L1880.2,170.1 L1880.9,173.7 L1881.6,169.2 L1882.3,173.6 L1883.0,170.5 L1883.7,140.0 L1884.4,171.2 L1885.1,182.0 L1885.8,172.1 L1886.5,176.7 L1887.2,175.6 L1887.9,179.9 L1888.6,178.4 L1889.3,173.5 L1890.0,183.7 L1890.7,179.2 L1891.4,189.9 L1892.1,176.4 L1892.8,184.0 L1893.5,181.8 L1894.2,181.7 L1894.9,177.5 L1895.6,181.7 L1896.3,176.5 L1897.0,177.9 L1897.7,178.8 L1898.4,179.0 L1899.1,182.0 L1899.8,178.8 L1900.5,179.1 L1901.2,176.8 L1901.9,177.7 L1902.6,178.6 L1903.3,180.9 L1904.0,174.8 L1904.7,178.3 L1905.4,176.7 L1906.1,175.0 L1906.8,178.0 L1907.5,180.3 L1908.2,179.9 L1908.9,178.3 L1909.6,176.6 L1910.3,181.1 L1911.0,180.8 L1911.7,179.4 L1912.4,182.3 L1913.1,176.2 L1913.8,179.9 L1914.5,178.8 L1915.2,180.2 L1915.9,182.3 L1916.6,181.0 L1917.3,177.2 L1918.0,181.6 L1918.7,177.5 L1919.4,178.6 L1920.1,181.2 L1920.8,184.4 L1921.5,183.5 L1922.2,178.8 L1922.9,179.7 L1923.6,181.2 L1924.3,185.9 L1925.0,186.1 L1925.7,192.1 L1926.4,183.4 L1927.1,186.7 L1927.8,186.2 L1928.5,188.4 L1929.2,181.2 L1929.9,183.9 L1930.6,182.1 L1931.3,186.8 L1932.0,185.0 L1932.7,184.8 L1933.4,185.1 L1934.1,184.5 L1934.8,184.0 L1935.5,184.6 L1936.2,183.0 L1936.9,181.0 L1937.6,182.0 L1938.3,185.7 L1939.0,187.9 L1939.7,182.7 L1940.4,186.0 L1941.1,183.5 L1941.8,185.8 L1942.5,185.7 L1943.2,184.6 L1943.9,184.3 L1944.6,185.3 L1945.3,182.7 L1946.0,181.4 L1946.7,182.1 L1947.4,183.9 L1948.1,194.5 L1948.8,182.7 L1949.5,184.4 L1950.2,191.1 L1950.9,181.7 L1951.6,183.4 L1952.3,189.7 L1953.7,285.5" fill="none" stroke="#ff0000" stroke-width="1.8" stroke-linejoin="round" stroke-linecap="round" clip-path="url(#c_b1)"/>
<line x1="1153.4" y1="286.0" x2="1153.4" y2="278.0" class="tk"/>
<line x1="1153.4" y1="136.0" x2="1153.4" y2="144.0" class="tk"/>
<line x1="1228.7" y1="286.0" x2="1228.7" y2="278.0" class="tk"/>
<line x1="1228.7" y1="136.0" x2="1228.7" y2="144.0" class="tk"/>
<line x1="1304.0" y1="286.0" x2="1304.0" y2="278.0" class="tk"/>
<line x1="1304.0" y1="136.0" x2="1304.0" y2="144.0" class="tk"/>
<line x1="1379.4" y1="286.0" x2="1379.4" y2="278.0" class="tk"/>
<line x1="1379.4" y1="136.0" x2="1379.4" y2="144.0" class="tk"/>
<line x1="1454.7" y1="286.0" x2="1454.7" y2="278.0" class="tk"/>
<line x1="1454.7" y1="136.0" x2="1454.7" y2="144.0" class="tk"/>
<line x1="1530.0" y1="286.0" x2="1530.0" y2="278.0" class="tk"/>
<line x1="1530.0" y1="136.0" x2="1530.0" y2="144.0" class="tk"/>
<line x1="1605.3" y1="286.0" x2="1605.3" y2="278.0" class="tk"/>
<line x1="1605.3" y1="136.0" x2="1605.3" y2="144.0" class="tk"/>
<line x1="1680.6" y1="286.0" x2="1680.6" y2="278.0" class="tk"/>
<line x1="1680.6" y1="136.0" x2="1680.6" y2="144.0" class="tk"/>
<line x1="1756.0" y1="286.0" x2="1756.0" y2="278.0" class="tk"/>
<line x1="1756.0" y1="136.0" x2="1756.0" y2="144.0" class="tk"/>
<line x1="1831.3" y1="286.0" x2="1831.3" y2="278.0" class="tk"/>
<line x1="1831.3" y1="136.0" x2="1831.3" y2="144.0" class="tk"/>
<line x1="1906.6" y1="286.0" x2="1906.6" y2="278.0" class="tk"/>
<line x1="1906.6" y1="136.0" x2="1906.6" y2="144.0" class="tk"/>
<line x1="1981.9" y1="286.0" x2="1981.9" y2="278.0" class="tk"/>
<line x1="1981.9" y1="136.0" x2="1981.9" y2="144.0" class="tk"/>
<line x1="1108.2" y1="286.0" x2="1116.2" y2="286.0" class="tk"/>
<line x1="1981.9" y1="286.0" x2="1973.9" y2="286.0" class="tk"/>
<line x1="1108.2" y1="153.6" x2="1116.2" y2="153.6" class="tk"/>
<line x1="1981.9" y1="153.6" x2="1973.9" y2="153.6" class="tk"/>
<rect x="1108.2" y="136.0" width="873.7" height="150.0" class="fr"/>
<text transform="translate(1151.8,317.9) scale(0.94,1)" class="xt">50</text>
<text transform="translate(1227.3,317.9) scale(0.94,1)" class="xt">100</text>
<text transform="translate(1302.9,317.9) scale(0.94,1)" class="xt">150</text>
<text transform="translate(1378.4,317.9) scale(0.94,1)" class="xt">200</text>
<text transform="translate(1454.0,317.9) scale(0.94,1)" class="xt">250</text>
<text transform="translate(1529.5,317.9) scale(0.94,1)" class="xt">300</text>
<text transform="translate(1605.1,317.9) scale(0.94,1)" class="xt">350</text>
<text transform="translate(1680.6,317.9) scale(0.94,1)" class="xt">400</text>
<text transform="translate(1756.2,317.9) scale(0.94,1)" class="xt">450</text>
<text transform="translate(1831.8,317.9) scale(0.94,1)" class="xt">500</text>
<text transform="translate(1907.3,317.9) scale(0.94,1)" class="xt">550</text>
<text transform="translate(1982.8,317.9) scale(0.94,1)" class="xt">600</text>
<text x="1102.4" y="295.6" class="yt">0</text>
<text x="1102.4" y="163.2" class="yt">500</text>
<text x="1545.1" y="349.8" class="xl">Time (s)</text>
<text transform="translate(1053.2,211.0) rotate(-90)" x="0" y="0" class="yl">Force (N)</text>
<rect x="1108.2" y="101.6" width="195.7" height="33.1" rx="1.5" class="lg"/>
<line x1="1115.9" y1="119.7" x2="1197.0" y2="119.7" stroke="#ff0000" stroke-width="2.0"/>
<text x="1201.3" y="126.3" class="lt">Fz-Robot</text>
</g>
<g id="b2">
<line x1="1123.3" y1="383.0" x2="1123.3" y2="535.0" class="mn"/>
<line x1="1138.3" y1="383.0" x2="1138.3" y2="535.0" class="mn"/>
<line x1="1168.5" y1="383.0" x2="1168.5" y2="535.0" class="mn"/>
<line x1="1183.5" y1="383.0" x2="1183.5" y2="535.0" class="mn"/>
<line x1="1198.6" y1="383.0" x2="1198.6" y2="535.0" class="mn"/>
<line x1="1213.7" y1="383.0" x2="1213.7" y2="535.0" class="mn"/>
<line x1="1243.8" y1="383.0" x2="1243.8" y2="535.0" class="mn"/>
<line x1="1258.8" y1="383.0" x2="1258.8" y2="535.0" class="mn"/>
<line x1="1273.9" y1="383.0" x2="1273.9" y2="535.0" class="mn"/>
<line x1="1289.0" y1="383.0" x2="1289.0" y2="535.0" class="mn"/>
<line x1="1319.1" y1="383.0" x2="1319.1" y2="535.0" class="mn"/>
<line x1="1334.2" y1="383.0" x2="1334.2" y2="535.0" class="mn"/>
<line x1="1349.2" y1="383.0" x2="1349.2" y2="535.0" class="mn"/>
<line x1="1364.3" y1="383.0" x2="1364.3" y2="535.0" class="mn"/>
<line x1="1394.4" y1="383.0" x2="1394.4" y2="535.0" class="mn"/>
<line x1="1409.5" y1="383.0" x2="1409.5" y2="535.0" class="mn"/>
<line x1="1424.6" y1="383.0" x2="1424.6" y2="535.0" class="mn"/>
<line x1="1439.6" y1="383.0" x2="1439.6" y2="535.0" class="mn"/>
<line x1="1469.7" y1="383.0" x2="1469.7" y2="535.0" class="mn"/>
<line x1="1484.8" y1="383.0" x2="1484.8" y2="535.0" class="mn"/>
<line x1="1499.9" y1="383.0" x2="1499.9" y2="535.0" class="mn"/>
<line x1="1514.9" y1="383.0" x2="1514.9" y2="535.0" class="mn"/>
<line x1="1545.1" y1="383.0" x2="1545.1" y2="535.0" class="mn"/>
<line x1="1560.1" y1="383.0" x2="1560.1" y2="535.0" class="mn"/>
<line x1="1575.2" y1="383.0" x2="1575.2" y2="535.0" class="mn"/>
<line x1="1590.3" y1="383.0" x2="1590.3" y2="535.0" class="mn"/>
<line x1="1620.4" y1="383.0" x2="1620.4" y2="535.0" class="mn"/>
<line x1="1635.4" y1="383.0" x2="1635.4" y2="535.0" class="mn"/>
<line x1="1650.5" y1="383.0" x2="1650.5" y2="535.0" class="mn"/>
<line x1="1665.6" y1="383.0" x2="1665.6" y2="535.0" class="mn"/>
<line x1="1695.7" y1="383.0" x2="1695.7" y2="535.0" class="mn"/>
<line x1="1710.8" y1="383.0" x2="1710.8" y2="535.0" class="mn"/>
<line x1="1725.8" y1="383.0" x2="1725.8" y2="535.0" class="mn"/>
<line x1="1740.9" y1="383.0" x2="1740.9" y2="535.0" class="mn"/>
<line x1="1771.0" y1="383.0" x2="1771.0" y2="535.0" class="mn"/>
<line x1="1786.1" y1="383.0" x2="1786.1" y2="535.0" class="mn"/>
<line x1="1801.2" y1="383.0" x2="1801.2" y2="535.0" class="mn"/>
<line x1="1816.2" y1="383.0" x2="1816.2" y2="535.0" class="mn"/>
<line x1="1846.3" y1="383.0" x2="1846.3" y2="535.0" class="mn"/>
<line x1="1861.4" y1="383.0" x2="1861.4" y2="535.0" class="mn"/>
<line x1="1876.5" y1="383.0" x2="1876.5" y2="535.0" class="mn"/>
<line x1="1891.5" y1="383.0" x2="1891.5" y2="535.0" class="mn"/>
<line x1="1921.7" y1="383.0" x2="1921.7" y2="535.0" class="mn"/>
<line x1="1936.7" y1="383.0" x2="1936.7" y2="535.0" class="mn"/>
<line x1="1951.8" y1="383.0" x2="1951.8" y2="535.0" class="mn"/>
<line x1="1966.9" y1="383.0" x2="1966.9" y2="535.0" class="mn"/>
<line x1="1108.2" y1="503.2" x2="1981.9" y2="503.2" class="mn"/>
<line x1="1108.2" y1="486.8" x2="1981.9" y2="486.8" class="mn"/>
<line x1="1108.2" y1="470.4" x2="1981.9" y2="470.4" class="mn"/>
<line x1="1108.2" y1="437.6" x2="1981.9" y2="437.6" class="mn"/>
<line x1="1108.2" y1="421.2" x2="1981.9" y2="421.2" class="mn"/>
<line x1="1108.2" y1="404.8" x2="1981.9" y2="404.8" class="mn"/>
<line x1="1153.4" y1="383.0" x2="1153.4" y2="535.0" class="mj"/>
<line x1="1228.7" y1="383.0" x2="1228.7" y2="535.0" class="mj"/>
<line x1="1304.0" y1="383.0" x2="1304.0" y2="535.0" class="mj"/>
<line x1="1379.4" y1="383.0" x2="1379.4" y2="535.0" class="mj"/>
<line x1="1454.7" y1="383.0" x2="1454.7" y2="535.0" class="mj"/>
<line x1="1530.0" y1="383.0" x2="1530.0" y2="535.0" class="mj"/>
<line x1="1605.3" y1="383.0" x2="1605.3" y2="535.0" class="mj"/>
<line x1="1680.6" y1="383.0" x2="1680.6" y2="535.0" class="mj"/>
<line x1="1756.0" y1="383.0" x2="1756.0" y2="535.0" class="mj"/>
<line x1="1831.3" y1="383.0" x2="1831.3" y2="535.0" class="mj"/>
<line x1="1906.6" y1="383.0" x2="1906.6" y2="535.0" class="mj"/>
<line x1="1108.2" y1="519.6" x2="1981.9" y2="519.6" class="mj"/>
<line x1="1108.2" y1="454.0" x2="1981.9" y2="454.0" class="mj"/>
<line x1="1108.2" y1="388.4" x2="1981.9" y2="388.4" class="mj"/>
<clipPath id="c_b2"><rect x="1108.2" y="382.0" width="873.7" height="154.0"/></clipPath>
<path d="M1108.2,454.7 L1108.5,454.1 L1108.7,453.9 L1109.0,454.6 L1109.2,453.7 L1109.5,454.0 L1109.7,454.0 L1110.0,453.9 L1110.2,453.2 L1110.5,453.7 L1110.7,453.4 L1111.0,453.6 L1111.2,452.5 L1111.5,453.4 L1111.7,452.4 L1112.0,453.0 L1112.3,452.5 L1112.5,452.8 L1112.8,451.9 L1113.0,452.0 L1113.3,451.7 L1113.5,452.5 L1113.8,452.1 L1114.0,451.8 L1114.3,451.8 L1114.5,451.8 L1114.8,452.1 L1115.0,452.7 L1115.3,452.7 L1115.5,453.3 L1115.8,452.8 L1116.0,454.0 L1116.3,454.5 L1116.6,454.6 L1116.8,455.0 L1117.1,455.5 L1117.3,455.0 L1117.6,455.9 L1117.8,455.9 L1118.1,457.2 L1118.3,457.4 L1118.6,457.3 L1118.8,458.2 L1119.1,459.1 L1119.3,459.3 L1119.6,459.2 L1119.8,460.6 L1120.1,460.0 L1120.3,461.4 L1120.6,462.0 L1120.9,462.1 L1121.1,462.7 L1121.4,462.5 L1121.6,462.4 L1121.9,463.0 L1122.1,463.6 L1122.4,463.8 L1122.6,463.5 L1122.9,464.3 L1123.1,463.3 L1123.4,463.9 L1123.6,463.4 L1123.9,463.8 L1124.1,464.5 L1124.4,463.3 L1124.7,464.2 L1124.9,463.9 L1125.2,463.5 L1125.4,462.5 L1125.7,462.7 L1125.9,462.6 L1126.2,461.6 L1126.4,461.5 L1126.7,460.8 L1127.0,461.3 L1127.2,460.9 L1127.5,460.5 L1127.7,459.8 L1128.0,459.1 L1128.2,457.9 L1128.5,457.9 L1128.7,457.7 L1129.0,457.2 L1129.2,455.8 L1129.5,455.2 L1129.8,454.8 L1130.0,455.3 L1130.3,453.8 L1130.5,453.6 L1130.8,453.2 L1131.0,453.2 L1131.3,451.9 L1131.5,451.6 L1131.8,451.8 L1132.0,450.6 L1132.3,450.4 L1132.6,449.9 L1132.8,450.7 L1133.1,449.6 L1133.3,449.7 L1133.6,449.4 L1133.8,450.0 L1134.1,449.6 L1134.3,449.4 L1134.6,449.2 L1134.9,449.0 L1135.1,449.8 L1135.4,449.0 L1135.6,449.8 L1135.9,449.6 L1136.1,449.8 L1136.4,450.3 L1136.6,450.3 L1136.9,451.2 L1137.1,450.9 L1137.4,451.3 L1137.6,451.9 L1137.9,452.3 L1138.1,453.8 L1138.4,453.9 L1138.6,454.6 L1138.9,455.3 L1139.2,455.1 L1139.4,456.6 L1139.7,456.5 L1139.9,457.2 L1140.2,457.8 L1140.4,458.6 L1140.7,459.2 L1140.9,459.1 L1141.2,460.3 L1141.4,460.3 L1141.7,460.6 L1141.9,461.8 L1142.2,462.2 L1142.4,462.5 L1142.7,462.2 L1142.9,463.2 L1143.2,463.3 L1143.5,463.7 L1143.7,463.6 L1144.0,464.0 L1144.2,463.5 L1144.5,463.8 L1144.7,463.8 L1145.0,463.4 L1145.2,463.2 L1145.5,462.9 L1145.7,463.2 L1146.0,462.3 L1146.3,462.4 L1146.5,461.7 L1146.8,461.4 L1147.0,460.5 L1147.3,459.6 L1147.5,459.8 L1147.8,458.5 L1148.0,458.1 L1148.3,458.0 L1148.6,456.4 L1148.8,456.8 L1149.1,455.7 L1149.3,455.0 L1149.6,454.5 L1149.8,453.0 L1150.1,452.3 L1150.3,452.5 L1150.6,451.8 L1150.9,451.3 L1151.1,450.9 L1151.4,449.8 L1151.6,449.2 L1151.9,449.7 L1152.1,448.3 L1152.4,448.5 L1152.7,448.3 L1152.9,448.5 L1153.2,447.3 L1153.4,448.0 L1153.7,447.2 L1153.9,447.7 L1154.2,448.0 L1154.4,448.4 L1154.7,447.6 L1154.9,448.6 L1155.2,448.2 L1155.4,448.8 L1155.7,449.9 L1155.9,450.1 L1156.2,449.6 L1156.4,450.0 L1156.7,450.5 L1156.9,452.0 L1157.2,451.7 L1157.4,453.2 L1157.7,453.8 L1157.9,454.4 L1158.2,455.2 L1158.4,455.5 L1158.7,456.4 L1158.9,456.8 L1159.2,457.6 L1159.4,457.5 L1159.7,458.8 L1159.9,459.9 L1160.2,459.9 L1160.4,460.9 L1160.7,460.8 L1160.9,461.8 L1161.2,462.4 L1161.4,463.1 L1161.7,463.1 L1161.9,463.7 L1162.2,463.8 L1162.4,464.6 L1162.7,465.3 L1162.9,464.9 L1163.2,465.5 L1163.4,465.5 L1163.7,465.2 L1163.9,465.9 L1164.2,465.4 L1164.5,465.8 L1164.7,466.2 L1165.0,465.2 L1165.2,465.5 L1165.5,464.9 L1165.7,464.9 L1166.0,464.1 L1166.2,464.1 L1166.5,464.0 L1166.7,462.8 L1167.0,462.5 L1167.3,461.8 L1167.5,461.2 L1167.8,461.2 L1168.0,460.7 L1168.3,459.7 L1168.5,459.0 L1168.8,458.1 L1169.0,457.3 L1169.3,457.4 L1169.6,456.2 L1169.8,455.7 L1170.1,454.5 L1170.3,453.6 L1170.6,452.7 L1170.8,452.4 L1171.1,451.9 L1171.3,451.3 L1171.6,450.8 L1171.8,450.3 L1172.1,450.0 L1172.4,449.3 L1172.6,448.7 L1172.9,448.4 L1173.1,447.7 L1173.4,447.2 L1173.6,447.4 L1173.9,447.1 L1174.1,446.2 L1174.4,446.6 L1174.7,446.0 L1174.9,446.3 L1175.2,445.4 L1175.4,446.1 L1175.7,446.7 L1175.9,446.3 L1176.2,447.1 L1176.4,447.3 L1176.7,447.0 L1176.9,447.6 L1177.2,448.6 L1177.4,450.1 L1177.7,450.5 L1177.9,451.2 L1178.2,452.5 L1178.4,452.8 L1178.7,453.6 L1179.0,455.0 L1179.2,456.6 L1179.5,456.8 L1179.7,458.3 L1180.0,459.2 L1180.2,460.4 L1180.5,461.2 L1180.7,463.3 L1181.0,463.6 L1181.2,465.3 L1181.5,465.6 L1181.7,466.9 L1182.0,467.4 L1182.2,469.0 L1182.5,469.7 L1182.7,470.4 L1183.0,470.9 L1183.3,472.0 L1183.5,471.9 L1183.8,473.4 L1184.0,473.3 L1184.3,473.8 L1184.5,473.8 L1184.8,473.4 L1185.0,473.5 L1185.3,474.3 L1185.5,473.8 L1185.8,473.3 L1186.0,473.3 L1186.3,473.2 L1186.5,472.3 L1186.8,471.7 L1187.1,471.1 L1187.3,470.6 L1187.6,468.8 L1187.8,468.6 L1188.1,467.5 L1188.3,466.6 L1188.6,464.9 L1188.8,464.5 L1189.1,463.3 L1189.3,461.5 L1189.6,461.1 L1189.8,458.8 L1190.1,458.1 L1190.3,456.3 L1190.6,455.2 L1190.8,454.6 L1191.1,453.5 L1191.4,452.1 L1191.6,450.7 L1191.9,450.0 L1192.1,448.9 L1192.4,447.9 L1192.6,447.1 L1192.9,446.4 L1193.1,445.6 L1193.4,444.6 L1193.6,444.6 L1193.9,443.9 L1194.1,444.1 L1194.4,444.1 L1194.6,443.7 L1194.9,443.1 L1195.1,443.4 L1195.4,443.8 L1195.7,443.4 L1195.9,444.4 L1196.2,443.9 L1196.4,445.4 L1196.7,445.5 L1196.9,446.3 L1197.2,446.8 L1197.4,447.9 L1197.7,448.2 L1197.9,448.6 L1198.2,449.7 L1198.4,451.3 L1198.7,452.5 L1198.9,452.7 L1199.2,454.0 L1199.4,455.4 L1199.7,455.9 L1200.0,456.9 L1200.2,458.6 L1200.5,458.9 L1200.7,460.2 L1201.0,461.6 L1201.2,462.4 L1201.5,463.9 L1201.7,464.3 L1202.0,465.1 L1202.2,465.6 L1202.5,467.1 L1202.7,466.9 L1203.0,467.4 L1203.2,468.4 L1203.5,469.4 L1203.7,469.1 L1204.0,469.7 L1204.3,469.4 L1204.5,469.8 L1204.8,470.6 L1205.0,470.4 L1205.3,469.3 L1205.5,470.0 L1205.8,469.0 L1206.0,468.0 L1206.3,467.5 L1206.5,467.4 L1206.8,465.5 L1207.0,465.2 L1207.3,464.3 L1207.5,463.1 L1207.8,461.6 L1208.1,460.5 L1208.3,458.2 L1208.6,457.5 L1208.8,456.4 L1209.1,454.5 L1209.3,452.5 L1209.6,451.4 L1209.8,450.3 L1210.1,449.0 L1210.3,448.2 L1210.6,446.4 L1210.8,445.2 L1211.1,445.0 L1211.4,444.6 L1211.6,443.2 L1211.9,442.9 L1212.1,442.4 L1212.4,442.1 L1212.6,442.0 L1212.9,441.0 L1213.1,441.9 L1213.4,441.7 L1213.6,442.0 L1213.9,442.8 L1214.1,442.5 L1214.4,444.1 L1214.6,444.7 L1214.9,445.5 L1215.1,446.5 L1215.4,446.7 L1215.6,448.2 L1215.9,449.7 L1216.1,450.5 L1216.4,451.9 L1216.6,452.6 L1216.9,454.7 L1217.1,455.3 L1217.4,457.4 L1217.6,458.3 L1217.9,460.1 L1218.1,461.4 L1218.4,463.1 L1218.6,464.4 L1218.9,466.6 L1219.1,467.9 L1219.4,469.6 L1219.6,471.0 L1219.9,472.3 L1220.1,473.4 L1220.4,474.5 L1220.6,476.0 L1220.9,476.6 L1221.1,477.6 L1221.4,478.5 L1221.6,478.9 L1221.9,479.8 L1222.1,480.9 L1222.4,481.1 L1222.6,481.5 L1222.9,481.4 L1223.1,481.7 L1223.4,482.6 L1223.7,482.4 L1223.9,481.4 L1224.2,481.4 L1224.4,480.1 L1224.7,479.2 L1224.9,477.2 L1225.2,476.7 L1225.5,474.6 L1225.7,472.7 L1226.0,471.2 L1226.2,469.7 L1226.5,468.4 L1226.7,468.2 L1227.0,467.3 L1227.3,466.0 L1227.5,465.6 L1227.8,466.2 L1228.0,465.3 L1228.3,466.0 L1228.5,465.6 L1228.8,464.7 L1229.0,464.3 L1229.3,463.7 L1229.6,462.9 L1229.8,462.6 L1230.1,461.8 L1230.3,461.3 L1230.6,459.4 L1230.8,458.7 L1231.1,458.1 L1231.3,457.5 L1231.6,456.8 L1231.8,455.7 L1232.1,454.0 L1232.3,454.0 L1232.6,452.6 L1232.8,452.2 L1233.1,451.2 L1233.3,450.7 L1233.6,450.8 L1233.9,451.0 L1234.1,450.2 L1234.4,449.8 L1234.6,450.5 L1234.9,449.8 L1235.2,449.2 L1235.5,448.9 L1235.7,449.3 L1236.0,449.0 L1236.3,448.2 L1236.6,448.1 L1236.8,448.3 L1237.1,447.6 L1237.3,447.1 L1237.6,446.9 L1237.8,446.0 L1238.1,445.3 L1238.4,443.9 L1238.6,443.1 L1238.9,442.0 L1239.1,440.2 L1239.4,439.6 L1239.6,438.6 L1239.9,437.3 L1240.2,436.7 L1240.4,436.4 L1240.7,436.7 L1240.9,435.5 L1241.2,436.7 L1241.5,436.9 L1241.7,436.6 L1242.0,437.3 L1242.2,437.4 L1242.5,437.7 L1242.7,438.3 L1243.0,439.9 L1243.3,440.0 L1243.5,441.0 L1243.8,441.4 L1244.0,441.7 L1244.3,442.6 L1244.5,443.2 L1244.8,444.1 L1245.1,443.7 L1245.3,444.3 L1245.6,443.7 L1245.8,444.4 L1246.1,444.3 L1246.4,444.1 L1246.6,445.6 L1246.9,445.8 L1247.1,446.3 L1247.4,446.7 L1247.6,446.8 L1247.9,448.4 L1248.2,448.0 L1248.4,448.6 L1248.7,449.8 L1248.9,449.6 L1249.2,449.9 L1249.4,450.0 L1249.7,450.3 L1250.0,450.8 L1250.2,450.7 L1250.5,451.1 L1250.7,452.4 L1251.0,453.2 L1251.3,455.1 L1251.5,455.4 L1251.8,457.2 L1252.0,458.6 L1252.3,460.5 L1252.5,461.1 L1252.8,463.0 L1253.1,463.8 L1253.3,464.9 L1253.6,465.5 L1253.8,465.6 L1254.1,466.0 L1254.3,465.3 L1254.6,466.2 L1254.9,465.7 L1255.1,466.4 L1255.4,466.3 L1255.6,467.7 L1255.9,467.6 L1256.1,468.4 L1256.4,468.9 L1256.6,469.8 L1256.9,469.9 L1257.2,471.3 L1257.4,471.6 L1257.7,472.7 L1257.9,473.9 L1258.2,474.4 L1258.4,475.3 L1258.7,475.7 L1259.0,476.5 L1259.2,477.7 L1259.5,477.8 L1259.7,478.0 L1260.0,478.9 L1260.2,479.6 L1260.5,479.4 L1260.7,479.9 L1261.0,480.8 L1261.3,480.5 L1261.5,481.5 L1261.8,480.6 L1262.0,480.7 L1262.3,480.0 L1262.5,479.7 L1262.8,478.4 L1263.0,478.0 L1263.3,476.0 L1263.6,474.4 L1263.8,472.9 L1264.1,470.6 L1264.3,468.7 L1264.6,467.3 L1264.8,464.2 L1265.1,462.2 L1265.3,459.6 L1265.6,457.1 L1265.9,454.4 L1266.1,451.8 L1266.4,449.7 L1266.6,446.7 L1266.9,444.3 L1267.1,442.3 L1267.4,440.2 L1267.6,439.0 L1267.9,436.9 L1268.2,436.0 L1268.4,435.0 L1268.7,433.7 L1268.9,433.5 L1269.2,433.0 L1269.4,432.6 L1269.7,432.9 L1269.9,432.6 L1270.2,433.7 L1270.4,433.9 L1270.7,435.7 L1270.9,436.2 L1271.2,437.3 L1271.4,438.3 L1271.7,439.6 L1271.9,441.3 L1272.2,443.2 L1272.4,444.8 L1272.7,447.6 L1272.9,448.9 L1273.2,451.0 L1273.4,453.1 L1273.7,455.2 L1273.9,457.1 L1274.2,459.8 L1274.4,462.0 L1274.7,463.7 L1275.0,465.3 L1275.2,467.9 L1275.5,468.8 L1275.7,471.3 L1276.0,472.6 L1276.2,473.8 L1276.5,476.0 L1276.7,476.1 L1277.0,477.4 L1277.2,478.6 L1277.5,478.6 L1277.7,479.9 L1278.0,479.3 L1278.2,479.6 L1278.5,480.3 L1278.7,479.0 L1279.0,479.5 L1279.2,478.0 L1279.5,477.4 L1279.7,476.2 L1280.0,475.4 L1280.2,474.0 L1280.5,471.9 L1280.7,470.4 L1281.0,468.9 L1281.2,467.5 L1281.5,465.0 L1281.7,463.1 L1282.0,461.1 L1282.2,458.8 L1282.5,456.8 L1282.7,454.0 L1283.0,452.3 L1283.2,449.3 L1283.5,447.3 L1283.7,445.1 L1284.0,444.0 L1284.2,441.3 L1284.5,439.9 L1284.7,438.0 L1285.0,436.4 L1285.2,434.9 L1285.5,434.0 L1285.7,433.1 L1286.0,432.2 L1286.2,431.7 L1286.5,431.5 L1286.7,430.8 L1287.0,430.7 L1287.2,430.4 L1287.5,431.0 L1287.7,431.5 L1288.0,432.8 L1288.2,433.2 L1288.5,434.9 L1288.7,436.0 L1289.0,438.5 L1289.2,439.5 L1289.5,442.0 L1289.8,443.8 L1290.0,446.4 L1290.3,448.1 L1290.5,451.5 L1290.8,453.4 L1291.0,456.1 L1291.3,458.9 L1291.5,461.8 L1291.8,463.9 L1292.0,466.3 L1292.3,468.1 L1292.5,470.5 L1292.8,472.7 L1293.0,475.5 L1293.3,476.3 L1293.5,479.0 L1293.8,479.9 L1294.0,481.7 L1294.3,482.4 L1294.6,483.7 L1294.8,483.7 L1295.1,483.8 L1295.3,484.2 L1295.6,484.3 L1295.8,483.4 L1296.1,483.3 L1296.3,482.7 L1296.6,480.5 L1296.8,480.3 L1297.1,477.9 L1297.3,476.4 L1297.6,474.8 L1297.8,472.3 L1298.1,470.4 L1298.4,467.7 L1298.6,465.4 L1298.9,462.6 L1299.1,459.6 L1299.4,456.6 L1299.6,454.4 L1299.9,452.0 L1300.1,448.4 L1300.4,446.8 L1300.6,443.9 L1300.9,441.4 L1301.1,439.1 L1301.4,437.9 L1301.6,435.7 L1301.9,433.6 L1302.2,432.4 L1302.4,431.1 L1302.7,430.4 L1302.9,429.6 L1303.2,429.6 L1303.4,429.0 L1303.7,429.1 L1303.9,430.3 L1304.2,431.4 L1304.4,432.2 L1304.7,432.7 L1305.0,435.3 L1305.2,437.0 L1305.5,439.1 L1305.7,440.7 L1306.0,443.3 L1306.2,445.9 L1306.5,449.1 L1306.7,451.8 L1307.0,453.9 L1307.3,456.4 L1307.5,459.9 L1307.8,462.9 L1308.0,464.9 L1308.3,468.5 L1308.5,470.1 L1308.8,473.3 L1309.0,475.6 L1309.3,477.9 L1309.6,478.8 L1309.8,480.7 L1310.1,481.5 L1310.3,483.2 L1310.6,484.3 L1310.8,484.7 L1311.1,483.8 L1311.3,483.8 L1311.6,484.5 L1311.8,483.8 L1312.1,482.8 L1312.3,481.8 L1312.6,480.2 L1312.8,479.0 L1313.1,477.8 L1313.4,475.5 L1313.6,473.5 L1313.9,471.3 L1314.1,469.3 L1314.4,467.1 L1314.6,464.3 L1314.9,461.7 L1315.1,459.3 L1315.4,456.7 L1315.6,454.1 L1315.9,451.9 L1316.1,449.8 L1316.4,446.9 L1316.6,444.8 L1316.9,442.3 L1317.1,440.2 L1317.4,438.6 L1317.6,435.7 L1317.9,434.6 L1318.1,432.5 L1318.4,431.1 L1318.6,430.3 L1318.9,429.7 L1319.1,427.8 L1319.4,427.5 L1319.6,427.9 L1319.9,427.0 L1320.1,427.4 L1320.4,427.6 L1320.6,428.2 L1320.9,429.8 L1321.1,431.3 L1321.4,432.5 L1321.6,434.3 L1321.9,435.7 L1322.1,438.5 L1322.4,440.3 L1322.6,442.6 L1322.9,445.7 L1323.1,448.0 L1323.4,451.6 L1323.7,454.0 L1323.9,457.5 L1324.2,460.2 L1324.4,463.6 L1324.7,465.5 L1324.9,468.5 L1325.2,471.7 L1325.4,473.9 L1325.7,476.8 L1325.9,478.7 L1326.2,481.4 L1326.4,483.5 L1326.7,485.4 L1326.9,486.6 L1327.2,487.2 L1327.4,488.3 L1327.7,489.7 L1327.9,489.9 L1328.2,489.4 L1328.5,489.8 L1328.7,488.9 L1329.0,488.6 L1329.2,486.6 L1329.5,486.0 L1329.7,483.5 L1330.0,482.3 L1330.2,479.9 L1330.5,476.5 L1330.8,474.4 L1331.0,471.0 L1331.3,468.5 L1331.5,464.7 L1331.8,461.7 L1332.0,458.8 L1332.3,454.4 L1332.5,451.7 L1332.8,449.0 L1333.1,446.0 L1333.3,443.0 L1333.6,439.8 L1333.8,437.4 L1334.1,435.2 L1334.3,432.7 L1334.6,430.3 L1334.8,429.7 L1335.1,428.6 L1335.4,427.3 L1335.6,427.0 L1335.9,426.1 L1336.1,427.4 L1336.4,427.3 L1336.6,427.7 L1336.9,429.0 L1337.1,430.4 L1337.4,432.2 L1337.7,434.3 L1337.9,436.8 L1338.2,439.4 L1338.4,441.1 L1338.7,444.5 L1338.9,447.7 L1339.2,450.2 L1339.5,453.3 L1339.7,456.1 L1340.0,459.7 L1340.2,462.4 L1340.5,466.0 L1340.7,468.2 L1341.0,472.1 L1341.2,474.4 L1341.5,476.2 L1341.8,478.9 L1342.0,480.5 L1342.3,482.5 L1342.5,484.3 L1342.8,485.5 L1343.0,486.0 L1343.3,486.6 L1343.5,486.6 L1343.8,485.8 L1344.1,486.5 L1344.3,484.8 L1344.6,484.6 L1344.8,483.0 L1345.1,481.9 L1345.3,479.4 L1345.6,478.1 L1345.8,476.1 L1346.1,473.0 L1346.3,470.4 L1346.6,468.5 L1346.8,465.2 L1347.1,462.3 L1347.3,459.6 L1347.6,456.9 L1347.9,453.1 L1348.1,451.3 L1348.4,447.9 L1348.6,444.5 L1348.9,442.6 L1349.1,439.9 L1349.4,437.5 L1349.6,435.5 L1349.9,433.0 L1350.1,431.9 L1350.4,430.0 L1350.6,429.2 L1350.9,427.7 L1351.1,427.0 L1351.4,427.4 L1351.7,427.1 L1351.9,427.0 L1352.2,427.3 L1352.4,428.0 L1352.7,429.9 L1352.9,431.4 L1353.2,433.9 L1353.5,435.3 L1353.7,438.7 L1354.0,440.9 L1354.2,444.6 L1354.5,447.7 L1354.8,451.1 L1355.0,454.2 L1355.3,458.0 L1355.5,461.3 L1355.8,465.0 L1356.0,469.0 L1356.3,471.7 L1356.6,475.5 L1356.8,477.8 L1357.1,481.2 L1357.3,482.5 L1357.6,485.0 L1357.9,486.2 L1358.1,488.3 L1358.4,488.6 L1358.6,489.5 L1358.9,490.3 L1359.1,489.4 L1359.4,489.1 L1359.7,488.0 L1359.9,487.7 L1360.2,486.1 L1360.4,484.3 L1360.7,482.8 L1360.9,480.7 L1361.2,478.6 L1361.4,476.2 L1361.7,473.2 L1361.9,470.4 L1362.2,466.8 L1362.4,463.6 L1362.7,460.7 L1362.9,458.1 L1363.2,455.3 L1363.5,452.0 L1363.7,448.6 L1364.0,445.6 L1364.2,443.5 L1364.5,439.8 L1364.7,438.4 L1365.0,435.9 L1365.2,433.1 L1365.5,432.0 L1365.7,430.1 L1366.0,428.6 L1366.2,427.2 L1366.5,427.4 L1366.8,426.3 L1367.0,426.6 L1367.3,425.9 L1367.5,427.1 L1367.8,427.5 L1368.0,428.9 L1368.3,431.3 L1368.6,433.2 L1368.8,435.4 L1369.1,437.4 L1369.3,441.2 L1369.6,444.2 L1369.8,446.6 L1370.1,450.4 L1370.4,454.1 L1370.6,457.3 L1370.9,460.9 L1371.1,464.0 L1371.4,468.1 L1371.7,470.8 L1371.9,474.6 L1372.2,476.9 L1372.4,480.1 L1372.7,481.4 L1372.9,483.6 L1373.2,485.9 L1373.5,486.6 L1373.7,487.5 L1374.0,488.4 L1374.2,489.1 L1374.5,488.8 L1374.7,488.4 L1375.0,487.3 L1375.3,486.3 L1375.5,484.7 L1375.8,483.2 L1376.0,481.1 L1376.3,479.4 L1376.5,477.4 L1376.8,474.6 L1377.0,472.1 L1377.3,468.5 L1377.5,465.8 L1377.8,462.5 L1378.0,460.0 L1378.3,456.1 L1378.5,453.2 L1378.8,449.7 L1379.1,446.4 L1379.3,444.5 L1379.6,440.9 L1379.8,438.1 L1380.1,436.3 L1380.3,433.0 L1380.6,431.0 L1380.8,429.0 L1381.1,428.0 L1381.3,426.2 L1381.6,425.1 L1381.8,425.3 L1382.1,424.6 L1382.4,424.0 L1382.6,424.4 L1382.9,424.4 L1383.1,426.1 L1383.4,427.5 L1383.6,428.9 L1383.9,431.3 L1384.2,433.3 L1384.4,435.7 L1384.7,438.9 L1384.9,442.0 L1385.2,445.9 L1385.5,449.0 L1385.7,453.1 L1386.0,456.5 L1386.2,460.1 L1386.5,463.2 L1386.7,467.1 L1387.0,470.3 L1387.3,473.7 L1387.5,477.1 L1387.8,479.5 L1388.0,482.1 L1388.3,483.9 L1388.6,485.3 L1388.8,486.4 L1389.1,488.0 L1389.3,488.0 L1389.6,488.1 L1389.8,488.0 L1390.1,488.5 L1390.3,487.1 L1390.6,485.3 L1390.8,483.4 L1391.1,480.9 L1391.3,478.8 L1391.6,476.0 L1391.8,472.3 L1392.1,469.0 L1392.3,465.7 L1392.6,462.2 L1392.8,459.0 L1393.1,455.3 L1393.3,450.4 L1393.6,447.6 L1393.8,443.2 L1394.1,440.0 L1394.3,437.0 L1394.6,433.5 L1394.8,431.0 L1395.1,428.5 L1395.3,425.7 L1395.6,423.8 L1395.9,423.2 L1396.1,421.8 L1396.4,420.6 L1396.6,420.2 L1396.9,420.9 L1397.1,421.9 L1397.4,423.2 L1397.6,424.0 L1397.9,426.9 L1398.1,428.5 L1398.4,431.7 L1398.6,435.3 L1398.9,438.0 L1399.1,441.4 L1399.4,445.5 L1399.6,448.7 L1399.9,452.6 L1400.1,457.3 L1400.4,460.6 L1400.7,464.6 L1400.9,467.9 L1401.2,471.7 L1401.4,474.0 L1401.7,476.8 L1401.9,479.4 L1402.2,481.8 L1402.4,483.5 L1402.7,484.7 L1402.9,484.8 L1403.2,485.2 L1403.4,485.7 L1403.7,485.3 L1403.9,484.2 L1404.2,483.6 L1404.4,482.1 L1404.7,480.0 L1404.9,479.0 L1405.2,476.1 L1405.5,474.0 L1405.7,472.3 L1406.0,469.9 L1406.2,467.0 L1406.5,464.2 L1406.7,460.7 L1407.0,457.9 L1407.2,455.3 L1407.5,451.8 L1407.7,448.4 L1408.0,445.6 L1408.2,442.5 L1408.5,439.9 L1408.7,437.1 L1409.0,434.7 L1409.2,432.0 L1409.5,430.8 L1409.7,427.8 L1410.0,426.3 L1410.2,425.4 L1410.5,423.8 L1410.8,422.7 L1411.0,422.3 L1411.3,422.1 L1411.5,421.2 L1411.8,421.7 L1412.0,422.2 L1412.3,422.9 L1412.5,424.8 L1412.8,426.3 L1413.0,429.0 L1413.3,431.9 L1413.5,434.8 L1413.8,437.2 L1414.0,441.0 L1414.3,444.4 L1414.5,448.5 L1414.8,452.7 L1415.0,456.3 L1415.3,459.7 L1415.5,463.3 L1415.8,467.2 L1416.0,471.1 L1416.3,474.2 L1416.5,477.3 L1416.8,480.5 L1417.0,482.9 L1417.3,485.9 L1417.5,488.0 L1417.8,489.1 L1418.0,489.7 L1418.3,490.3 L1418.5,491.5 L1418.8,491.1 L1419.0,490.0 L1419.3,489.1 L1419.5,487.9 L1419.8,485.6 L1420.0,483.2 L1420.3,480.4 L1420.5,477.1 L1420.8,473.9 L1421.0,470.3 L1421.3,466.9 L1421.5,463.0 L1421.8,458.2 L1422.0,455.1 L1422.3,450.9 L1422.5,446.7 L1422.8,443.3 L1423.0,439.0 L1423.3,435.2 L1423.5,431.8 L1423.8,428.9 L1424.0,426.6 L1424.3,424.1 L1424.5,422.0 L1424.8,420.7 L1425.0,419.8 L1425.3,419.3 L1425.5,419.1 L1425.8,418.5 L1426.0,420.1 L1426.3,420.7 L1426.6,422.7 L1426.8,424.5 L1427.1,428.0 L1427.3,431.1 L1427.6,434.7 L1427.8,438.7 L1428.1,441.8 L1428.3,446.0 L1428.6,451.0 L1428.8,455.3 L1429.1,459.4 L1429.3,463.9 L1429.6,468.2 L1429.8,472.6 L1430.1,476.1 L1430.4,479.4 L1430.6,482.4 L1430.9,485.0 L1431.1,487.9 L1431.4,489.3 L1431.6,490.8 L1431.9,491.4 L1432.1,492.2 L1432.4,492.3 L1432.6,491.3 L1432.9,490.2 L1433.2,488.6 L1433.4,487.1 L1433.7,485.6 L1433.9,483.4 L1434.2,480.9 L1434.5,478.6 L1434.7,475.5 L1435.0,473.2 L1435.2,470.6 L1435.5,467.1 L1435.7,465.1 L1436.0,462.4 L1436.3,460.8 L1436.5,457.8 L1436.8,456.5 L1437.0,455.5 L1437.3,454.9 L1437.6,453.5 L1437.8,453.2 L1438.1,454.2 L1438.3,454.2 L1438.6,454.6 L1438.9,456.3 L1439.1,458.1 L1439.4,459.8 L1439.6,461.8 L1439.9,464.2 L1440.1,466.2 L1440.4,468.7 L1440.7,471.6 L1440.9,473.9 L1441.2,475.7 L1441.4,478.0 L1441.7,481.1 L1441.9,483.1 L1442.2,485.0 L1442.5,487.1 L1442.7,487.8 L1443.0,489.3 L1443.2,489.8 L1443.5,490.9 L1443.7,491.0 L1444.0,490.4 L1444.2,490.8 L1444.5,489.6 L1444.8,488.6 L1445.0,487.9 L1445.3,487.3 L1445.5,486.0 L1445.8,484.0 L1446.0,482.6 L1446.3,480.1 L1446.5,478.1 L1446.8,475.9 L1447.0,474.2 L1447.3,471.6 L1447.5,469.3 L1447.8,466.5 L1448.0,463.5 L1448.3,461.2 L1448.5,458.6 L1448.8,455.2 L1449.1,452.8 L1449.3,450.1 L1449.6,447.8 L1449.8,445.4 L1450.1,442.1 L1450.3,439.4 L1450.6,437.1 L1450.8,435.0 L1451.1,433.9 L1451.3,431.1 L1451.6,429.5 L1451.8,428.1 L1452.1,426.8 L1452.3,426.0 L1452.6,424.9 L1452.8,423.5 L1453.1,423.2 L1453.4,423.2 L1453.6,422.8 L1453.9,424.1 L1454.2,426.0 L1454.4,429.1 L1454.7,432.9 L1455.0,436.8 L1455.3,440.8 L1455.5,442.9 L1455.8,443.8 L1456.1,444.3 L1456.3,446.7 L1456.6,448.7 L1456.8,452.6 L1457.1,457.2 L1457.3,461.6 L1457.6,467.0 L1457.8,471.0 L1458.1,475.5 L1458.3,479.3 L1458.6,482.0 L1458.8,483.7 L1459.1,483.9 L1459.4,484.2 L1459.6,482.6 L1459.9,481.1 L1460.2,478.0 L1460.5,475.6 L1460.7,474.4 L1461.0,472.2 L1461.3,472.1 L1461.5,472.7 L1461.8,472.8 L1462.0,473.7 L1462.3,474.8 L1462.5,476.8 L1462.8,478.2 L1463.1,480.2 L1463.3,480.6 L1463.6,482.2 L1463.8,484.1 L1464.1,484.4 L1464.3,485.8 L1464.6,484.9 L1464.8,485.0 L1465.1,483.8 L1465.3,483.1 L1465.6,480.8 L1465.8,478.3 L1466.1,475.9 L1466.4,473.3 L1466.6,469.1 L1466.9,466.0 L1467.1,461.5 L1467.4,457.8 L1467.6,452.6 L1467.9,448.9 L1468.2,445.1 L1468.4,440.9 L1468.7,437.4 L1468.9,433.1 L1469.2,429.9 L1469.4,427.6 L1469.7,425.5 L1469.9,423.2 L1470.2,421.6 L1470.5,421.0 L1470.7,421.0 L1471.0,421.4 L1471.2,422.2 L1471.5,423.1 L1471.7,425.6 L1472.0,428.0 L1472.2,430.7 L1472.5,434.0 L1472.7,438.2 L1473.0,442.2 L1473.3,447.1 L1473.5,451.2 L1473.8,455.2 L1474.0,460.7 L1474.3,464.8 L1474.5,469.8 L1474.8,473.9 L1475.0,478.3 L1475.3,481.9 L1475.5,484.8 L1475.8,488.5 L1476.1,491.2 L1476.3,492.3 L1476.6,494.2 L1476.8,495.1 L1477.1,495.5 L1477.3,494.7 L1477.6,494.4 L1477.8,492.8 L1478.1,491.6 L1478.3,489.3 L1478.6,485.9 L1478.8,483.9 L1479.1,480.1 L1479.3,476.5 L1479.6,472.0 L1479.8,468.3 L1480.1,463.9 L1480.3,459.3 L1480.6,454.7 L1480.8,450.8 L1481.1,446.1 L1481.3,442.8 L1481.6,438.5 L1481.9,435.3 L1482.1,431.6 L1482.4,428.4 L1482.6,426.0 L1482.9,423.1 L1483.1,421.8 L1483.4,421.1 L1483.6,420.0 L1483.9,419.6 L1484.1,420.5 L1484.4,421.0 L1484.6,422.1 L1484.9,424.6 L1485.1,426.4 L1485.4,429.6 L1485.6,433.2 L1485.9,436.9 L1486.2,439.9 L1486.4,444.5 L1486.7,448.6 L1486.9,453.5 L1487.2,458.2 L1487.4,462.3 L1487.7,467.1 L1487.9,471.6 L1488.2,475.3 L1488.4,478.5 L1488.7,481.9 L1489.0,485.1 L1489.2,487.1 L1489.5,489.5 L1489.7,490.8 L1490.0,492.0 L1490.2,491.5 L1490.5,491.6 L1490.7,490.9 L1491.0,490.2 L1491.2,487.6 L1491.5,485.4 L1491.7,483.3 L1492.0,480.7 L1492.2,476.8 L1492.5,473.5 L1492.7,469.3 L1493.0,465.1 L1493.2,461.1 L1493.5,456.8 L1493.7,452.5 L1494.0,448.0 L1494.3,444.0 L1494.5,439.7 L1494.8,436.6 L1495.0,432.9 L1495.3,429.0 L1495.5,426.5 L1495.8,423.3 L1496.0,421.3 L1496.3,420.2 L1496.5,418.8 L1496.8,418.3 L1497.0,417.6 L1497.3,417.2 L1497.5,418.7 L1497.8,419.6 L1498.0,421.5 L1498.3,423.6 L1498.5,427.4 L1498.8,430.1 L1499.0,433.9 L1499.3,437.5 L1499.5,441.9 L1499.8,445.7 L1500.1,449.7 L1500.3,454.2 L1500.6,459.1 L1500.8,464.1 L1501.1,468.4 L1501.3,471.9 L1501.6,475.4 L1501.8,478.9 L1502.1,482.9 L1502.3,485.8 L1502.6,487.9 L1502.8,489.3 L1503.1,491.4 L1503.3,492.0 L1503.6,492.5 L1503.8,492.4 L1504.1,491.8 L1504.4,491.0 L1504.6,491.1 L1504.9,489.8 L1505.1,489.0 L1505.4,488.0 L1505.6,486.9 L1505.9,486.6 L1506.1,485.3 L1506.4,483.0 L1506.6,482.1 L1506.9,480.1 L1507.1,478.4 L1507.4,476.4 L1507.6,474.7 L1507.9,472.4 L1508.2,470.7 L1508.4,469.1 L1508.7,466.7 L1508.9,464.1 L1509.2,462.0 L1509.4,459.6 L1509.7,457.3 L1509.9,455.4 L1510.2,452.5 L1510.4,450.2 L1510.7,448.1 L1510.9,445.0 L1511.2,442.8 L1511.4,441.0 L1511.7,438.4 L1511.9,436.8 L1512.2,434.0 L1512.5,432.5 L1512.7,430.0 L1513.0,428.0 L1513.2,426.6 L1513.5,424.6 L1513.7,423.5 L1514.0,421.1 L1514.2,420.4 L1514.5,418.6 L1514.7,417.0 L1515.0,417.0 L1515.2,415.2 L1515.5,415.0 L1515.7,414.5 L1516.0,413.6 L1516.2,413.6 L1516.5,413.1 L1516.8,413.6 L1517.0,413.5 L1517.3,413.8 L1517.5,413.6 L1517.8,415.3 L1518.0,416.2 L1518.3,417.7 L1518.5,418.5 L1518.8,420.1 L1519.0,422.3 L1519.3,424.3 L1519.5,426.9 L1519.8,428.3 L1520.0,431.4 L1520.3,434.0 L1520.5,436.7 L1520.8,439.1 L1521.0,442.1 L1521.3,445.7 L1521.5,448.5 L1521.8,451.2 L1522.0,455.0 L1522.3,457.5 L1522.5,460.4 L1522.8,463.2 L1523.0,467.0 L1523.3,469.6 L1523.5,471.9 L1523.8,474.6 L1524.0,477.4 L1524.3,480.1 L1524.5,482.1 L1524.8,483.5 L1525.0,486.3 L1525.3,487.3 L1525.5,489.1 L1525.8,490.1 L1526.1,490.9 L1526.3,492.2 L1526.6,492.3 L1526.8,493.1 L1527.1,493.4 L1527.3,492.4 L1527.6,492.1 L1527.8,490.5 L1528.1,489.0 L1528.3,486.2 L1528.6,483.0 L1528.8,479.8 L1529.1,476.1 L1529.3,473.0 L1529.6,468.5 L1529.8,464.1 L1530.1,459.0 L1530.3,454.4 L1530.6,450.1 L1530.9,445.0 L1531.1,440.7 L1531.4,436.6 L1531.6,433.4 L1531.9,428.8 L1532.1,425.6 L1532.4,422.6 L1532.6,420.9 L1532.9,419.2 L1533.1,417.3 L1533.4,416.5 L1533.6,416.9 L1533.9,416.1 L1534.1,417.0 L1534.4,419.2 L1534.6,421.4 L1534.9,423.3 L1535.2,426.4 L1535.4,430.3 L1535.7,433.8 L1535.9,437.5 L1536.2,442.6 L1536.4,447.4 L1536.7,452.4 L1536.9,457.2 L1537.2,461.8 L1537.4,466.1 L1537.7,470.9 L1537.9,475.4 L1538.2,479.9 L1538.4,484.2 L1538.7,487.3 L1538.9,489.9 L1539.2,493.3 L1539.5,495.0 L1539.7,496.5 L1540.0,497.0 L1540.2,497.2 L1540.5,496.5 L1540.7,495.9 L1541.0,493.6 L1541.2,490.0 L1541.5,486.5 L1541.7,481.8 L1542.0,476.3 L1542.2,470.9 L1542.5,465.2 L1542.8,459.1 L1543.0,452.7 L1543.3,447.3 L1543.5,440.9 L1543.8,435.6 L1544.0,429.7 L1544.3,425.9 L1544.5,421.4 L1544.8,418.4 L1545.0,416.9 L1545.3,415.3 L1545.5,414.0 L1545.8,415.4 L1546.1,415.7 L1546.3,417.3 L1546.6,419.7 L1546.8,422.2 L1547.1,425.0 L1547.3,428.6 L1547.6,433.4 L1547.8,437.9 L1548.1,442.1 L1548.4,447.2 L1548.6,452.5 L1548.9,457.0 L1549.1,462.5 L1549.4,467.0 L1549.6,472.9 L1549.9,477.2 L1550.1,481.0 L1550.4,485.9 L1550.7,489.6 L1550.9,492.6 L1551.2,495.6 L1551.4,497.4 L1551.7,498.3 L1551.9,499.8 L1552.2,500.3 L1552.4,498.9 L1552.7,498.0 L1553.0,496.3 L1553.2,492.5 L1553.5,489.6 L1553.7,485.1 L1554.0,480.2 L1554.2,474.9 L1554.5,468.3 L1554.7,463.1 L1555.0,456.1 L1555.2,450.5 L1555.5,444.2 L1555.7,439.1 L1556.0,433.2 L1556.2,428.6 L1556.5,424.4 L1556.7,420.7 L1557.0,417.5 L1557.2,415.6 L1557.5,413.9 L1557.7,413.4 L1558.0,414.0 L1558.2,415.1 L1558.5,417.6 L1558.7,421.1 L1559.0,424.0 L1559.3,428.5 L1559.5,434.1 L1559.8,439.4 L1560.0,446.1 L1560.3,451.9 L1560.5,457.9 L1560.8,464.9 L1561.0,471.6 L1561.3,477.1 L1561.5,482.4 L1561.8,487.5 L1562.0,492.0 L1562.3,495.9 L1562.5,499.6 L1562.8,501.0 L1563.0,503.3 L1563.3,503.6 L1563.5,503.2 L1563.8,501.1 L1564.1,499.8 L1564.3,496.8 L1564.6,493.0 L1564.8,488.7 L1565.1,484.1 L1565.4,479.6 L1565.6,472.9 L1565.9,467.9 L1566.1,461.6 L1566.4,455.8 L1566.7,449.4 L1566.9,443.4 L1567.2,437.3 L1567.4,432.1 L1567.7,428.0 L1568.0,423.0 L1568.2,420.5 L1568.5,416.8 L1568.7,415.5 L1569.0,414.4 L1569.3,413.8 L1569.5,413.3 L1569.8,414.4 L1570.0,417.1 L1570.3,419.8 L1570.6,422.2 L1570.8,426.1 L1571.1,430.9 L1571.3,435.3 L1571.6,440.8 L1571.9,446.7 L1572.1,452.2 L1572.4,458.2 L1572.6,464.2 L1572.9,469.5 L1573.1,474.7 L1573.4,479.6 L1573.7,484.9 L1573.9,489.3 L1574.2,493.3 L1574.4,496.8 L1574.7,498.7 L1575.0,500.8 L1575.2,501.8 L1575.5,502.1 L1575.7,501.5 L1576.0,501.7 L1576.2,499.9 L1576.5,498.8 L1576.7,496.8 L1577.0,493.7 L1577.2,490.4 L1577.5,487.1 L1577.7,484.0 L1578.0,480.0 L1578.2,476.1 L1578.5,472.2 L1578.7,467.6 L1579.0,462.7 L1579.2,457.5 L1579.5,452.8 L1579.7,448.1 L1580.0,444.3 L1580.2,439.3 L1580.5,434.5 L1580.7,431.0 L1581.0,427.3 L1581.2,422.9 L1581.5,420.0 L1581.7,417.7 L1582.0,415.4 L1582.2,412.4 L1582.5,411.3 L1582.7,409.8 L1583.0,409.2 L1583.2,409.0 L1583.5,409.7 L1583.7,410.1 L1584.0,411.0 L1584.2,412.6 L1584.5,415.4 L1584.7,417.7 L1585.0,420.8 L1585.2,423.8 L1585.5,427.3 L1585.7,430.7 L1586.0,434.9 L1586.2,439.8 L1586.5,443.6 L1586.7,449.0 L1587.0,453.0 L1587.2,458.4 L1587.5,462.3 L1587.7,466.9 L1588.0,471.9 L1588.2,476.2 L1588.5,479.9 L1588.7,483.9 L1589.0,487.3 L1589.2,491.3 L1589.5,493.5 L1589.7,496.0 L1590.0,498.1 L1590.2,499.7 L1590.5,501.2 L1590.7,502.2 L1591.0,502.0 L1591.2,502.0 L1591.5,500.5 L1591.8,497.9 L1592.0,494.7 L1592.3,490.9 L1592.5,486.7 L1592.8,481.0 L1593.0,475.6 L1593.3,469.4 L1593.5,462.7 L1593.8,456.0 L1594.0,449.2 L1594.3,443.4 L1594.5,436.9 L1594.8,431.0 L1595.0,426.3 L1595.3,421.8 L1595.5,417.3 L1595.8,414.7 L1596.0,412.5 L1596.3,410.7 L1596.5,410.4 L1596.8,410.2 L1597.0,411.5 L1597.3,413.9 L1597.5,417.0 L1597.8,421.4 L1598.1,426.4 L1598.3,432.0 L1598.6,436.9 L1598.8,443.1 L1599.1,450.2 L1599.3,456.8 L1599.6,463.5 L1599.8,470.2 L1600.1,476.3 L1600.3,481.8 L1600.6,487.3 L1600.8,491.7 L1601.1,495.4 L1601.3,498.7 L1601.6,500.9 L1601.8,502.8 L1602.1,503.7 L1602.3,502.7 L1602.6,501.0 L1602.8,499.3 L1603.1,495.8 L1603.3,491.6 L1603.6,487.5 L1603.8,482.1 L1604.1,475.9 L1604.4,469.0 L1604.6,462.4 L1604.9,456.3 L1605.1,450.0 L1605.4,443.1 L1605.6,436.2 L1605.9,430.8 L1606.1,425.0 L1606.4,420.4 L1606.6,417.1 L1606.9,413.3 L1607.1,411.0 L1607.4,409.2 L1607.6,408.6 L1607.9,409.4 L1608.1,411.1 L1608.4,413.7 L1608.6,416.0 L1608.9,420.3 L1609.1,425.8 L1609.4,430.8 L1609.6,436.0 L1609.9,442.6 L1610.1,449.4 L1610.4,455.7 L1610.7,462.5 L1610.9,470.0 L1611.2,475.7 L1611.4,481.6 L1611.7,487.2 L1611.9,492.2 L1612.2,496.4 L1612.4,499.4 L1612.7,501.3 L1612.9,502.5 L1613.2,503.0 L1613.4,502.3 L1613.7,501.2 L1613.9,497.9 L1614.2,493.5 L1614.5,487.8 L1614.7,481.4 L1615.0,475.2 L1615.2,467.8 L1615.5,459.4 L1615.7,452.1 L1616.0,443.5 L1616.3,436.6 L1616.5,429.9 L1616.8,423.5 L1617.0,417.9 L1617.3,413.4 L1617.5,410.5 L1617.8,408.2 L1618.0,408.0 L1618.3,408.6 L1618.6,409.5 L1618.8,411.7 L1619.1,414.6 L1619.3,418.9 L1619.6,422.5 L1619.8,428.3 L1620.1,433.2 L1620.3,439.4 L1620.6,446.1 L1620.8,451.8 L1621.1,458.4 L1621.3,464.9 L1621.6,472.1 L1621.8,477.4 L1622.1,482.5 L1622.3,488.1 L1622.6,492.6 L1622.8,495.9 L1623.1,499.4 L1623.3,501.2 L1623.6,502.3 L1623.8,503.5 L1624.1,502.9 L1624.3,500.8 L1624.6,497.0 L1624.8,493.7 L1625.1,488.0 L1625.4,481.5 L1625.6,475.0 L1625.9,467.1 L1626.1,459.9 L1626.4,451.3 L1626.6,443.9 L1626.9,436.3 L1627.2,430.1 L1627.4,423.6 L1627.7,417.8 L1627.9,413.4 L1628.2,410.6 L1628.4,408.6 L1628.7,407.7 L1628.9,408.1 L1629.2,410.2 L1629.4,412.2 L1629.7,415.9 L1630.0,420.4 L1630.2,424.3 L1630.5,430.3 L1630.7,436.4 L1631.0,443.0 L1631.2,449.6 L1631.5,456.4 L1631.7,463.7 L1632.0,470.4 L1632.2,477.5 L1632.5,482.5 L1632.7,488.5 L1633.0,494.1 L1633.2,498.1 L1633.5,501.6 L1633.7,503.5 L1634.0,504.5 L1634.2,505.3 L1634.5,505.7 L1634.7,505.0 L1635.0,503.7 L1635.2,501.3 L1635.5,499.4 L1635.7,496.0 L1636.0,492.6 L1636.2,489.2 L1636.5,485.7 L1636.7,481.1 L1637.0,476.6 L1637.2,472.7 L1637.5,466.8 L1637.7,462.0 L1638.0,456.8 L1638.2,452.2 L1638.5,446.8 L1638.7,441.5 L1639.0,436.6 L1639.2,432.5 L1639.5,427.5 L1639.7,423.8 L1640.0,418.9 L1640.2,415.6 L1640.5,413.0 L1640.7,409.8 L1641.0,407.6 L1641.2,405.5 L1641.5,405.0 L1641.7,403.4 L1642.0,403.0 L1642.3,403.4 L1642.5,404.8 L1642.8,407.1 L1643.0,409.2 L1643.3,412.8 L1643.5,416.2 L1643.8,420.7 L1644.0,425.1 L1644.3,431.1 L1644.6,436.4 L1644.8,441.9 L1645.1,447.3 L1645.3,453.9 L1645.6,460.6 L1645.8,466.0 L1646.1,471.6 L1646.3,477.3 L1646.6,482.0 L1646.9,487.9 L1647.1,491.9 L1647.4,495.5 L1647.6,498.8 L1647.9,500.7 L1648.1,503.4 L1648.4,503.8 L1648.6,504.5 L1648.9,503.8 L1649.2,502.1 L1649.4,499.1 L1649.7,494.7 L1649.9,489.1 L1650.2,483.1 L1650.4,476.3 L1650.7,469.6 L1651.0,462.0 L1651.2,454.2 L1651.5,446.7 L1651.7,438.5 L1652.0,432.1 L1652.2,426.2 L1652.5,420.7 L1652.8,417.0 L1653.0,414.2 L1653.3,412.0 L1653.5,411.1 L1653.8,411.9 L1654.0,413.2 L1654.3,414.4 L1654.5,416.6 L1654.8,419.5 L1655.0,423.7 L1655.3,427.7 L1655.5,432.6 L1655.8,437.9 L1656.0,442.5 L1656.3,449.3 L1656.6,455.5 L1656.8,461.2 L1657.1,468.4 L1657.3,474.0 L1657.6,481.1 L1657.8,486.8 L1658.1,492.8 L1658.3,498.6 L1658.6,505.2 L1658.8,509.5 L1659.1,514.7 L1659.3,518.6 L1659.6,522.7 L1659.8,524.9 L1660.1,528.2 L1660.3,529.4 L1660.6,531.0 L1660.8,530.9 L1661.1,531.3 L1661.4,529.8 L1661.6,529.1 L1661.9,528.8 L1662.1,526.7 L1662.4,525.8 L1662.6,523.4 L1662.9,521.2 L1663.1,519.0 L1663.4,516.6 L1663.6,513.2 L1663.9,510.7 L1664.1,506.4 L1664.4,503.5 L1664.7,499.1 L1664.9,496.0 L1665.2,490.9 L1665.4,487.6 L1665.7,482.4 L1665.9,478.3 L1666.2,473.7 L1666.4,469.6 L1666.7,465.2 L1666.9,460.1 L1667.2,455.2 L1667.4,450.5 L1667.7,446.3 L1668.0,441.2 L1668.2,436.8 L1668.5,433.1 L1668.7,428.9 L1669.0,424.2 L1669.2,420.7 L1669.5,416.4 L1669.7,413.6 L1670.0,409.9 L1670.2,406.9 L1670.5,403.9 L1670.8,400.9 L1671.0,398.4 L1671.3,396.6 L1671.5,395.1 L1671.8,393.0 L1672.0,391.2 L1672.3,390.8 L1672.5,390.0 L1672.8,388.9 L1673.0,389.1 L1673.3,389.7 L1673.5,389.3 L1673.8,390.4 L1674.1,391.8 L1674.3,392.6 L1674.6,394.5 L1674.8,396.4 L1675.1,398.5 L1675.3,401.0 L1675.6,403.3 L1675.8,406.5 L1676.1,409.1 L1676.3,412.9 L1676.6,416.6 L1676.8,420.6 L1677.1,423.7 L1677.4,427.6 L1677.6,432.1 L1677.9,436.2 L1678.1,441.3 L1678.4,445.0 L1678.6,450.1 L1678.9,453.8 L1679.1,458.9 L1679.4,463.3 L1679.6,468.2 L1679.9,472.5 L1680.2,477.1 L1680.4,481.5 L1680.7,485.9 L1680.9,490.1 L1681.2,493.6 L1681.4,497.2 L1681.7,501.9 L1681.9,504.7 L1682.2,508.9 L1682.4,511.5 L1682.7,514.8 L1682.9,517.0 L1683.2,520.0 L1683.5,522.1 L1683.7,523.2 L1684.0,525.1 L1684.2,526.2 L1684.5,527.4 L1684.7,528.2 L1685.0,528.8 L1685.2,528.9 L1685.5,526.5 L1685.7,521.0 L1686.0,511.1 L1686.3,498.6 L1686.5,484.3 L1686.8,468.0 L1687.0,451.1 L1687.3,435.4 L1687.5,420.4 L1687.8,407.1 L1688.0,398.1 L1688.3,392.4 L1688.6,390.4 L1688.8,391.2 L1689.1,393.4 L1689.3,396.2 L1689.6,400.9 L1689.8,407.0 L1690.1,414.5 L1690.3,422.6 L1690.6,431.5 L1690.8,440.7 L1691.1,450.3 L1691.3,460.1 L1691.6,470.0 L1691.8,480.9 L1692.1,489.7 L1692.3,498.4 L1692.6,506.6 L1692.8,513.6 L1693.1,519.7 L1693.3,524.8 L1693.6,528.3 L1693.9,529.8 L1694.1,530.5 L1694.4,529.3 L1694.6,525.1 L1694.9,518.0 L1695.1,508.0 L1695.4,497.2 L1695.6,484.8 L1695.9,470.7 L1696.1,455.9 L1696.4,442.5 L1696.6,429.2 L1696.9,418.4 L1697.1,408.5 L1697.4,401.5 L1697.6,397.0 L1697.9,395.5 L1698.1,396.0 L1698.4,399.3 L1698.6,402.4 L1698.9,407.9 L1699.1,414.7 L1699.4,421.8 L1699.7,431.2 L1699.9,440.5 L1700.2,449.9 L1700.4,459.9 L1700.7,470.2 L1700.9,479.6 L1701.2,489.3 L1701.4,498.0 L1701.7,505.6 L1702.0,512.0 L1702.2,516.8 L1702.5,521.4 L1702.7,524.0 L1703.0,524.1 L1703.2,522.1 L1703.5,517.3 L1703.7,507.9 L1704.0,495.7 L1704.3,481.3 L1704.5,466.7 L1704.8,450.9 L1705.0,434.7 L1705.3,420.4 L1705.5,408.8 L1705.8,400.1 L1706.0,394.5 L1706.3,392.2 L1706.6,394.0 L1706.8,397.0 L1707.1,402.4 L1707.3,409.4 L1707.6,418.6 L1707.9,429.5 L1708.1,441.2 L1708.4,453.6 L1708.6,465.6 L1708.9,477.3 L1709.2,489.0 L1709.4,500.0 L1709.7,508.9 L1709.9,516.3 L1710.2,522.4 L1710.5,525.6 L1710.7,527.1 L1711.0,525.9 L1711.3,521.5 L1711.5,516.5 L1711.8,508.2 L1712.0,499.3 L1712.3,488.6 L1712.6,476.7 L1712.8,463.6 L1713.1,450.4 L1713.3,438.2 L1713.6,426.3 L1713.9,414.9 L1714.1,405.5 L1714.4,398.3 L1714.6,393.1 L1714.9,389.0 L1715.2,388.3 L1715.4,388.6 L1715.7,392.3 L1715.9,397.7 L1716.2,405.5 L1716.5,415.7 L1716.7,426.2 L1717.0,437.7 L1717.3,450.2 L1717.5,462.8 L1717.8,475.8 L1718.0,487.4 L1718.3,498.2 L1718.6,508.0 L1718.8,515.3 L1719.1,521.0 L1719.3,523.7 L1719.6,526.0 L1719.9,525.4 L1720.1,524.3 L1720.4,522.3 L1720.6,520.4 L1720.9,517.2 L1721.1,513.1 L1721.4,508.4 L1721.6,504.3 L1721.9,498.5 L1722.1,492.8 L1722.4,487.2 L1722.6,481.0 L1722.9,473.8 L1723.1,467.2 L1723.4,460.1 L1723.6,453.6 L1723.9,445.7 L1724.1,439.6 L1724.4,432.9 L1724.6,426.1 L1724.9,419.8 L1725.1,414.3 L1725.4,409.7 L1725.6,404.6 L1725.9,400.1 L1726.1,396.8 L1726.4,393.8 L1726.6,390.7 L1726.9,389.3 L1727.1,388.8 L1727.4,387.5 L1727.6,388.2 L1727.9,390.8 L1728.1,394.7 L1728.4,399.3 L1728.6,405.2 L1728.9,411.2 L1729.1,419.1 L1729.4,427.5 L1729.6,436.5 L1729.9,446.7 L1730.1,456.6 L1730.4,466.2 L1730.6,475.1 L1730.9,484.2 L1731.1,492.6 L1731.4,500.6 L1731.6,508.3 L1731.9,513.8 L1732.1,518.7 L1732.4,521.1 L1732.7,523.8 L1732.9,524.8 L1733.2,524.1 L1733.4,522.2 L1733.7,520.5 L1733.9,516.8 L1734.2,511.9 L1734.4,507.0 L1734.7,501.2 L1735.0,494.2 L1735.2,488.0 L1735.5,480.2 L1735.7,472.2 L1736.0,464.4 L1736.2,455.8 L1736.5,447.2 L1736.7,439.7 L1737.0,431.1 L1737.3,423.1 L1737.5,416.8 L1737.8,410.1 L1738.0,404.3 L1738.3,398.7 L1738.5,395.3 L1738.8,391.8 L1739.0,389.4 L1739.3,387.3 L1739.6,387.2 L1739.8,387.3 L1740.1,389.6 L1740.3,393.0 L1740.6,397.7 L1740.8,402.9 L1741.1,409.4 L1741.3,417.3 L1741.6,425.3 L1741.8,434.7 L1742.1,443.4 L1742.3,453.2 L1742.6,463.0 L1742.8,471.5 L1743.1,480.5 L1743.3,489.7 L1743.6,496.5 L1743.8,504.0 L1744.1,508.9 L1744.3,514.3 L1744.6,516.7 L1744.8,519.3 L1745.1,520.5 L1745.4,519.6 L1745.6,517.1 L1745.9,512.2 L1746.1,506.8 L1746.4,500.3 L1746.6,492.0 L1746.9,483.4 L1747.1,473.5 L1747.4,464.2 L1747.6,453.0 L1747.9,442.6 L1748.2,433.2 L1748.4,423.1 L1748.7,414.6 L1748.9,406.6 L1749.2,399.2 L1749.4,393.8 L1749.7,390.4 L1749.9,387.9 L1750.2,387.4 L1750.5,388.1 L1750.7,393.0 L1751.0,399.8 L1751.2,409.1 L1751.5,419.9 L1751.7,432.9 L1752.0,447.0 L1752.2,460.5 L1752.5,474.4 L1752.7,486.9 L1753.0,498.2 L1753.2,507.7 L1753.5,514.4 L1753.7,518.1 L1754.0,519.6 L1754.2,518.2 L1754.5,514.5 L1754.7,507.5 L1755.0,497.7 L1755.2,485.5 L1755.5,473.1 L1755.7,458.8 L1756.0,445.2 L1756.2,431.4 L1756.5,418.2 L1756.7,406.8 L1757.0,397.5 L1757.2,390.8 L1757.5,385.7 L1757.7,384.8 L1758.0,386.5 L1758.3,390.7 L1758.5,398.5 L1758.8,407.6 L1759.1,419.8 L1759.3,433.5 L1759.6,448.4 L1759.9,462.7 L1760.1,477.1 L1760.4,491.2 L1760.7,503.5 L1760.9,512.9 L1761.2,520.8 L1761.5,525.0 L1761.7,527.1 L1762.0,524.8 L1762.2,518.1 L1762.5,508.6 L1762.8,495.5 L1763.0,480.6 L1763.3,463.1 L1763.5,446.3 L1763.8,429.3 L1764.0,414.6 L1764.3,402.0 L1764.5,392.1 L1764.8,385.1 L1765.1,384.0 L1765.3,384.5 L1765.6,386.3 L1765.8,389.7 L1766.1,394.6 L1766.3,400.7 L1766.6,407.6 L1766.8,415.3 L1767.1,423.6 L1767.3,432.1 L1767.6,441.6 L1767.8,451.9 L1768.1,461.7 L1768.3,470.7 L1768.6,479.6 L1768.8,489.1 L1769.1,496.3 L1769.3,503.8 L1769.6,509.6 L1769.8,513.3 L1770.1,517.1 L1770.3,518.7 L1770.6,519.4 L1770.9,516.2 L1771.1,507.3 L1771.4,492.9 L1771.7,473.8 L1771.9,453.9 L1772.2,432.4 L1772.5,414.0 L1772.7,399.8 L1773.0,389.8 L1773.3,386.8 L1773.5,387.9 L1773.8,388.7 L1774.0,391.0 L1774.3,393.7 L1774.5,397.1 L1774.8,402.4 L1775.0,407.1 L1775.3,412.5 L1775.5,419.3 L1775.8,425.7 L1776.0,432.8 L1776.3,440.9 L1776.5,449.1 L1776.8,456.7 L1777.0,464.3 L1777.3,472.2 L1777.5,480.8 L1777.8,487.5 L1778.1,495.6 L1778.3,502.4 L1778.6,508.1 L1778.8,514.2 L1779.1,519.3 L1779.3,524.3 L1779.6,527.6 L1779.8,530.4 L1780.1,532.2 L1780.3,534.0 L1780.6,534.0 L1780.8,533.9 L1781.1,533.5 L1781.3,533.0 L1781.6,532.1 L1781.8,530.9 L1782.1,530.5 L1782.3,529.2 L1782.6,527.5 L1782.9,525.1 L1783.1,522.9 L1783.4,521.4 L1783.6,518.3 L1783.9,516.1 L1784.1,512.9 L1784.4,509.6 L1784.6,507.4 L1784.9,503.7 L1785.1,500.3 L1785.4,496.5 L1785.6,492.5 L1785.9,489.3 L1786.1,485.0 L1786.4,481.0 L1786.6,478.0 L1786.9,473.8 L1787.2,468.9 L1787.4,465.4 L1787.7,460.9 L1787.9,456.9 L1788.2,452.6 L1788.4,448.8 L1788.7,444.4 L1788.9,440.1 L1789.2,436.0 L1789.4,432.3 L1789.7,428.7 L1789.9,424.4 L1790.2,420.7 L1790.4,418.2 L1790.7,414.5 L1790.9,411.5 L1791.2,408.1 L1791.4,404.4 L1791.7,401.7 L1792.0,399.8 L1792.2,397.1 L1792.5,394.2 L1792.7,392.6 L1793.0,391.0 L1793.2,389.5 L1793.5,387.8 L1793.7,386.5 L1794.0,385.2 L1794.2,384.3 L1794.5,384.3 L1794.7,383.8 L1795.0,383.9 L1795.2,384.3 L1795.5,384.4 L1795.8,384.6 L1796.0,386.6 L1796.3,386.8 L1796.5,389.1 L1796.8,391.4 L1797.0,393.7 L1797.3,395.2 L1797.5,398.5 L1797.8,401.1 L1798.0,404.8 L1798.3,407.7 L1798.5,412.1 L1798.8,416.2 L1799.1,419.5 L1799.3,424.0 L1799.6,428.9 L1799.8,433.1 L1800.1,437.2 L1800.3,442.3 L1800.6,446.9 L1800.8,451.7 L1801.1,456.3 L1801.3,460.4 L1801.6,466.1 L1801.8,470.8 L1802.1,475.0 L1802.4,479.3 L1802.6,484.0 L1802.9,488.4 L1803.1,492.6 L1803.4,496.3 L1803.6,500.3 L1803.9,503.8 L1804.1,507.6 L1804.4,510.2 L1804.6,514.2 L1804.9,516.7 L1805.2,518.8 L1805.4,521.3 L1805.7,523.8 L1805.9,525.4 L1806.2,526.4 L1806.4,527.0 L1806.7,527.6 L1806.9,528.8 L1807.2,529.3 L1807.4,524.9 L1807.7,513.3 L1808.0,496.4 L1808.2,474.5 L1808.5,452.1 L1808.7,430.1 L1809.0,412.4 L1809.2,401.1 L1809.5,397.1 L1809.8,412.1 L1810.1,449.1 L1810.4,486.0 L1810.6,501.9 L1810.9,493.8 L1811.2,475.0 L1811.5,448.1 L1811.7,420.8 L1812.0,401.3 L1812.3,394.9 L1812.5,403.4 L1812.8,427.7 L1813.1,460.8 L1813.4,494.0 L1813.7,518.2 L1813.9,527.9 L1814.2,519.9 L1814.5,499.1 L1814.7,470.8 L1815.0,442.4 L1815.3,421.4 L1815.5,414.2 L1815.8,430.3 L1816.1,470.0 L1816.4,510.3 L1816.7,526.1 L1817.0,506.8 L1817.2,457.6 L1817.5,409.3 L1817.8,390.0 L1818.1,408.1 L1818.3,450.7 L1818.6,494.9 L1818.9,512.5 L1819.1,508.5 L1819.4,495.1 L1819.6,476.3 L1819.9,456.2 L1820.1,437.1 L1820.4,425.2 L1820.6,420.4 L1820.9,426.0 L1821.2,443.3 L1821.5,467.5 L1821.8,490.5 L1822.0,508.4 L1822.3,514.2 L1822.6,505.8 L1822.8,482.0 L1823.1,449.6 L1823.4,416.4 L1823.6,392.0 L1823.9,383.7 L1824.2,390.2 L1824.4,408.6 L1824.7,434.8 L1825.0,460.0 L1825.3,479.3 L1825.5,485.8 L1825.8,476.6 L1826.0,452.6 L1826.3,423.0 L1826.6,399.5 L1826.8,389.7 L1827.1,407.9 L1827.4,449.4 L1827.7,492.2 L1828.0,509.9 L1828.2,508.6 L1828.5,507.3 L1828.7,506.2 L1829.0,502.4 L1829.2,498.9 L1829.5,495.1 L1829.7,490.2 L1830.0,484.4 L1830.2,479.0 L1830.5,472.7 L1830.7,465.6 L1831.0,458.6 L1831.2,451.7 L1831.5,445.2 L1831.7,438.0 L1832.0,431.6 L1832.2,425.7 L1832.5,419.9 L1832.7,414.3 L1833.0,409.0 L1833.2,404.3 L1833.5,401.5 L1833.7,398.0 L1834.0,396.4 L1834.2,394.7 L1834.5,395.1 L1834.8,399.9 L1835.0,413.2 L1835.2,433.0 L1835.5,457.8 L1835.8,481.0 L1836.0,501.4 L1836.2,514.7 L1836.5,519.8 L1836.8,512.1 L1837.0,489.7 L1837.2,460.5 L1837.5,431.0 L1837.8,409.5 L1838.0,401.0 L1838.3,419.5 L1838.6,464.1 L1838.9,508.1 L1839.2,526.1 L1839.5,519.5 L1839.8,500.7 L1840.1,475.6 L1840.3,449.9 L1840.6,431.0 L1840.9,423.7 L1841.1,432.8 L1841.4,455.9 L1841.7,483.8 L1842.0,507.6 L1842.2,516.1 L1842.5,504.8 L1842.8,475.7 L1843.1,438.9 L1843.4,409.1 L1843.7,398.4 L1844.0,405.8 L1844.2,428.1 L1844.5,456.7 L1844.7,486.6 L1845.0,508.0 L1845.3,516.8 L1845.5,510.4 L1845.8,493.6 L1846.0,471.0 L1846.3,448.1 L1846.6,431.6 L1846.8,425.4 L1847.1,432.0 L1847.4,449.4 L1847.7,472.0 L1848.0,496.0 L1848.2,512.0 L1848.5,519.1 L1848.8,503.6 L1849.1,467.4 L1849.4,432.2 L1849.7,417.1 L1849.9,433.1 L1850.2,473.1 L1850.5,512.7 L1850.8,528.4 L1851.0,520.5 L1851.3,498.1 L1851.5,467.2 L1851.8,437.5 L1852.0,414.6 L1852.3,406.1 L1852.6,414.2 L1852.9,436.5 L1853.2,464.3 L1853.5,486.8 L1853.8,495.4 L1854.1,487.1 L1854.4,465.9 L1854.7,439.3 L1855.0,417.9 L1855.3,409.5 L1855.5,414.9 L1855.8,431.9 L1856.0,454.8 L1856.3,480.4 L1856.5,504.1 L1856.8,520.3 L1857.1,526.5 L1857.3,507.1 L1857.6,461.5 L1857.8,415.1 L1858.1,395.8 L1858.4,413.6 L1858.6,455.6 L1858.9,497.3 L1859.2,513.6 L1859.4,502.2 L1859.7,473.3 L1859.9,436.0 L1860.2,406.2 L1860.4,395.1 L1860.7,406.4 L1860.9,436.8 L1861.2,474.9 L1861.5,505.9 L1861.7,517.2 L1862.0,510.8 L1862.3,493.7 L1862.5,467.3 L1862.8,439.9 L1863.1,413.6 L1863.3,396.0 L1863.6,389.4 L1863.9,408.1 L1864.2,452.6 L1864.5,496.5 L1864.7,514.8 L1865.0,504.9 L1865.3,477.9 L1865.6,445.7 L1865.8,418.7 L1866.1,408.3 L1866.3,417.1 L1866.6,439.3 L1866.8,468.7 L1867.1,498.7 L1867.3,520.8 L1867.6,529.3 L1867.9,519.9 L1868.2,496.8 L1868.4,465.1 L1868.7,432.9 L1869.0,410.0 L1869.3,401.8 L1869.5,411.7 L1869.8,441.4 L1870.1,476.3 L1870.3,505.1 L1870.6,516.1 L1870.8,511.0 L1871.1,498.0 L1871.4,478.1 L1871.6,455.8 L1871.9,436.6 L1872.2,421.8 L1872.4,417.4 L1872.7,425.0 L1873.0,445.3 L1873.2,474.3 L1873.5,502.1 L1873.7,522.9 L1874.0,530.2 L1874.3,517.5 L1874.6,484.8 L1874.9,443.6 L1875.1,409.2 L1875.4,397.6 L1875.7,405.8 L1875.9,428.2 L1876.2,460.5 L1876.4,492.4 L1876.7,515.8 L1876.9,523.8 L1877.2,517.0 L1877.4,499.4 L1877.7,475.0 L1878.0,447.0 L1878.2,421.7 L1878.5,403.3 L1878.7,397.3 L1879.0,403.8 L1879.3,419.4 L1879.5,442.2 L1879.8,468.6 L1880.1,492.5 L1880.4,508.1 L1880.6,513.6 L1880.9,495.2 L1881.2,451.8 L1881.4,407.9 L1881.7,390.0 L1882.0,397.2 L1882.2,420.3 L1882.5,451.2 L1882.8,482.1 L1883.1,504.9 L1883.4,513.3 L1883.7,503.6 L1883.9,478.0 L1884.2,446.2 L1884.5,420.9 L1884.7,411.8 L1885.0,415.2 L1885.3,425.8 L1885.5,440.3 L1885.8,455.7 L1886.1,470.7 L1886.3,480.3 L1886.6,484.7 L1886.9,477.7 L1887.2,461.4 L1887.4,438.0 L1887.7,414.1 L1888.0,397.1 L1888.3,391.8 L1888.6,409.7 L1888.9,452.8 L1889.2,495.8 L1889.5,514.6 L1889.8,502.3 L1890.1,469.3 L1890.3,428.8 L1890.6,394.9 L1890.9,383.5 L1891.1,390.4 L1891.4,408.8 L1891.7,436.6 L1891.9,467.5 L1892.2,495.9 L1892.4,515.5 L1892.7,522.4 L1893.0,504.5 L1893.3,462.5 L1893.5,419.7 L1893.8,402.9 L1894.1,414.0 L1894.3,444.4 L1894.6,482.1 L1894.9,512.3 L1895.1,524.3 L1895.4,505.0 L1895.7,457.8 L1896.0,410.7 L1896.2,391.4 L1896.5,399.5 L1896.8,421.8 L1897.1,451.3 L1897.4,481.9 L1897.7,503.7 L1897.9,511.8 L1898.2,499.2 L1898.5,467.1 L1898.7,428.3 L1899.0,395.2 L1899.2,383.6 L1899.5,389.3 L1899.7,404.5 L1900.0,426.5 L1900.3,451.1 L1900.5,473.0 L1900.8,487.3 L1901.0,493.1 L1901.3,479.4 L1901.6,446.4 L1901.8,414.2 L1902.1,400.3 L1902.3,417.2 L1902.6,456.6 L1902.9,496.9 L1903.2,512.9 L1903.4,505.2 L1903.7,484.5 L1904.0,456.2 L1904.3,428.3 L1904.6,406.7 L1904.8,399.2 L1905.1,411.0 L1905.4,439.8 L1905.7,477.1 L1906.0,506.0 L1906.3,517.1 L1906.5,511.8 L1906.8,494.5 L1907.0,471.2 L1907.3,444.0 L1907.5,420.5 L1907.8,404.1 L1908.1,398.2 L1908.3,409.2 L1908.6,438.7 L1908.9,475.6 L1909.2,504.8 L1909.5,515.8 L1909.8,505.5 L1910.0,479.0 L1910.3,445.3 L1910.6,418.2 L1910.8,408.9 L1911.1,410.8 L1911.3,416.4 L1911.6,426.6 L1911.9,439.2 L1912.1,453.7 L1912.4,469.9 L1912.7,486.1 L1912.9,500.8 L1913.2,513.4 L1913.5,524.1 L1913.7,530.1 L1914.0,532.4 L1914.2,532.1 L1914.5,529.9 L1914.8,529.0 L1915.0,526.1 L1915.2,521.9 L1915.5,518.3 L1915.8,513.5 L1916.0,508.6 L1916.2,502.4 L1916.5,495.5 L1916.8,488.5 L1917.0,482.6 L1917.2,474.1 L1917.5,467.6 L1917.8,460.1 L1918.0,452.1 L1918.2,445.1 L1918.5,437.0 L1918.8,429.9 L1919.0,423.7 L1919.2,416.8 L1919.5,411.7 L1919.8,406.2 L1920.0,401.0 L1920.2,397.6 L1920.5,393.9 L1920.8,390.9 L1921.0,389.1 L1921.2,387.5 L1921.5,387.3 L1921.8,387.4 L1922.0,389.1 L1922.2,392.1 L1922.5,395.0 L1922.8,400.1 L1923.0,405.8 L1923.2,411.3 L1923.5,418.5 L1923.8,425.4 L1924.0,432.7 L1924.2,441.4 L1924.5,450.1 L1924.8,457.9 L1925.0,466.8 L1925.2,474.6 L1925.5,483.9 L1925.8,490.7 L1926.0,499.0 L1926.2,505.7 L1926.5,511.7 L1926.8,516.4 L1927.0,520.8 L1927.2,524.8 L1927.5,526.8 L1927.8,528.5 L1928.0,529.0 L1928.2,519.5 L1928.5,494.3 L1928.8,458.6 L1929.0,422.8 L1929.2,397.7 L1929.5,388.6 L1929.8,407.7 L1930.1,456.9 L1930.3,505.9 L1930.6,525.7 L1930.9,516.1 L1931.2,492.5 L1931.4,458.6 L1931.7,425.3 L1932.0,400.8 L1932.2,391.7 L1932.5,411.3 L1932.8,455.4 L1933.0,501.1 L1933.3,519.2 L1933.5,510.7 L1933.8,486.4 L1934.1,453.0 L1934.4,420.6 L1934.7,395.8 L1934.9,387.0 L1935.2,400.6 L1935.5,436.4 L1935.8,480.4 L1936.0,515.6 L1936.3,529.5 L1936.6,520.9 L1936.8,496.4 L1937.1,464.9 L1937.4,432.6 L1937.7,409.3 L1938.0,399.5 L1938.2,411.8 L1938.5,443.7 L1938.8,483.0 L1939.1,515.4 L1939.4,527.9 L1939.7,515.0 L1940.0,479.9 L1940.2,437.9 L1940.5,403.1 L1940.8,390.6 L1941.1,402.1 L1941.4,433.1 L1941.6,470.6 L1941.9,501.7 L1942.1,513.3 L1942.4,508.5 L1942.6,495.1 L1942.9,476.5 L1943.1,454.6 L1943.4,436.5 L1943.6,423.1 L1943.9,417.9 L1944.2,424.5 L1944.5,441.9 L1944.7,466.0 L1945.0,490.0 L1945.3,507.4 L1945.6,514.4 L1945.9,505.8 L1946.2,481.4 L1946.4,448.8 L1946.7,415.5 L1947.0,392.5 L1947.3,383.5 L1947.5,392.8 L1947.8,418.9 L1948.1,453.6 L1948.3,489.2 L1948.6,515.0 L1948.8,523.9 L1949.1,517.3 L1949.4,497.7 L1949.6,470.7 L1949.9,444.5 L1950.2,424.6 L1950.5,416.6 L1950.7,426.1 L1951.0,450.6 L1951.3,481.3 L1951.6,505.8 L1951.9,514.9 L1952.2,508.2 L1952.4,486.9 L1952.7,457.8 L1953.0,429.2 L1953.3,408.7 L1953.6,400.6 L1953.8,419.9 L1954.1,466.6 L1954.3,511.7 L1954.6,531.4" fill="none" stroke="#ff0000" stroke-width="1.9" stroke-linejoin="round" stroke-linecap="round" clip-path="url(#c_b2)"/>
<line x1="1153.4" y1="535.0" x2="1153.4" y2="527.0" class="tk"/>
<line x1="1153.4" y1="383.0" x2="1153.4" y2="391.0" class="tk"/>
<line x1="1228.7" y1="535.0" x2="1228.7" y2="527.0" class="tk"/>
<line x1="1228.7" y1="383.0" x2="1228.7" y2="391.0" class="tk"/>
<line x1="1304.0" y1="535.0" x2="1304.0" y2="527.0" class="tk"/>
<line x1="1304.0" y1="383.0" x2="1304.0" y2="391.0" class="tk"/>
<line x1="1379.4" y1="535.0" x2="1379.4" y2="527.0" class="tk"/>
<line x1="1379.4" y1="383.0" x2="1379.4" y2="391.0" class="tk"/>
<line x1="1454.7" y1="535.0" x2="1454.7" y2="527.0" class="tk"/>
<line x1="1454.7" y1="383.0" x2="1454.7" y2="391.0" class="tk"/>
<line x1="1530.0" y1="535.0" x2="1530.0" y2="527.0" class="tk"/>
<line x1="1530.0" y1="383.0" x2="1530.0" y2="391.0" class="tk"/>
<line x1="1605.3" y1="535.0" x2="1605.3" y2="527.0" class="tk"/>
<line x1="1605.3" y1="383.0" x2="1605.3" y2="391.0" class="tk"/>
<line x1="1680.6" y1="535.0" x2="1680.6" y2="527.0" class="tk"/>
<line x1="1680.6" y1="383.0" x2="1680.6" y2="391.0" class="tk"/>
<line x1="1756.0" y1="535.0" x2="1756.0" y2="527.0" class="tk"/>
<line x1="1756.0" y1="383.0" x2="1756.0" y2="391.0" class="tk"/>
<line x1="1831.3" y1="535.0" x2="1831.3" y2="527.0" class="tk"/>
<line x1="1831.3" y1="383.0" x2="1831.3" y2="391.0" class="tk"/>
<line x1="1906.6" y1="535.0" x2="1906.6" y2="527.0" class="tk"/>
<line x1="1906.6" y1="383.0" x2="1906.6" y2="391.0" class="tk"/>
<line x1="1981.9" y1="535.0" x2="1981.9" y2="527.0" class="tk"/>
<line x1="1981.9" y1="383.0" x2="1981.9" y2="391.0" class="tk"/>
<line x1="1108.2" y1="519.6" x2="1116.2" y2="519.6" class="tk"/>
<line x1="1981.9" y1="519.6" x2="1973.9" y2="519.6" class="tk"/>
<line x1="1108.2" y1="454.0" x2="1116.2" y2="454.0" class="tk"/>
<line x1="1981.9" y1="454.0" x2="1973.9" y2="454.0" class="tk"/>
<line x1="1108.2" y1="388.4" x2="1116.2" y2="388.4" class="tk"/>
<line x1="1981.9" y1="388.4" x2="1973.9" y2="388.4" class="tk"/>
<rect x="1108.2" y="383.0" width="873.7" height="152.0" class="fr"/>
<text transform="translate(1151.8,566.9) scale(0.94,1)" class="xt">50</text>
<text transform="translate(1227.3,566.9) scale(0.94,1)" class="xt">100</text>
<text transform="translate(1302.9,566.9) scale(0.94,1)" class="xt">150</text>
<text transform="translate(1378.4,566.9) scale(0.94,1)" class="xt">200</text>
<text transform="translate(1454.0,566.9) scale(0.94,1)" class="xt">250</text>
<text transform="translate(1529.5,566.9) scale(0.94,1)" class="xt">300</text>
<text transform="translate(1605.1,566.9) scale(0.94,1)" class="xt">350</text>
<text transform="translate(1680.6,566.9) scale(0.94,1)" class="xt">400</text>
<text transform="translate(1756.2,566.9) scale(0.94,1)" class="xt">450</text>
<text transform="translate(1831.8,566.9) scale(0.94,1)" class="xt">500</text>
<text transform="translate(1907.3,566.9) scale(0.94,1)" class="xt">550</text>
<text transform="translate(1982.8,566.9) scale(0.94,1)" class="xt">600</text>
<text x="1102.4" y="529.2" class="yt">-200</text>
<text x="1102.4" y="463.6" class="yt">0</text>
<text x="1102.4" y="398.0" class="yt">200</text>
<text x="1545.1" y="598.8" class="xl">Time (s)</text>
<text transform="translate(1046.2,459.0) rotate(-90)" x="0" y="0" class="yl">Force (N)</text>
<rect x="1106.0" y="349.0" width="196.2" height="33.5" rx="1.5" class="lg"/>
<line x1="1113.6" y1="367.1" x2="1194.8" y2="367.1" stroke="#ff0000" stroke-width="2.0"/>
<text x="1199.6" y="374.3" class="lt">Fx-Robot</text>
</g>
<g id="b3">
<line x1="1123.3" y1="629.5" x2="1123.3" y2="781.5" class="mn"/>
<line x1="1138.3" y1="629.5" x2="1138.3" y2="781.5" class="mn"/>
<line x1="1168.5" y1="629.5" x2="1168.5" y2="781.5" class="mn"/>
<line x1="1183.5" y1="629.5" x2="1183.5" y2="781.5" class="mn"/>
<line x1="1198.6" y1="629.5" x2="1198.6" y2="781.5" class="mn"/>
<line x1="1213.7" y1="629.5" x2="1213.7" y2="781.5" class="mn"/>
<line x1="1243.8" y1="629.5" x2="1243.8" y2="781.5" class="mn"/>
<line x1="1258.8" y1="629.5" x2="1258.8" y2="781.5" class="mn"/>
<line x1="1273.9" y1="629.5" x2="1273.9" y2="781.5" class="mn"/>
<line x1="1289.0" y1="629.5" x2="1289.0" y2="781.5" class="mn"/>
<line x1="1319.1" y1="629.5" x2="1319.1" y2="781.5" class="mn"/>
<line x1="1334.2" y1="629.5" x2="1334.2" y2="781.5" class="mn"/>
<line x1="1349.2" y1="629.5" x2="1349.2" y2="781.5" class="mn"/>
<line x1="1364.3" y1="629.5" x2="1364.3" y2="781.5" class="mn"/>
<line x1="1394.4" y1="629.5" x2="1394.4" y2="781.5" class="mn"/>
<line x1="1409.5" y1="629.5" x2="1409.5" y2="781.5" class="mn"/>
<line x1="1424.6" y1="629.5" x2="1424.6" y2="781.5" class="mn"/>
<line x1="1439.6" y1="629.5" x2="1439.6" y2="781.5" class="mn"/>
<line x1="1469.7" y1="629.5" x2="1469.7" y2="781.5" class="mn"/>
<line x1="1484.8" y1="629.5" x2="1484.8" y2="781.5" class="mn"/>
<line x1="1499.9" y1="629.5" x2="1499.9" y2="781.5" class="mn"/>
<line x1="1514.9" y1="629.5" x2="1514.9" y2="781.5" class="mn"/>
<line x1="1545.1" y1="629.5" x2="1545.1" y2="781.5" class="mn"/>
<line x1="1560.1" y1="629.5" x2="1560.1" y2="781.5" class="mn"/>
<line x1="1575.2" y1="629.5" x2="1575.2" y2="781.5" class="mn"/>
<line x1="1590.3" y1="629.5" x2="1590.3" y2="781.5" class="mn"/>
<line x1="1620.4" y1="629.5" x2="1620.4" y2="781.5" class="mn"/>
<line x1="1635.4" y1="629.5" x2="1635.4" y2="781.5" class="mn"/>
<line x1="1650.5" y1="629.5" x2="1650.5" y2="781.5" class="mn"/>
<line x1="1665.6" y1="629.5" x2="1665.6" y2="781.5" class="mn"/>
<line x1="1695.7" y1="629.5" x2="1695.7" y2="781.5" class="mn"/>
<line x1="1710.8" y1="629.5" x2="1710.8" y2="781.5" class="mn"/>
<line x1="1725.8" y1="629.5" x2="1725.8" y2="781.5" class="mn"/>
<line x1="1740.9" y1="629.5" x2="1740.9" y2="781.5" class="mn"/>
<line x1="1771.0" y1="629.5" x2="1771.0" y2="781.5" class="mn"/>
<line x1="1786.1" y1="629.5" x2="1786.1" y2="781.5" class="mn"/>
<line x1="1801.2" y1="629.5" x2="1801.2" y2="781.5" class="mn"/>
<line x1="1816.2" y1="629.5" x2="1816.2" y2="781.5" class="mn"/>
<line x1="1846.3" y1="629.5" x2="1846.3" y2="781.5" class="mn"/>
<line x1="1861.4" y1="629.5" x2="1861.4" y2="781.5" class="mn"/>
<line x1="1876.5" y1="629.5" x2="1876.5" y2="781.5" class="mn"/>
<line x1="1891.5" y1="629.5" x2="1891.5" y2="781.5" class="mn"/>
<line x1="1921.7" y1="629.5" x2="1921.7" y2="781.5" class="mn"/>
<line x1="1936.7" y1="629.5" x2="1936.7" y2="781.5" class="mn"/>
<line x1="1951.8" y1="629.5" x2="1951.8" y2="781.5" class="mn"/>
<line x1="1966.9" y1="629.5" x2="1966.9" y2="781.5" class="mn"/>
<line x1="1108.2" y1="750.1" x2="1981.9" y2="750.1" class="mn"/>
<line x1="1108.2" y1="734.2" x2="1981.9" y2="734.2" class="mn"/>
<line x1="1108.2" y1="718.4" x2="1981.9" y2="718.4" class="mn"/>
<line x1="1108.2" y1="686.6" x2="1981.9" y2="686.6" class="mn"/>
<line x1="1108.2" y1="670.8" x2="1981.9" y2="670.8" class="mn"/>
<line x1="1108.2" y1="654.9" x2="1981.9" y2="654.9" class="mn"/>
<line x1="1153.4" y1="629.5" x2="1153.4" y2="781.5" class="mj"/>
<line x1="1228.7" y1="629.5" x2="1228.7" y2="781.5" class="mj"/>
<line x1="1304.0" y1="629.5" x2="1304.0" y2="781.5" class="mj"/>
<line x1="1379.4" y1="629.5" x2="1379.4" y2="781.5" class="mj"/>
<line x1="1454.7" y1="629.5" x2="1454.7" y2="781.5" class="mj"/>
<line x1="1530.0" y1="629.5" x2="1530.0" y2="781.5" class="mj"/>
<line x1="1605.3" y1="629.5" x2="1605.3" y2="781.5" class="mj"/>
<line x1="1680.6" y1="629.5" x2="1680.6" y2="781.5" class="mj"/>
<line x1="1756.0" y1="629.5" x2="1756.0" y2="781.5" class="mj"/>
<line x1="1831.3" y1="629.5" x2="1831.3" y2="781.5" class="mj"/>
<line x1="1906.6" y1="629.5" x2="1906.6" y2="781.5" class="mj"/>
<line x1="1108.2" y1="766.0" x2="1981.9" y2="766.0" class="mj"/>
<line x1="1108.2" y1="702.5" x2="1981.9" y2="702.5" class="mj"/>
<line x1="1108.2" y1="639.0" x2="1981.9" y2="639.0" class="mj"/>
<clipPath id="c_b3"><rect x="1108.2" y="628.5" width="873.7" height="154.0"/></clipPath>
<path d="M1108.2,702.1 L1108.5,701.2 L1108.7,702.2 L1109.0,701.9 L1109.2,701.3 L1109.5,701.4 L1109.7,700.8 L1110.0,700.9 L1110.2,701.5 L1110.5,701.6 L1110.7,700.9 L1111.0,701.6 L1111.2,701.2 L1111.5,701.5 L1111.7,701.9 L1112.0,701.3 L1112.2,701.3 L1112.5,701.7 L1112.7,702.5 L1113.0,702.0 L1113.2,702.7 L1113.5,702.1 L1113.7,702.9 L1114.0,703.2 L1114.2,702.8 L1114.5,702.8 L1114.7,702.9 L1115.0,703.2 L1115.2,703.5 L1115.5,704.1 L1115.7,704.6 L1116.0,704.1 L1116.2,705.0 L1116.5,704.3 L1116.7,704.9 L1117.0,705.3 L1117.2,705.6 L1117.5,705.8 L1117.7,705.9 L1118.0,705.0 L1118.2,706.0 L1118.5,705.0 L1118.8,705.6 L1119.0,705.5 L1119.3,705.6 L1119.5,705.2 L1119.8,705.5 L1120.0,705.8 L1120.3,705.7 L1120.5,704.8 L1120.8,705.7 L1121.0,705.0 L1121.3,705.1 L1121.5,704.7 L1121.8,704.9 L1122.0,704.6 L1122.3,704.8 L1122.5,703.6 L1122.8,703.8 L1123.0,704.3 L1123.3,702.9 L1123.6,702.8 L1123.8,703.2 L1124.1,703.3 L1124.3,702.0 L1124.6,701.9 L1124.8,702.2 L1125.1,701.8 L1125.3,702.0 L1125.6,700.8 L1125.8,700.6 L1126.1,700.5 L1126.3,700.6 L1126.6,700.2 L1126.8,700.3 L1127.1,699.7 L1127.3,700.1 L1127.6,699.7 L1127.9,699.5 L1128.1,699.3 L1128.4,699.4 L1128.6,699.3 L1128.9,700.1 L1129.1,699.7 L1129.4,700.0 L1129.6,699.6 L1129.9,699.2 L1130.1,700.0 L1130.4,700.3 L1130.6,700.7 L1130.9,699.8 L1131.1,700.0 L1131.4,701.2 L1131.6,700.8 L1131.9,700.9 L1132.2,701.3 L1132.4,702.5 L1132.7,702.6 L1132.9,703.4 L1133.2,703.7 L1133.4,703.7 L1133.7,704.0 L1133.9,704.4 L1134.2,704.6 L1134.4,706.0 L1134.7,705.7 L1134.9,706.2 L1135.2,706.6 L1135.4,707.1 L1135.7,707.9 L1135.9,708.0 L1136.2,708.1 L1136.5,708.7 L1136.7,709.1 L1137.0,709.1 L1137.2,709.3 L1137.5,709.1 L1137.7,709.2 L1138.0,710.0 L1138.2,710.2 L1138.5,710.4 L1138.7,709.8 L1139.0,710.0 L1139.2,709.5 L1139.5,710.1 L1139.7,710.0 L1140.0,709.5 L1140.2,709.8 L1140.5,709.8 L1140.8,709.0 L1141.0,708.9 L1141.3,708.6 L1141.5,708.2 L1141.8,707.4 L1142.0,706.7 L1142.3,707.5 L1142.5,706.9 L1142.8,706.5 L1143.0,705.9 L1143.3,704.5 L1143.5,704.1 L1143.8,703.9 L1144.0,703.6 L1144.3,703.2 L1144.5,702.7 L1144.8,701.9 L1145.1,701.1 L1145.3,701.1 L1145.6,700.4 L1145.8,700.3 L1146.1,699.3 L1146.3,699.7 L1146.6,698.4 L1146.8,699.2 L1147.1,698.9 L1147.3,698.3 L1147.6,698.0 L1147.8,697.3 L1148.1,697.7 L1148.3,697.4 L1148.6,697.5 L1148.9,696.8 L1149.1,697.8 L1149.4,697.6 L1149.6,698.0 L1149.9,698.1 L1150.1,697.4 L1150.4,697.9 L1150.6,698.6 L1150.9,698.7 L1151.1,698.8 L1151.4,699.9 L1151.6,700.6 L1151.9,700.5 L1152.1,701.1 L1152.4,701.7 L1152.6,702.5 L1152.9,702.8 L1153.2,703.0 L1153.4,703.7 L1153.7,704.1 L1153.9,704.9 L1154.2,705.5 L1154.4,706.7 L1154.7,706.5 L1154.9,707.1 L1155.2,707.8 L1155.4,708.6 L1155.7,709.5 L1155.9,709.5 L1156.2,709.9 L1156.4,710.8 L1156.7,710.3 L1156.9,711.0 L1157.2,711.5 L1157.5,711.2 L1157.7,711.6 L1158.0,712.5 L1158.2,712.4 L1158.5,712.0 L1158.7,712.8 L1159.0,712.2 L1159.2,712.2 L1159.5,712.2 L1159.7,712.3 L1160.0,711.3 L1160.2,710.8 L1160.5,710.8 L1160.7,710.9 L1161.0,710.6 L1161.2,709.7 L1161.5,709.1 L1161.8,709.1 L1162.0,707.8 L1162.3,707.5 L1162.5,706.3 L1162.8,706.4 L1163.0,706.0 L1163.3,704.8 L1163.5,703.5 L1163.8,703.9 L1164.0,703.2 L1164.3,702.2 L1164.5,701.3 L1164.8,700.4 L1165.0,700.0 L1165.3,699.3 L1165.5,698.3 L1165.8,697.9 L1166.1,697.9 L1166.3,697.1 L1166.6,696.6 L1166.8,696.4 L1167.1,695.7 L1167.3,695.8 L1167.6,696.1 L1167.8,695.0 L1168.1,695.5 L1168.3,695.2 L1168.6,695.4 L1168.8,695.4 L1169.1,694.9 L1169.3,695.2 L1169.6,696.1 L1169.8,695.2 L1170.1,695.7 L1170.3,696.7 L1170.6,696.3 L1170.8,696.9 L1171.1,697.1 L1171.3,697.3 L1171.6,698.0 L1171.8,698.1 L1172.1,698.4 L1172.4,699.2 L1172.6,699.4 L1172.9,700.5 L1173.1,701.6 L1173.4,701.7 L1173.6,701.7 L1173.9,702.9 L1174.1,703.2 L1174.4,703.8 L1174.6,705.4 L1174.9,705.5 L1175.1,706.6 L1175.4,706.3 L1175.6,707.6 L1175.9,707.7 L1176.1,708.6 L1176.4,708.5 L1176.6,709.2 L1176.9,709.8 L1177.1,710.7 L1177.4,711.5 L1177.6,711.1 L1177.9,711.9 L1178.1,713.0 L1178.4,712.9 L1178.6,713.1 L1178.9,714.0 L1179.1,714.0 L1179.4,713.9 L1179.6,714.0 L1179.9,714.6 L1180.1,714.4 L1180.4,714.0 L1180.6,714.3 L1180.9,714.8 L1181.1,713.9 L1181.4,714.3 L1181.6,714.3 L1181.9,713.3 L1182.1,712.6 L1182.4,713.0 L1182.6,711.4 L1182.9,711.7 L1183.1,710.9 L1183.4,709.7 L1183.6,709.0 L1183.9,708.2 L1184.1,707.7 L1184.4,706.8 L1184.7,706.4 L1184.9,705.1 L1185.2,704.3 L1185.4,703.6 L1185.7,702.0 L1185.9,701.9 L1186.2,700.2 L1186.4,700.3 L1186.7,698.6 L1186.9,698.2 L1187.2,697.2 L1187.4,696.8 L1187.7,696.4 L1187.9,695.6 L1188.2,696.1 L1188.4,695.6 L1188.7,694.9 L1188.9,695.4 L1189.2,694.4 L1189.4,694.3 L1189.7,694.9 L1189.9,694.4 L1190.2,695.5 L1190.4,695.3 L1190.7,695.6 L1190.9,696.3 L1191.2,696.2 L1191.4,697.6 L1191.7,697.2 L1191.9,698.4 L1192.2,699.4 L1192.4,699.4 L1192.7,701.3 L1193.0,701.7 L1193.2,702.9 L1193.5,703.3 L1193.7,704.3 L1194.0,705.4 L1194.2,706.9 L1194.5,707.3 L1194.7,708.5 L1195.0,709.1 L1195.2,709.9 L1195.5,711.5 L1195.7,712.5 L1196.0,712.2 L1196.2,714.2 L1196.5,715.0 L1196.7,715.1 L1197.0,715.5 L1197.3,716.6 L1197.5,717.5 L1197.8,718.0 L1198.0,718.2 L1198.3,718.7 L1198.5,718.5 L1198.8,718.2 L1199.0,719.3 L1199.3,718.7 L1199.5,718.7 L1199.8,718.5 L1200.0,717.8 L1200.3,718.2 L1200.6,716.5 L1200.8,716.2 L1201.1,714.8 L1201.3,714.6 L1201.6,712.7 L1201.8,712.5 L1202.1,710.9 L1202.3,709.5 L1202.6,708.6 L1202.9,706.7 L1203.1,705.2 L1203.4,704.2 L1203.6,702.2 L1203.9,700.9 L1204.1,699.5 L1204.4,698.2 L1204.6,697.5 L1204.9,696.0 L1205.2,695.4 L1205.4,694.5 L1205.7,693.7 L1205.9,693.1 L1206.2,692.2 L1206.4,692.1 L1206.7,692.3 L1207.0,692.3 L1207.2,692.3 L1207.5,691.5 L1207.7,692.6 L1208.0,693.1 L1208.2,692.7 L1208.5,693.6 L1208.7,694.3 L1209.0,694.9 L1209.2,695.4 L1209.5,696.1 L1209.7,696.9 L1210.0,698.5 L1210.2,699.2 L1210.5,700.3 L1210.7,701.8 L1211.0,702.3 L1211.3,703.6 L1211.5,704.6 L1211.8,706.5 L1212.0,707.1 L1212.3,709.0 L1212.5,710.2 L1212.8,711.5 L1213.0,712.0 L1213.3,713.6 L1213.5,714.7 L1213.8,715.0 L1214.0,716.8 L1214.3,717.1 L1214.5,718.6 L1214.8,718.9 L1215.0,719.1 L1215.3,720.3 L1215.6,721.3 L1215.8,721.3 L1216.1,722.0 L1216.3,721.6 L1216.6,722.1 L1216.8,721.6 L1217.1,722.0 L1217.3,722.1 L1217.6,720.9 L1217.8,721.2 L1218.1,720.3 L1218.3,718.8 L1218.6,718.2 L1218.8,717.0 L1219.1,716.0 L1219.3,715.3 L1219.6,713.8 L1219.8,712.1 L1220.1,710.4 L1220.3,708.6 L1220.6,707.3 L1220.8,705.1 L1221.1,704.5 L1221.3,702.2 L1221.6,700.8 L1221.8,698.4 L1222.1,696.8 L1222.3,695.8 L1222.6,694.6 L1222.8,692.6 L1223.1,690.9 L1223.3,690.3 L1223.6,689.2 L1223.8,687.3 L1224.1,687.1 L1224.3,686.0 L1224.6,685.0 L1224.8,685.4 L1225.1,684.6 L1225.3,684.5 L1225.6,684.5 L1225.8,684.5 L1226.1,684.4 L1226.4,684.1 L1226.6,684.5 L1226.9,684.7 L1227.1,684.5 L1227.4,684.6 L1227.7,684.6 L1227.9,685.6 L1228.2,685.3 L1228.4,685.4 L1228.7,685.6 L1228.9,686.6 L1229.2,685.8 L1229.5,686.6 L1229.7,686.2 L1230.0,686.9 L1230.2,686.7 L1230.5,686.4 L1230.7,686.7 L1231.0,686.3 L1231.3,687.2 L1231.5,686.5 L1231.8,687.2 L1232.0,687.9 L1232.3,687.4 L1232.6,687.4 L1232.8,688.5 L1233.1,688.1 L1233.3,688.5 L1233.6,689.0 L1233.8,688.9 L1234.1,688.1 L1234.4,689.2 L1234.6,689.1 L1234.9,689.3 L1235.2,689.5 L1235.5,691.1 L1235.7,691.1 L1236.0,692.0 L1236.3,693.0 L1236.6,693.3 L1236.8,693.6 L1237.1,693.1 L1237.3,693.6 L1237.6,694.8 L1237.8,695.7 L1238.1,697.1 L1238.4,697.7 L1238.6,699.2 L1238.9,700.5 L1239.1,701.3 L1239.4,702.6 L1239.6,703.0 L1239.9,704.5 L1240.2,704.6 L1240.4,705.5 L1240.7,706.0 L1240.9,706.0 L1241.2,706.7 L1241.5,706.7 L1241.7,706.8 L1242.0,707.5 L1242.2,708.4 L1242.5,708.8 L1242.7,708.7 L1243.0,709.7 L1243.3,710.7 L1243.5,712.0 L1243.8,713.0 L1244.0,713.4 L1244.3,714.0 L1244.5,714.7 L1244.8,714.0 L1245.1,715.2 L1245.3,715.5 L1245.6,714.5 L1245.8,715.1 L1246.1,714.8 L1246.4,715.3 L1246.6,716.0 L1246.9,717.2 L1247.1,717.7 L1247.4,717.6 L1247.7,718.3 L1247.9,719.3 L1248.2,720.4 L1248.5,720.8 L1248.7,721.7 L1249.0,722.0 L1249.2,722.0 L1249.5,723.0 L1249.8,723.2 L1250.0,723.8 L1250.3,723.9 L1250.5,723.6 L1250.8,723.7 L1251.1,723.6 L1251.3,723.5 L1251.6,723.9 L1251.8,722.9 L1252.1,722.7 L1252.3,722.6 L1252.6,721.8 L1252.8,721.2 L1253.1,720.9 L1253.4,719.9 L1253.6,719.2 L1253.9,719.1 L1254.1,717.7 L1254.4,717.2 L1254.6,715.7 L1254.9,715.6 L1255.1,714.9 L1255.4,713.3 L1255.7,713.0 L1255.9,712.8 L1256.2,712.0 L1256.4,710.7 L1256.7,710.2 L1256.9,709.9 L1257.2,709.6 L1257.5,709.3 L1257.7,709.1 L1258.0,708.4 L1258.2,708.6 L1258.5,708.6 L1258.7,708.6 L1259.0,708.2 L1259.2,708.0 L1259.5,706.5 L1259.7,706.5 L1260.0,704.8 L1260.2,703.4 L1260.5,702.5 L1260.8,701.5 L1261.0,700.1 L1261.3,698.2 L1261.5,696.2 L1261.8,694.4 L1262.0,693.5 L1262.3,691.0 L1262.5,689.7 L1262.8,687.9 L1263.0,687.3 L1263.3,685.6 L1263.5,684.2 L1263.8,683.6 L1264.0,682.1 L1264.3,681.2 L1264.5,681.2 L1264.8,681.0 L1265.1,680.5 L1265.3,680.8 L1265.6,681.7 L1265.8,682.1 L1266.1,681.8 L1266.3,682.6 L1266.6,683.9 L1266.8,685.1 L1267.1,686.0 L1267.4,687.6 L1267.6,689.9 L1267.9,691.0 L1268.1,692.6 L1268.4,695.2 L1268.6,696.4 L1268.9,699.3 L1269.1,701.3 L1269.4,702.8 L1269.7,705.2 L1269.9,706.7 L1270.2,708.7 L1270.4,711.3 L1270.7,712.8 L1270.9,715.2 L1271.2,716.9 L1271.4,718.6 L1271.7,720.7 L1272.0,721.7 L1272.2,723.3 L1272.5,725.1 L1272.7,726.2 L1273.0,727.1 L1273.2,727.6 L1273.5,728.4 L1273.7,728.4 L1274.0,728.6 L1274.3,728.6 L1274.5,728.4 L1274.8,729.2 L1275.0,727.8 L1275.3,727.1 L1275.5,726.3 L1275.8,724.4 L1276.0,723.2 L1276.3,721.9 L1276.6,719.3 L1276.8,717.2 L1277.1,715.6 L1277.3,713.4 L1277.6,711.2 L1277.8,708.6 L1278.1,705.7 L1278.3,703.4 L1278.6,700.6 L1278.8,698.9 L1279.1,696.1 L1279.4,694.1 L1279.6,692.0 L1279.9,689.1 L1280.1,687.9 L1280.4,685.9 L1280.6,684.7 L1280.9,683.1 L1281.1,681.5 L1281.4,681.2 L1281.6,680.4 L1281.9,679.4 L1282.2,680.3 L1282.4,680.2 L1282.7,680.0 L1282.9,681.0 L1283.2,681.6 L1283.4,682.1 L1283.7,683.0 L1283.9,683.8 L1284.2,684.7 L1284.5,686.2 L1284.7,688.4 L1285.0,689.9 L1285.2,690.8 L1285.5,693.1 L1285.7,694.9 L1286.0,697.1 L1286.2,698.9 L1286.5,700.9 L1286.8,703.0 L1287.0,704.7 L1287.3,706.2 L1287.5,708.8 L1287.8,710.1 L1288.0,712.2 L1288.3,714.0 L1288.5,715.7 L1288.8,717.5 L1289.1,719.6 L1289.3,720.2 L1289.6,721.3 L1289.8,722.7 L1290.1,723.2 L1290.3,724.1 L1290.6,725.2 L1290.9,725.0 L1291.1,725.2 L1291.4,726.4 L1291.6,725.3 L1291.9,725.3 L1292.1,725.1 L1292.4,724.0 L1292.6,722.7 L1292.9,721.9 L1293.2,719.9 L1293.4,718.0 L1293.7,716.7 L1293.9,714.6 L1294.2,712.1 L1294.4,709.1 L1294.7,707.7 L1294.9,705.3 L1295.2,702.6 L1295.5,699.6 L1295.7,697.2 L1296.0,695.3 L1296.2,692.1 L1296.5,690.0 L1296.7,688.6 L1297.0,686.7 L1297.2,684.7 L1297.5,683.0 L1297.8,682.0 L1298.0,680.3 L1298.3,679.9 L1298.5,678.9 L1298.8,678.9 L1299.0,679.0 L1299.3,678.9 L1299.5,679.5 L1299.8,679.1 L1300.0,680.0 L1300.3,681.5 L1300.5,681.8 L1300.8,683.7 L1301.0,684.3 L1301.3,686.0 L1301.5,688.0 L1301.8,689.0 L1302.0,691.8 L1302.3,693.7 L1302.5,695.2 L1302.8,697.4 L1303.0,699.2 L1303.3,701.7 L1303.5,703.3 L1303.8,705.8 L1304.0,708.1 L1304.3,710.6 L1304.5,712.7 L1304.8,714.0 L1305.1,716.5 L1305.3,717.3 L1305.6,720.1 L1305.8,721.0 L1306.1,722.6 L1306.3,723.3 L1306.6,725.1 L1306.8,725.1 L1307.1,726.7 L1307.3,727.1 L1307.6,726.4 L1307.8,726.9 L1308.1,726.5 L1308.3,726.5 L1308.6,726.1 L1308.8,724.5 L1309.1,723.8 L1309.3,722.5 L1309.6,720.5 L1309.9,718.8 L1310.1,716.4 L1310.4,714.4 L1310.6,712.2 L1310.9,709.3 L1311.1,706.1 L1311.4,703.5 L1311.6,700.8 L1311.9,698.9 L1312.2,696.0 L1312.4,693.3 L1312.7,690.1 L1312.9,687.9 L1313.2,686.0 L1313.4,684.2 L1313.7,682.1 L1313.9,680.3 L1314.2,679.0 L1314.5,677.7 L1314.7,676.7 L1315.0,675.8 L1315.2,675.2 L1315.5,675.1 L1315.7,676.1 L1316.0,676.3 L1316.2,676.0 L1316.5,677.2 L1316.7,678.3 L1317.0,679.2 L1317.2,681.3 L1317.5,683.2 L1317.7,684.8 L1318.0,685.9 L1318.2,688.4 L1318.5,691.3 L1318.7,692.8 L1319.0,695.5 L1319.2,697.6 L1319.5,700.8 L1319.7,703.1 L1320.0,706.1 L1320.2,708.7 L1320.5,711.1 L1320.7,713.4 L1321.0,715.9 L1321.2,718.1 L1321.5,720.6 L1321.7,722.5 L1322.0,724.0 L1322.2,725.9 L1322.5,728.4 L1322.7,729.5 L1323.0,730.1 L1323.2,731.3 L1323.5,732.6 L1323.7,733.3 L1324.0,733.1 L1324.3,733.8 L1324.5,733.3 L1324.8,733.1 L1325.0,731.8 L1325.3,731.1 L1325.5,729.4 L1325.8,728.1 L1326.0,726.1 L1326.3,723.4 L1326.6,720.5 L1326.8,718.6 L1327.1,715.3 L1327.3,712.0 L1327.6,709.3 L1327.8,706.2 L1328.1,703.3 L1328.3,699.4 L1328.6,696.5 L1328.9,693.4 L1329.1,690.5 L1329.4,687.0 L1329.6,685.2 L1329.9,681.8 L1330.1,680.4 L1330.4,678.3 L1330.6,675.9 L1330.9,674.7 L1331.2,673.2 L1331.4,673.3 L1331.7,672.2 L1331.9,671.9 L1332.2,672.8 L1332.4,672.3 L1332.7,673.2 L1332.9,674.9 L1333.2,676.4 L1333.5,678.2 L1333.7,680.1 L1334.0,682.3 L1334.2,685.2 L1334.5,687.4 L1334.7,690.0 L1335.0,693.0 L1335.2,696.9 L1335.5,699.5 L1335.8,703.1 L1336.0,706.2 L1336.3,708.9 L1336.5,712.8 L1336.8,715.8 L1337.0,717.8 L1337.3,720.8 L1337.6,723.7 L1337.8,725.1 L1338.1,728.2 L1338.3,729.3 L1338.6,730.7 L1338.8,732.6 L1339.1,733.4 L1339.3,733.2 L1339.6,734.1 L1339.9,733.1 L1340.1,732.7 L1340.4,731.6 L1340.6,731.5 L1340.9,729.5 L1341.1,727.5 L1341.4,725.7 L1341.6,723.3 L1341.9,721.2 L1342.2,718.9 L1342.4,715.9 L1342.7,713.4 L1342.9,710.0 L1343.2,707.5 L1343.4,704.4 L1343.7,700.9 L1343.9,698.8 L1344.2,694.7 L1344.5,692.6 L1344.7,689.3 L1345.0,687.5 L1345.2,684.8 L1345.5,682.7 L1345.7,680.4 L1346.0,678.3 L1346.2,678.0 L1346.5,676.8 L1346.8,675.1 L1347.0,675.2 L1347.3,674.8 L1347.5,675.3 L1347.8,675.0 L1348.0,675.8 L1348.3,676.9 L1348.5,677.7 L1348.8,678.9 L1349.0,680.6 L1349.3,682.2 L1349.5,684.5 L1349.8,686.2 L1350.0,689.0 L1350.3,691.6 L1350.5,693.9 L1350.8,697.2 L1351.0,699.6 L1351.3,702.2 L1351.5,705.3 L1351.8,707.6 L1352.0,710.9 L1352.3,713.6 L1352.5,716.2 L1352.8,718.5 L1353.0,721.0 L1353.3,723.8 L1353.5,726.0 L1353.8,728.1 L1354.0,729.8 L1354.3,732.1 L1354.5,733.9 L1354.8,734.7 L1355.0,735.9 L1355.3,737.1 L1355.5,736.9 L1355.8,737.9 L1356.0,737.6 L1356.3,738.1 L1356.6,737.3 L1356.8,736.3 L1357.1,734.7 L1357.3,733.3 L1357.6,731.6 L1357.9,728.9 L1358.1,725.7 L1358.4,722.9 L1358.6,719.8 L1358.9,717.4 L1359.1,714.0 L1359.4,709.8 L1359.7,706.3 L1359.9,702.6 L1360.2,700.1 L1360.4,696.8 L1360.7,692.5 L1361.0,689.7 L1361.2,687.8 L1361.5,684.7 L1361.7,682.4 L1362.0,680.6 L1362.2,678.1 L1362.5,677.6 L1362.8,675.7 L1363.0,676.0 L1363.3,676.0 L1363.5,675.8 L1363.8,676.0 L1364.0,677.2 L1364.3,677.7 L1364.6,679.5 L1364.8,681.9 L1365.1,683.0 L1365.3,686.3 L1365.6,688.1 L1365.8,691.5 L1366.1,693.8 L1366.3,697.1 L1366.6,700.0 L1366.9,703.8 L1367.1,706.3 L1367.4,710.1 L1367.6,713.5 L1367.9,716.9 L1368.1,719.3 L1368.4,721.8 L1368.6,725.3 L1368.9,728.0 L1369.2,730.5 L1369.4,732.2 L1369.7,733.7 L1369.9,735.3 L1370.2,736.2 L1370.4,737.4 L1370.7,738.3 L1371.0,738.2 L1371.2,737.4 L1371.5,737.5 L1371.7,736.9 L1372.0,735.6 L1372.2,733.9 L1372.5,732.2 L1372.7,730.1 L1373.0,727.5 L1373.3,724.8 L1373.5,721.6 L1373.8,719.4 L1374.0,716.3 L1374.3,713.1 L1374.5,709.2 L1374.8,706.0 L1375.0,702.4 L1375.3,699.8 L1375.6,696.8 L1375.8,693.1 L1376.1,690.4 L1376.3,687.6 L1376.6,684.4 L1376.8,683.0 L1377.1,679.9 L1377.3,678.7 L1377.6,677.2 L1377.9,675.5 L1378.1,675.3 L1378.4,674.0 L1378.6,674.3 L1378.9,674.4 L1379.1,674.6 L1379.4,675.6 L1379.6,677.5 L1379.9,679.0 L1380.2,680.2 L1380.4,682.6 L1380.7,684.5 L1380.9,687.6 L1381.2,691.0 L1381.4,694.1 L1381.7,696.8 L1381.9,699.7 L1382.2,703.2 L1382.5,706.4 L1382.7,710.6 L1383.0,714.0 L1383.2,716.2 L1383.5,719.7 L1383.7,722.9 L1384.0,725.5 L1384.3,728.5 L1384.5,730.2 L1384.8,732.8 L1385.0,734.2 L1385.3,736.7 L1385.5,736.9 L1385.8,737.8 L1386.0,739.0 L1386.3,739.1 L1386.6,738.7 L1386.8,738.2 L1387.1,736.9 L1387.3,735.7 L1387.6,734.7 L1387.8,732.6 L1388.1,731.1 L1388.3,728.8 L1388.6,726.1 L1388.9,723.2 L1389.1,720.2 L1389.4,717.3 L1389.6,713.5 L1389.9,710.8 L1390.1,707.8 L1390.4,704.1 L1390.6,701.2 L1390.9,697.8 L1391.2,694.7 L1391.4,691.2 L1391.7,689.4 L1391.9,685.8 L1392.2,684.5 L1392.4,682.5 L1392.7,679.8 L1392.9,678.2 L1393.2,677.8 L1393.5,677.0 L1393.7,676.0 L1394.0,675.4 L1394.2,676.2 L1394.5,676.9 L1394.7,677.7 L1395.0,679.0 L1395.2,680.6 L1395.5,683.0 L1395.7,685.3 L1396.0,687.4 L1396.2,690.0 L1396.5,693.5 L1396.7,696.4 L1397.0,700.1 L1397.2,703.0 L1397.5,706.9 L1397.7,709.8 L1398.0,712.8 L1398.2,716.9 L1398.5,720.1 L1398.7,723.1 L1399.0,725.5 L1399.2,727.9 L1399.5,730.5 L1399.7,731.7 L1400.0,733.5 L1400.2,735.3 L1400.5,736.1 L1400.7,736.4 L1401.0,736.3 L1401.2,736.0 L1401.5,735.6 L1401.7,735.1 L1402.0,734.1 L1402.2,732.1 L1402.5,729.6 L1402.7,727.3 L1403.0,724.8 L1403.2,721.5 L1403.5,717.8 L1403.7,714.7 L1404.0,711.2 L1404.2,707.2 L1404.5,704.6 L1404.7,700.4 L1405.0,696.6 L1405.2,693.7 L1405.5,689.5 L1405.7,686.5 L1406.0,684.0 L1406.2,681.2 L1406.5,678.8 L1406.8,676.0 L1407.0,674.3 L1407.3,673.9 L1407.5,672.5 L1407.8,672.2 L1408.0,671.6 L1408.3,671.6 L1408.5,672.2 L1408.8,673.8 L1409.0,675.8 L1409.3,677.5 L1409.5,680.0 L1409.8,683.2 L1410.0,686.3 L1410.3,689.8 L1410.5,694.1 L1410.8,697.5 L1411.0,701.8 L1411.3,705.2 L1411.5,710.4 L1411.8,713.8 L1412.1,717.6 L1412.3,722.3 L1412.6,725.9 L1412.8,729.0 L1413.1,731.9 L1413.3,733.8 L1413.6,735.9 L1413.8,738.4 L1414.1,738.6 L1414.3,739.6 L1414.6,740.6 L1414.8,739.5 L1415.1,739.4 L1415.3,738.9 L1415.6,736.8 L1415.9,736.4 L1416.1,734.0 L1416.4,731.5 L1416.6,729.2 L1416.9,726.8 L1417.1,724.7 L1417.4,720.8 L1417.6,717.7 L1417.9,714.8 L1418.1,712.1 L1418.4,708.3 L1418.7,704.4 L1418.9,701.8 L1419.2,698.0 L1419.4,694.7 L1419.7,691.6 L1419.9,688.1 L1420.2,686.2 L1420.4,683.2 L1420.7,680.8 L1420.9,679.0 L1421.2,676.6 L1421.5,675.5 L1421.7,674.9 L1422.0,673.9 L1422.2,672.9 L1422.5,673.2 L1422.7,673.6 L1423.0,673.4 L1423.2,674.6 L1423.5,676.2 L1423.7,677.7 L1424.0,680.7 L1424.2,683.3 L1424.5,685.9 L1424.8,689.2 L1425.0,692.4 L1425.3,696.5 L1425.5,700.3 L1425.8,703.9 L1426.0,707.8 L1426.3,711.5 L1426.5,714.6 L1426.8,717.9 L1427.0,721.3 L1427.3,724.6 L1427.5,727.2 L1427.8,728.7 L1428.0,730.6 L1428.3,732.6 L1428.5,733.6 L1428.8,734.6 L1429.1,734.1 L1429.3,734.3 L1429.6,734.0 L1429.8,732.4 L1430.1,731.7 L1430.3,729.0 L1430.6,726.8 L1430.8,725.3 L1431.1,722.3 L1431.3,718.8 L1431.6,716.3 L1431.8,712.5 L1432.1,709.5 L1432.3,705.4 L1432.6,702.1 L1432.8,698.3 L1433.1,695.1 L1433.4,691.9 L1433.6,689.6 L1433.9,686.5 L1434.1,683.5 L1434.4,682.0 L1434.6,679.7 L1434.9,678.9 L1435.1,676.8 L1435.4,676.7 L1435.6,676.7 L1435.9,676.4 L1436.1,678.3 L1436.4,679.5 L1436.6,682.7 L1436.9,686.3 L1437.2,689.4 L1437.4,694.5 L1437.7,698.1 L1437.9,702.7 L1438.2,708.4 L1438.4,713.2 L1438.7,716.9 L1438.9,721.5 L1439.2,725.8 L1439.4,729.1 L1439.7,731.3 L1439.9,733.0 L1440.2,734.0 L1440.5,734.2 L1440.7,733.8 L1441.0,734.0 L1441.2,732.2 L1441.5,730.3 L1441.7,728.6 L1442.0,725.5 L1442.2,722.8 L1442.5,720.0 L1442.8,716.6 L1443.0,712.8 L1443.3,708.8 L1443.5,704.7 L1443.8,701.4 L1444.0,697.1 L1444.3,694.4 L1444.5,690.8 L1444.8,687.1 L1445.1,684.8 L1445.3,681.5 L1445.6,679.9 L1445.8,678.2 L1446.1,676.5 L1446.3,676.7 L1446.6,675.7 L1446.9,676.4 L1447.1,676.1 L1447.4,676.5 L1447.7,677.3 L1447.9,678.6 L1448.2,680.2 L1448.5,681.6 L1448.7,682.3 L1449.0,683.5 L1449.3,684.6 L1449.5,684.7 L1449.8,685.5 L1450.1,686.7 L1450.3,686.6 L1450.6,686.0 L1450.8,685.9 L1451.1,685.0 L1451.3,684.4 L1451.6,682.9 L1451.8,682.2 L1452.1,680.5 L1452.3,679.3 L1452.6,678.4 L1452.8,677.8 L1453.1,677.0 L1453.4,676.9 L1453.6,676.8 L1453.9,677.3 L1454.1,677.4 L1454.4,679.0 L1454.6,680.6 L1454.9,683.8 L1455.1,686.6 L1455.4,689.6 L1455.7,692.6 L1455.9,696.7 L1456.2,701.1 L1456.4,705.7 L1456.7,709.8 L1456.9,713.6 L1457.2,718.4 L1457.4,722.2 L1457.7,726.2 L1458.0,729.2 L1458.2,733.1 L1458.5,735.3 L1458.7,738.3 L1459.0,739.9 L1459.2,740.9 L1459.5,742.2 L1459.7,742.4 L1460.0,742.4 L1460.3,741.6 L1460.5,740.4 L1460.8,738.8 L1461.0,735.6 L1461.3,733.2 L1461.5,730.7 L1461.8,727.5 L1462.0,722.6 L1462.3,719.3 L1462.5,715.8 L1462.8,711.6 L1463.0,706.8 L1463.3,702.5 L1463.5,697.8 L1463.8,694.4 L1464.0,690.6 L1464.3,687.0 L1464.6,682.9 L1464.8,679.6 L1465.1,677.6 L1465.3,675.0 L1465.6,673.2 L1465.8,672.2 L1466.1,671.7 L1466.3,671.4 L1466.6,671.0 L1466.8,672.0 L1467.1,673.4 L1467.3,675.1 L1467.6,676.9 L1467.8,678.4 L1468.1,681.5 L1468.3,685.2 L1468.6,687.7 L1468.8,691.6 L1469.1,694.7 L1469.3,699.7 L1469.6,703.0 L1469.8,706.9 L1470.1,711.4 L1470.3,715.4 L1470.6,719.6 L1470.8,723.4 L1471.1,726.4 L1471.3,729.7 L1471.6,732.4 L1471.8,735.8 L1472.1,737.4 L1472.3,739.5 L1472.6,741.9 L1472.8,742.0 L1473.1,743.6 L1473.3,743.7 L1473.6,742.8 L1473.9,742.9 L1474.1,742.2 L1474.4,740.2 L1474.6,738.3 L1474.9,736.5 L1475.1,733.9 L1475.4,732.2 L1475.6,728.4 L1475.9,725.1 L1476.2,721.7 L1476.4,718.4 L1476.7,715.4 L1476.9,711.7 L1477.2,707.2 L1477.4,704.1 L1477.7,700.2 L1477.9,696.4 L1478.2,693.9 L1478.5,690.2 L1478.7,686.9 L1479.0,684.3 L1479.2,680.8 L1479.5,678.8 L1479.7,677.3 L1480.0,675.7 L1480.2,674.3 L1480.5,673.4 L1480.8,672.9 L1481.0,671.8 L1481.3,672.8 L1481.5,673.1 L1481.8,674.9 L1482.0,677.3 L1482.3,679.5 L1482.6,682.6 L1482.8,686.6 L1483.1,690.2 L1483.3,695.3 L1483.6,699.3 L1483.8,704.7 L1484.1,708.8 L1484.4,713.6 L1484.6,717.9 L1484.9,722.4 L1485.1,727.0 L1485.4,729.8 L1485.6,733.5 L1485.9,735.8 L1486.2,738.5 L1486.4,739.5 L1486.7,741.0 L1486.9,740.9 L1487.2,740.6 L1487.4,739.6 L1487.7,738.2 L1488.0,736.2 L1488.2,733.2 L1488.5,729.9 L1488.7,727.2 L1489.0,723.3 L1489.2,718.1 L1489.5,714.1 L1489.7,709.6 L1490.0,704.7 L1490.3,699.8 L1490.5,694.9 L1490.8,690.6 L1491.0,686.5 L1491.3,682.3 L1491.5,678.6 L1491.8,675.1 L1492.0,672.5 L1492.3,670.8 L1492.6,669.6 L1492.8,668.6 L1493.1,667.9 L1493.3,667.8 L1493.6,669.4 L1493.8,670.0 L1494.1,672.2 L1494.3,675.1 L1494.6,678.4 L1494.8,681.4 L1495.1,684.4 L1495.3,689.5 L1495.6,693.3 L1495.9,697.7 L1496.1,702.9 L1496.4,707.6 L1496.6,712.7 L1496.9,717.9 L1497.1,722.2 L1497.4,726.5 L1497.6,731.0 L1497.9,734.3 L1498.1,737.8 L1498.4,740.6 L1498.6,743.1 L1498.9,744.8 L1499.1,746.3 L1499.4,747.3 L1499.7,747.2 L1499.9,747.3 L1500.2,744.8 L1500.4,740.5 L1500.7,735.6 L1500.9,729.5 L1501.2,722.1 L1501.4,715.8 L1501.7,708.9 L1501.9,702.7 L1502.2,697.6 L1502.4,693.8 L1502.7,691.6 L1502.9,690.3 L1503.2,690.5 L1503.5,690.6 L1503.7,690.1 L1504.0,689.8 L1504.2,689.1 L1504.5,688.3 L1504.7,687.8 L1505.0,686.2 L1505.2,685.1 L1505.5,683.8 L1505.8,683.3 L1506.0,681.3 L1506.3,680.2 L1506.5,679.2 L1506.8,677.2 L1507.0,676.3 L1507.3,675.3 L1507.5,674.1 L1507.8,672.9 L1508.1,671.5 L1508.3,669.9 L1508.6,668.5 L1508.8,667.8 L1509.1,666.5 L1509.3,666.3 L1509.6,665.5 L1509.8,665.7 L1510.1,664.5 L1510.4,665.0 L1510.6,664.7 L1510.9,664.0 L1511.1,664.9 L1511.4,665.3 L1511.6,665.8 L1511.9,666.9 L1512.1,668.1 L1512.4,670.1 L1512.7,671.5 L1512.9,673.5 L1513.2,675.2 L1513.4,677.5 L1513.7,679.6 L1513.9,682.5 L1514.2,684.9 L1514.4,686.9 L1514.7,690.0 L1514.9,692.7 L1515.2,696.6 L1515.5,698.8 L1515.7,701.7 L1516.0,705.2 L1516.2,707.9 L1516.5,711.8 L1516.7,714.4 L1517.0,717.7 L1517.2,719.9 L1517.5,723.3 L1517.8,726.0 L1518.0,728.7 L1518.3,731.4 L1518.5,733.9 L1518.8,736.0 L1519.0,738.3 L1519.3,739.8 L1519.5,742.2 L1519.8,743.7 L1520.0,745.0 L1520.3,746.0 L1520.6,746.5 L1520.8,747.3 L1521.1,747.9 L1521.3,748.8 L1521.6,749.3 L1521.8,749.3 L1522.1,748.2 L1522.3,747.2 L1522.6,746.5 L1522.8,745.7 L1523.1,744.1 L1523.3,743.0 L1523.6,740.4 L1523.9,738.2 L1524.1,736.6 L1524.4,733.7 L1524.6,731.4 L1524.9,727.9 L1525.1,725.4 L1525.4,722.1 L1525.6,718.5 L1525.9,715.5 L1526.1,711.9 L1526.4,709.1 L1526.6,705.6 L1526.9,702.0 L1527.1,698.4 L1527.4,695.3 L1527.6,692.4 L1527.9,689.5 L1528.2,686.8 L1528.4,684.0 L1528.7,681.1 L1528.9,678.7 L1529.2,676.1 L1529.4,673.8 L1529.7,671.5 L1529.9,670.2 L1530.2,668.3 L1530.4,667.3 L1530.7,666.6 L1530.9,666.5 L1531.2,665.3 L1531.4,665.0 L1531.7,666.3 L1531.9,667.6 L1532.2,670.3 L1532.5,673.7 L1532.7,677.1 L1533.0,682.2 L1533.2,687.4 L1533.5,693.8 L1533.7,699.9 L1534.0,706.1 L1534.2,713.1 L1534.5,718.8 L1534.7,724.9 L1535.0,730.8 L1535.2,735.8 L1535.5,740.5 L1535.7,743.4 L1536.0,745.3 L1536.2,746.8 L1536.5,748.0 L1536.7,747.9 L1537.0,747.2 L1537.2,744.8 L1537.5,743.8 L1537.8,740.9 L1538.0,737.9 L1538.3,734.9 L1538.5,731.0 L1538.8,727.5 L1539.0,722.5 L1539.3,719.1 L1539.5,713.8 L1539.8,709.2 L1540.0,704.8 L1540.3,699.9 L1540.5,695.4 L1540.8,691.3 L1541.0,686.8 L1541.3,682.8 L1541.6,678.3 L1541.8,676.2 L1542.1,673.3 L1542.3,670.1 L1542.6,668.6 L1542.8,667.7 L1543.1,666.7 L1543.3,666.6 L1543.6,666.9 L1543.8,668.4 L1544.1,670.4 L1544.3,673.9 L1544.6,677.4 L1544.9,682.7 L1545.1,687.2 L1545.4,693.4 L1545.6,699.1 L1545.9,705.8 L1546.1,711.6 L1546.4,717.5 L1546.6,723.8 L1546.9,728.7 L1547.2,733.6 L1547.4,737.0 L1547.7,740.9 L1547.9,742.7 L1548.2,744.5 L1548.4,744.3 L1548.7,744.8 L1548.9,743.4 L1549.2,741.6 L1549.4,739.7 L1549.7,737.9 L1550.0,734.8 L1550.2,730.9 L1550.5,727.8 L1550.7,723.6 L1551.0,718.8 L1551.2,713.9 L1551.5,709.9 L1551.8,704.8 L1552.0,700.3 L1552.3,695.6 L1552.5,690.2 L1552.8,686.8 L1553.0,682.4 L1553.3,678.2 L1553.5,675.0 L1553.8,672.6 L1554.1,669.5 L1554.3,667.2 L1554.6,666.3 L1554.8,665.7 L1555.1,664.8 L1555.3,664.9 L1555.6,666.6 L1555.8,669.6 L1556.1,672.7 L1556.3,675.6 L1556.6,680.6 L1556.9,685.3 L1557.1,691.9 L1557.4,697.0 L1557.6,703.2 L1557.9,709.4 L1558.1,715.4 L1558.4,722.2 L1558.6,727.2 L1558.9,732.0 L1559.1,737.0 L1559.4,740.8 L1559.6,743.9 L1559.9,745.9 L1560.1,747.7 L1560.4,747.8 L1560.7,747.5 L1560.9,747.2 L1561.2,745.0 L1561.4,742.4 L1561.7,739.7 L1562.0,736.5 L1562.2,731.9 L1562.5,728.3 L1562.7,723.4 L1563.0,718.4 L1563.2,712.3 L1563.5,707.3 L1563.8,702.4 L1564.0,696.8 L1564.3,692.0 L1564.5,687.9 L1564.8,683.2 L1565.1,679.4 L1565.3,675.0 L1565.6,672.9 L1565.8,669.8 L1566.1,668.2 L1566.3,667.8 L1566.6,666.8 L1566.9,668.1 L1567.1,668.6 L1567.4,671.1 L1567.6,674.0 L1567.9,677.7 L1568.1,681.8 L1568.4,686.5 L1568.6,692.0 L1568.9,696.4 L1569.1,703.2 L1569.4,708.9 L1569.6,714.8 L1569.9,720.4 L1570.1,726.3 L1570.4,731.7 L1570.6,735.4 L1570.9,740.2 L1571.1,744.2 L1571.4,747.1 L1571.6,748.6 L1571.9,750.0 L1572.2,750.4 L1572.4,750.1 L1572.7,749.5 L1572.9,748.5 L1573.2,746.9 L1573.4,745.2 L1573.7,742.8 L1573.9,740.1 L1574.2,736.0 L1574.4,733.4 L1574.7,729.1 L1574.9,725.2 L1575.2,721.3 L1575.4,716.6 L1575.7,712.1 L1575.9,707.8 L1576.2,704.1 L1576.4,699.6 L1576.7,694.7 L1576.9,691.0 L1577.2,687.0 L1577.4,682.2 L1577.7,679.2 L1577.9,675.3 L1578.2,672.3 L1578.4,669.1 L1578.7,667.7 L1578.9,664.6 L1579.2,663.1 L1579.4,662.6 L1579.7,661.6 L1579.9,661.7 L1580.2,662.0 L1580.4,663.2 L1580.7,664.7 L1580.9,666.4 L1581.2,669.9 L1581.4,673.7 L1581.7,677.6 L1582.0,681.1 L1582.2,686.5 L1582.5,691.5 L1582.7,696.9 L1583.0,702.1 L1583.2,707.0 L1583.5,712.6 L1583.7,719.1 L1584.0,724.4 L1584.3,729.0 L1584.5,733.9 L1584.8,738.5 L1585.0,741.8 L1585.3,745.3 L1585.5,747.9 L1585.8,751.2 L1586.1,752.6 L1586.3,753.3 L1586.6,753.9 L1586.8,753.2 L1587.1,752.7 L1587.3,751.5 L1587.6,749.8 L1587.8,747.6 L1588.1,745.3 L1588.3,742.9 L1588.6,739.8 L1588.8,735.7 L1589.1,732.3 L1589.3,728.0 L1589.6,723.6 L1589.8,719.2 L1590.1,714.7 L1590.3,711.1 L1590.6,706.6 L1590.8,701.4 L1591.1,697.4 L1591.3,693.1 L1591.6,688.7 L1591.8,684.3 L1592.1,680.6 L1592.3,676.8 L1592.6,674.5 L1592.8,671.2 L1593.1,669.2 L1593.3,666.9 L1593.6,665.8 L1593.8,664.4 L1594.1,662.9 L1594.3,663.2 L1594.6,663.2 L1594.8,665.1 L1595.1,668.2 L1595.3,671.5 L1595.6,677.1 L1595.9,682.7 L1596.1,688.2 L1596.4,695.1 L1596.6,702.7 L1596.9,709.7 L1597.1,716.5 L1597.4,723.6 L1597.6,730.5 L1597.9,736.8 L1598.1,742.8 L1598.4,747.2 L1598.7,750.3 L1598.9,753.2 L1599.2,755.8 L1599.4,756.3 L1599.7,755.9 L1599.9,753.7 L1600.2,751.5 L1600.4,747.2 L1600.7,743.6 L1600.9,737.6 L1601.2,731.4 L1601.5,725.8 L1601.7,719.2 L1602.0,711.4 L1602.2,705.2 L1602.5,698.0 L1602.7,690.4 L1603.0,684.1 L1603.2,679.0 L1603.5,673.5 L1603.7,669.3 L1604.0,665.3 L1604.2,662.3 L1604.5,661.1 L1604.7,660.1 L1605.0,661.5 L1605.3,663.2 L1605.5,665.5 L1605.8,670.1 L1606.0,674.9 L1606.3,680.2 L1606.5,687.1 L1606.8,693.9 L1607.0,701.9 L1607.3,709.2 L1607.5,716.8 L1607.8,724.6 L1608.1,731.9 L1608.3,737.6 L1608.6,744.2 L1608.8,748.7 L1609.1,752.7 L1609.3,756.1 L1609.6,757.1 L1609.8,758.0 L1610.1,757.1 L1610.3,755.9 L1610.6,754.3 L1610.9,749.9 L1611.1,746.2 L1611.4,741.8 L1611.6,735.4 L1611.9,730.1 L1612.1,722.8 L1612.4,716.2 L1612.6,710.0 L1612.9,703.0 L1613.1,696.5 L1613.4,690.2 L1613.6,683.8 L1613.9,678.3 L1614.1,672.8 L1614.4,669.5 L1614.6,665.6 L1614.9,663.6 L1615.1,662.5 L1615.4,661.1 L1615.6,662.5 L1615.9,664.0 L1616.2,667.7 L1616.4,671.7 L1616.7,676.8 L1616.9,682.0 L1617.2,689.3 L1617.4,696.6 L1617.7,704.3 L1618.0,711.6 L1618.2,718.3 L1618.5,726.5 L1618.7,732.7 L1619.0,739.1 L1619.2,744.3 L1619.5,748.5 L1619.8,751.3 L1620.0,752.4 L1620.3,753.6 L1620.5,752.6 L1620.8,752.6 L1621.0,750.5 L1621.3,747.8 L1621.6,743.8 L1621.8,739.3 L1622.1,734.8 L1622.3,729.8 L1622.6,724.4 L1622.9,718.6 L1623.1,712.3 L1623.4,705.5 L1623.6,700.3 L1623.9,694.0 L1624.1,687.7 L1624.4,682.7 L1624.7,676.7 L1624.9,672.0 L1625.2,667.6 L1625.4,664.5 L1625.7,662.1 L1626.0,659.9 L1626.2,658.3 L1626.5,658.4 L1626.7,659.6 L1627.0,661.5 L1627.3,665.8 L1627.5,671.7 L1627.8,677.8 L1628.0,686.5 L1628.3,694.5 L1628.6,703.7 L1628.8,712.7 L1629.1,721.8 L1629.3,730.4 L1629.6,738.0 L1629.9,745.0 L1630.1,751.0 L1630.4,754.7 L1630.6,757.6 L1630.9,758.4 L1631.2,757.9 L1631.4,757.5 L1631.7,755.3 L1631.9,753.4 L1632.2,752.1 L1632.4,748.9 L1632.7,745.6 L1632.9,742.2 L1633.2,738.8 L1633.4,734.2 L1633.7,730.5 L1633.9,725.3 L1634.2,720.4 L1634.4,716.1 L1634.7,710.4 L1634.9,705.8 L1635.2,700.2 L1635.4,696.1 L1635.7,690.6 L1635.9,686.0 L1636.2,682.0 L1636.4,677.0 L1636.7,674.0 L1636.9,670.4 L1637.2,667.8 L1637.4,665.0 L1637.7,662.2 L1637.9,661.1 L1638.2,659.2 L1638.4,658.8 L1638.7,658.2 L1638.9,658.5 L1639.2,659.7 L1639.4,661.1 L1639.7,663.7 L1639.9,666.8 L1640.2,670.7 L1640.5,675.0 L1640.7,679.9 L1641.0,684.9 L1641.2,690.6 L1641.5,696.3 L1641.7,702.3 L1642.0,708.2 L1642.3,714.3 L1642.5,720.3 L1642.8,727.0 L1643.0,732.1 L1643.3,737.3 L1643.5,742.3 L1643.8,747.1 L1644.0,749.9 L1644.3,753.7 L1644.6,755.4 L1644.8,758.1 L1645.1,758.9 L1645.3,758.7 L1645.6,758.9 L1645.8,757.2 L1646.1,754.4 L1646.4,752.4 L1646.6,747.6 L1646.9,742.8 L1647.1,738.2 L1647.4,732.1 L1647.7,725.5 L1647.9,719.3 L1648.2,712.6 L1648.4,706.4 L1648.7,699.7 L1649.0,692.6 L1649.2,686.8 L1649.5,680.2 L1649.7,675.6 L1650.0,671.1 L1650.3,666.5 L1650.5,663.2 L1650.8,660.8 L1651.0,660.0 L1651.3,659.5 L1651.6,660.6 L1651.8,665.3 L1652.1,671.8 L1652.3,680.2 L1652.6,690.5 L1652.8,702.5 L1653.1,714.8 L1653.3,726.9 L1653.6,739.4 L1653.8,749.8 L1654.1,757.7 L1654.3,764.5 L1654.6,768.4 L1654.9,769.9 L1655.1,770.6 L1655.4,770.2 L1655.6,769.1 L1655.9,767.3 L1656.1,765.9 L1656.4,764.6 L1656.6,762.8 L1656.9,760.7 L1657.1,757.6 L1657.4,755.5 L1657.7,752.6 L1657.9,748.9 L1658.2,745.2 L1658.4,741.1 L1658.7,738.0 L1658.9,733.2 L1659.2,729.4 L1659.4,725.1 L1659.7,721.3 L1660.0,715.9 L1660.2,711.6 L1660.5,707.4 L1660.7,702.5 L1661.0,696.9 L1661.2,693.1 L1661.5,688.6 L1661.7,683.5 L1662.0,678.5 L1662.2,674.0 L1662.5,670.7 L1662.8,666.5 L1663.0,661.6 L1663.3,657.6 L1663.5,654.5 L1663.8,651.4 L1664.0,647.8 L1664.3,644.3 L1664.5,642.3 L1664.8,639.4 L1665.0,637.6 L1665.3,634.6 L1665.6,633.1 L1665.8,632.0 L1666.1,630.6 L1666.3,630.3 L1666.6,630.0 L1666.8,630.0 L1667.1,630.0 L1667.3,630.0 L1667.6,630.8 L1667.8,631.9 L1668.1,632.6 L1668.3,633.5 L1668.6,635.4 L1668.8,637.9 L1669.1,640.1 L1669.3,641.4 L1669.6,644.1 L1669.8,647.1 L1670.1,650.5 L1670.3,652.7 L1670.6,656.1 L1670.8,659.5 L1671.1,664.1 L1671.3,667.0 L1671.6,671.7 L1671.8,674.9 L1672.1,679.2 L1672.4,683.2 L1672.6,687.5 L1672.9,691.5 L1673.1,696.0 L1673.4,700.8 L1673.6,704.9 L1673.9,709.1 L1674.1,713.7 L1674.4,717.3 L1674.6,721.8 L1674.9,726.5 L1675.1,729.8 L1675.4,734.1 L1675.6,738.5 L1675.9,741.4 L1676.1,744.7 L1676.4,748.7 L1676.6,751.7 L1676.9,754.8 L1677.1,757.8 L1677.4,761.0 L1677.6,763.8 L1677.9,765.8 L1678.1,767.2 L1678.4,769.5 L1678.6,771.0 L1678.9,773.1 L1679.1,773.4 L1679.4,774.9 L1679.6,775.8 L1679.9,775.5 L1680.1,775.2 L1680.4,774.9 L1680.7,773.5 L1680.9,771.7 L1681.2,767.8 L1681.4,762.9 L1681.7,757.4 L1681.9,752.0 L1682.2,745.0 L1682.5,737.7 L1682.7,730.5 L1683.0,722.4 L1683.2,714.9 L1683.5,706.7 L1683.8,698.7 L1684.0,692.0 L1684.3,684.7 L1684.5,678.0 L1684.8,671.8 L1685.0,666.0 L1685.3,661.9 L1685.6,658.3 L1685.8,655.5 L1686.1,654.7 L1686.3,653.8 L1686.6,654.8 L1686.9,658.2 L1687.1,663.3 L1687.4,669.8 L1687.6,676.8 L1687.9,686.9 L1688.2,696.3 L1688.4,707.2 L1688.7,719.1 L1689.0,729.9 L1689.2,739.2 L1689.5,748.9 L1689.7,757.3 L1690.0,763.6 L1690.3,768.1 L1690.5,771.4 L1690.8,772.1 L1691.0,771.1 L1691.3,768.8 L1691.6,762.5 L1691.8,755.9 L1692.1,747.5 L1692.3,738.0 L1692.6,726.4 L1692.9,714.7 L1693.1,702.9 L1693.4,692.4 L1693.6,680.6 L1693.9,671.5 L1694.2,662.4 L1694.4,655.3 L1694.7,650.2 L1694.9,647.4 L1695.2,646.2 L1695.5,647.1 L1695.7,649.4 L1696.0,653.4 L1696.2,659.1 L1696.5,666.1 L1696.8,675.2 L1697.0,684.7 L1697.3,694.0 L1697.5,704.6 L1697.8,715.5 L1698.0,725.9 L1698.3,735.0 L1698.5,744.4 L1698.8,752.8 L1699.1,760.2 L1699.3,765.6 L1699.6,770.3 L1699.8,772.4 L1700.1,773.0 L1700.4,771.7 L1700.6,767.4 L1700.9,761.4 L1701.2,751.2 L1701.4,740.0 L1701.7,727.7 L1702.0,714.7 L1702.2,700.4 L1702.5,687.1 L1702.7,675.0 L1703.0,663.9 L1703.3,654.0 L1703.5,647.4 L1703.8,642.9 L1704.1,642.0 L1704.3,642.4 L1704.6,645.2 L1704.9,649.4 L1705.1,655.7 L1705.4,663.0 L1705.6,670.9 L1705.9,680.4 L1706.1,690.7 L1706.4,701.9 L1706.6,713.0 L1706.9,723.6 L1707.2,733.7 L1707.4,743.1 L1707.7,751.3 L1707.9,758.1 L1708.2,764.1 L1708.4,769.3 L1708.7,771.9 L1709.0,772.3 L1709.2,770.9 L1709.5,766.6 L1709.8,760.1 L1710.0,751.7 L1710.3,741.1 L1710.6,728.6 L1710.8,715.9 L1711.1,702.9 L1711.4,690.0 L1711.6,678.4 L1711.9,668.2 L1712.2,659.0 L1712.4,653.0 L1712.7,648.6 L1712.9,646.7 L1713.2,647.8 L1713.5,651.7 L1713.7,655.9 L1714.0,662.1 L1714.3,670.0 L1714.5,680.1 L1714.8,689.6 L1715.0,701.0 L1715.3,711.1 L1715.6,722.1 L1715.8,731.8 L1716.1,741.7 L1716.3,749.0 L1716.6,755.7 L1716.9,760.6 L1717.1,763.8 L1717.4,764.7 L1717.6,764.4 L1717.9,762.6 L1718.1,758.7 L1718.4,755.2 L1718.6,749.6 L1718.9,742.7 L1719.1,736.6 L1719.4,728.3 L1719.7,720.6 L1719.9,711.6 L1720.2,702.8 L1720.4,694.3 L1720.7,685.4 L1720.9,677.1 L1721.2,669.1 L1721.4,661.4 L1721.7,656.3 L1721.9,650.8 L1722.2,646.6 L1722.4,642.4 L1722.7,640.6 L1722.9,640.1 L1723.2,641.4 L1723.4,642.7 L1723.7,643.5 L1723.9,646.7 L1724.2,650.6 L1724.4,653.8 L1724.7,659.2 L1724.9,664.0 L1725.2,669.4 L1725.4,676.2 L1725.7,681.8 L1726.0,688.7 L1726.2,696.5 L1726.5,703.8 L1726.7,710.9 L1727.0,717.7 L1727.2,724.3 L1727.5,731.1 L1727.7,738.3 L1728.0,744.7 L1728.2,749.7 L1728.5,755.6 L1728.7,759.6 L1729.0,763.8 L1729.2,767.4 L1729.5,769.7 L1729.7,771.7 L1730.0,773.5 L1730.2,773.3 L1730.5,772.4 L1730.8,771.3 L1731.0,768.7 L1731.3,764.3 L1731.5,759.7 L1731.8,753.7 L1732.1,745.7 L1732.3,738.5 L1732.6,730.9 L1732.8,722.2 L1733.1,713.1 L1733.4,705.2 L1733.6,695.7 L1733.9,687.2 L1734.1,679.3 L1734.4,672.6 L1734.7,665.2 L1734.9,659.3 L1735.2,653.8 L1735.4,650.6 L1735.7,647.9 L1736.0,646.1 L1736.2,645.4 L1736.5,645.3 L1736.7,646.8 L1737.0,649.6 L1737.3,652.4 L1737.5,657.1 L1737.8,661.3 L1738.0,666.8 L1738.3,673.5 L1738.5,680.7 L1738.8,688.4 L1739.0,695.0 L1739.3,703.7 L1739.6,711.2 L1739.8,720.0 L1740.1,727.2 L1740.3,735.4 L1740.6,741.9 L1740.8,748.9 L1741.1,755.1 L1741.3,761.6 L1741.6,766.8 L1741.9,770.9 L1742.1,773.3 L1742.4,776.1 L1742.6,777.8 L1742.9,778.0 L1743.1,776.7 L1743.4,774.0 L1743.7,768.0 L1743.9,760.9 L1744.2,751.4 L1744.4,741.7 L1744.7,730.1 L1745.0,717.4 L1745.2,705.2 L1745.5,692.8 L1745.8,681.8 L1746.0,671.2 L1746.3,662.0 L1746.5,655.4 L1746.8,649.5 L1747.1,646.1 L1747.3,645.0 L1747.6,645.9 L1747.8,648.8 L1748.1,654.7 L1748.4,661.6 L1748.6,669.9 L1748.9,680.6 L1749.1,690.6 L1749.4,702.2 L1749.7,713.4 L1749.9,725.5 L1750.2,735.8 L1750.4,745.7 L1750.7,754.3 L1751.0,762.2 L1751.2,767.5 L1751.5,770.7 L1751.8,771.6 L1752.0,769.2 L1752.3,763.5 L1752.5,754.2 L1752.8,742.6 L1753.0,727.1 L1753.3,712.4 L1753.5,695.2 L1753.8,679.6 L1754.1,665.3 L1754.3,652.6 L1754.6,643.7 L1754.8,637.5 L1755.1,636.2 L1755.3,637.3 L1755.6,640.9 L1755.9,645.6 L1756.1,653.3 L1756.4,661.8 L1756.6,671.8 L1756.9,683.8 L1757.2,695.9 L1757.4,707.1 L1757.7,718.9 L1757.9,731.0 L1758.2,740.9 L1758.5,749.5 L1758.7,756.6 L1759.0,762.6 L1759.3,765.3 L1759.5,767.2 L1759.8,765.0 L1760.0,759.2 L1760.3,750.6 L1760.5,739.6 L1760.8,725.9 L1761.0,710.7 L1761.3,694.9 L1761.6,680.2 L1761.8,667.2 L1762.1,655.9 L1762.3,646.6 L1762.6,641.0 L1762.8,639.6 L1763.1,640.5 L1763.4,644.6 L1763.6,649.7 L1763.9,658.0 L1764.1,666.5 L1764.4,678.1 L1764.7,690.2 L1764.9,701.8 L1765.2,714.9 L1765.4,727.8 L1765.7,739.6 L1766.0,749.9 L1766.2,759.8 L1766.5,768.2 L1766.8,773.8 L1767.0,776.9 L1767.3,777.7 L1767.5,777.5 L1767.8,774.2 L1768.0,770.8 L1768.3,765.1 L1768.5,758.1 L1768.8,749.4 L1769.1,739.9 L1769.3,730.2 L1769.6,720.5 L1769.8,709.4 L1770.1,698.5 L1770.3,687.8 L1770.6,678.0 L1770.8,668.3 L1771.1,660.4 L1771.4,654.1 L1771.6,648.4 L1771.9,643.4 L1772.1,641.6 L1772.4,641.0 L1772.6,641.4 L1772.9,646.6 L1773.1,653.5 L1773.4,662.7 L1773.6,673.0 L1773.9,685.2 L1774.1,698.7 L1774.4,712.8 L1774.6,725.9 L1774.9,738.5 L1775.1,749.7 L1775.4,759.4 L1775.6,765.9 L1775.9,769.8 L1776.1,771.5 L1776.4,770.6 L1776.6,770.5 L1776.9,770.4 L1777.1,769.3 L1777.4,767.6 L1777.6,765.3 L1777.9,763.6 L1778.1,761.6 L1778.4,759.3 L1778.6,755.7 L1778.9,753.3 L1779.1,750.0 L1779.4,746.7 L1779.6,741.9 L1779.9,739.0 L1780.1,733.9 L1780.4,729.8 L1780.6,725.9 L1780.9,720.9 L1781.1,716.4 L1781.4,711.8 L1781.6,707.0 L1781.9,702.3 L1782.1,698.5 L1782.4,693.8 L1782.6,688.0 L1782.9,683.7 L1783.1,679.9 L1783.4,675.0 L1783.6,670.2 L1783.9,666.5 L1784.1,662.7 L1784.4,658.9 L1784.6,655.0 L1784.9,651.3 L1785.1,647.9 L1785.4,645.2 L1785.6,641.8 L1785.9,639.8 L1786.1,637.2 L1786.4,635.1 L1786.6,633.7 L1786.9,632.4 L1787.1,630.8 L1787.4,630.3 L1787.6,630.0 L1787.9,630.0 L1788.1,630.0 L1788.4,630.0 L1788.7,630.3 L1788.9,631.1 L1789.2,632.7 L1789.4,633.4 L1789.7,635.3 L1789.9,636.7 L1790.2,638.9 L1790.4,640.9 L1790.7,642.8 L1790.9,645.4 L1791.2,648.6 L1791.4,650.9 L1791.7,653.6 L1791.9,657.1 L1792.2,660.4 L1792.5,664.8 L1792.7,667.7 L1793.0,671.2 L1793.2,675.3 L1793.5,679.7 L1793.7,683.7 L1794.0,687.7 L1794.2,691.5 L1794.5,695.7 L1794.7,699.3 L1795.0,704.3 L1795.2,707.9 L1795.5,712.5 L1795.7,716.3 L1796.0,720.5 L1796.3,723.8 L1796.5,727.7 L1796.8,732.4 L1797.0,735.7 L1797.3,739.1 L1797.5,743.1 L1797.8,746.8 L1798.0,750.2 L1798.3,753.8 L1798.5,756.1 L1798.8,758.7 L1799.0,761.7 L1799.3,764.2 L1799.6,767.0 L1799.8,768.3 L1800.1,770.2 L1800.3,771.8 L1800.6,773.7 L1800.8,774.6 L1801.1,776.4 L1801.3,777.4 L1801.6,777.6 L1801.8,777.7 L1802.1,777.7 L1802.3,777.6 L1802.6,776.1 L1802.8,774.1 L1803.1,771.5 L1803.3,767.9 L1803.6,764.4 L1803.9,758.8 L1804.1,753.4 L1804.4,747.6 L1804.6,741.2 L1804.9,734.7 L1805.1,727.4 L1805.4,719.8 L1805.6,713.0 L1805.9,706.1 L1806.1,697.9 L1806.4,690.3 L1806.6,683.8 L1806.9,676.6 L1807.1,670.1 L1807.4,664.6 L1807.6,658.9 L1807.9,654.9 L1808.1,649.7 L1808.4,647.0 L1808.6,644.2 L1808.9,641.7 L1809.1,640.5 L1809.4,640.1 L1809.7,654.7 L1810.0,690.3 L1810.3,725.3 L1810.5,739.8 L1810.8,732.6 L1811.1,712.8 L1811.4,690.5 L1811.7,671.4 L1812.0,663.3 L1812.3,669.3 L1812.6,684.1 L1812.8,705.7 L1813.1,729.5 L1813.4,751.4 L1813.6,765.6 L1813.9,771.1 L1814.2,762.9 L1814.4,739.3 L1814.7,707.3 L1815.0,675.5 L1815.2,651.4 L1815.5,643.2 L1815.8,649.9 L1816.0,669.5 L1816.3,697.0 L1816.6,726.7 L1816.8,754.4 L1817.1,772.9 L1817.4,780.6 L1817.6,773.3 L1817.9,755.4 L1818.1,727.5 L1818.4,697.9 L1818.6,671.0 L1818.9,651.8 L1819.1,645.6 L1819.4,654.0 L1819.7,677.6 L1820.0,706.5 L1820.3,729.3 L1820.6,738.3 L1820.8,731.4 L1821.1,712.2 L1821.4,686.0 L1821.6,660.4 L1821.9,642.2 L1822.1,634.2 L1822.4,641.3 L1822.7,658.9 L1822.9,684.9 L1823.2,714.3 L1823.4,740.5 L1823.7,758.3 L1824.0,764.2 L1824.2,755.2 L1824.5,731.1 L1824.8,698.6 L1825.1,666.0 L1825.4,642.8 L1825.6,633.5 L1825.9,647.4 L1826.2,683.2 L1826.5,727.7 L1826.7,764.3 L1827.0,778.3 L1827.3,776.9 L1827.5,773.3 L1827.8,768.2 L1828.0,760.3 L1828.3,752.0 L1828.5,740.7 L1828.8,729.5 L1829.0,716.9 L1829.3,704.0 L1829.6,691.2 L1829.8,678.1 L1830.1,666.0 L1830.3,656.5 L1830.6,647.0 L1830.8,639.7 L1831.1,633.6 L1831.3,630.4 L1831.6,630.0 L1831.9,630.7 L1832.1,633.3 L1832.4,638.6 L1832.6,645.2 L1832.9,653.3 L1833.1,662.6 L1833.4,673.4 L1833.7,685.2 L1833.9,697.3 L1834.2,709.7 L1834.4,721.5 L1834.7,733.1 L1835.0,744.7 L1835.2,754.4 L1835.5,761.8 L1835.7,769.6 L1836.0,774.4 L1836.2,776.6 L1836.5,777.9 L1836.8,770.9 L1837.0,751.7 L1837.2,726.0 L1837.5,699.1 L1837.8,680.2 L1838.0,673.4 L1838.3,680.4 L1838.6,699.2 L1838.8,726.7 L1839.1,752.4 L1839.4,772.5 L1839.7,779.5 L1839.9,768.8 L1840.2,741.8 L1840.5,707.7 L1840.7,680.5 L1841.0,669.9 L1841.3,674.4 L1841.6,688.1 L1841.8,706.2 L1842.1,727.7 L1842.4,746.7 L1842.6,759.7 L1842.9,764.7 L1843.2,753.3 L1843.4,725.1 L1843.7,688.7 L1844.0,660.5 L1844.2,650.2 L1844.5,660.8 L1844.8,688.1 L1845.0,723.5 L1845.3,751.1 L1845.6,761.7 L1845.9,745.0 L1846.2,703.7 L1846.4,662.4 L1846.7,645.5 L1847.0,653.5 L1847.3,678.3 L1847.6,711.0 L1847.9,744.7 L1848.1,769.1 L1848.4,777.5 L1848.7,771.1 L1848.9,753.4 L1849.2,727.6 L1849.5,699.4 L1849.7,673.5 L1850.0,654.8 L1850.2,649.1 L1850.5,657.7 L1850.7,681.0 L1851.0,713.6 L1851.2,745.8 L1851.5,769.9 L1851.8,777.6 L1852.1,765.4 L1852.4,730.7 L1852.6,688.1 L1852.9,653.3 L1853.2,640.0 L1853.5,651.5 L1853.8,682.7 L1854.1,720.5 L1854.4,750.2 L1854.7,762.4 L1855.0,744.0 L1855.3,698.4 L1855.6,653.2 L1855.9,634.0 L1856.2,642.7 L1856.4,665.7 L1856.7,698.2 L1856.9,729.8 L1857.2,752.1 L1857.5,760.9 L1857.7,743.1 L1858.0,701.0 L1858.2,657.8 L1858.5,639.4 L1858.8,652.0 L1859.0,682.5 L1859.3,720.9 L1859.6,751.4 L1859.9,762.9 L1860.2,745.0 L1860.5,701.1 L1860.8,656.3 L1861.1,638.3 L1861.3,651.4 L1861.6,684.0 L1861.8,724.4 L1862.1,756.2 L1862.3,769.5 L1862.6,756.6 L1862.9,723.3 L1863.2,681.3 L1863.5,647.3 L1863.8,634.7 L1864.1,653.3 L1864.4,696.2 L1864.7,739.9 L1865.0,758.1 L1865.2,749.4 L1865.5,726.6 L1865.8,695.1 L1866.1,663.2 L1866.4,639.6 L1866.7,631.5 L1867.0,640.7 L1867.3,666.7 L1867.6,702.9 L1867.9,738.5 L1868.1,764.8 L1868.4,774.6 L1868.7,767.6 L1868.9,747.1 L1869.2,719.6 L1869.4,687.7 L1869.7,658.9 L1869.9,639.8 L1870.2,632.1 L1870.5,644.8 L1870.8,676.8 L1871.1,717.3 L1871.4,749.2 L1871.7,761.7 L1871.9,753.5 L1872.2,730.9 L1872.5,698.9 L1872.7,667.0 L1873.0,644.1 L1873.3,636.4 L1873.5,642.5 L1873.8,659.1 L1874.0,684.6 L1874.3,713.2 L1874.6,738.0 L1874.8,755.3 L1875.1,762.1 L1875.3,744.7 L1875.6,705.1 L1875.9,664.7 L1876.1,647.7 L1876.4,655.2 L1876.7,677.9 L1877.0,709.2 L1877.2,739.7 L1877.5,761.8 L1877.8,771.0 L1878.1,761.4 L1878.3,737.9 L1878.6,705.9 L1878.9,673.6 L1879.1,649.9 L1879.4,641.1 L1879.6,660.6 L1879.9,709.4 L1880.2,756.4 L1880.4,776.0 L1880.7,755.1 L1881.0,703.7 L1881.3,651.4 L1881.6,630.8 L1881.8,643.3 L1882.1,676.9 L1882.3,718.3 L1882.6,753.2 L1882.9,765.9 L1883.2,757.3 L1883.4,733.0 L1883.7,699.8 L1884.0,667.2 L1884.3,643.7 L1884.6,635.2 L1884.9,656.3 L1885.2,706.3 L1885.5,757.0 L1885.8,777.8 L1886.1,771.7 L1886.3,751.9 L1886.6,724.2 L1886.9,692.9 L1887.1,666.2 L1887.4,646.2 L1887.6,640.1 L1887.9,648.8 L1888.1,674.8 L1888.4,706.5 L1888.6,732.0 L1888.9,741.9 L1889.2,728.4 L1889.5,695.6 L1889.8,662.0 L1890.0,649.2 L1890.3,666.2 L1890.6,707.5 L1890.9,749.3 L1891.2,766.9 L1891.5,752.5 L1891.8,717.3 L1892.1,681.9 L1892.4,667.8 L1892.7,674.6 L1893.0,693.2 L1893.3,719.7 L1893.6,745.1 L1893.8,765.0 L1894.1,771.6 L1894.4,762.8 L1894.7,737.2 L1894.9,702.6 L1895.2,668.7 L1895.4,643.1 L1895.7,633.4 L1896.0,643.6 L1896.3,668.2 L1896.5,703.1 L1896.8,738.9 L1897.1,764.2 L1897.3,773.4 L1897.6,764.2 L1897.9,737.9 L1898.2,706.4 L1898.5,680.7 L1898.8,670.9 L1899.1,677.7 L1899.4,693.6 L1899.6,712.6 L1899.9,729.0 L1900.2,734.8 L1900.5,729.5 L1900.7,715.7 L1901.0,696.3 L1901.3,677.5 L1901.6,663.0 L1901.9,657.7 L1902.1,673.6 L1902.4,711.4 L1902.6,749.9 L1902.9,765.4 L1903.2,756.3 L1903.5,731.0 L1903.8,700.8 L1904.1,675.6 L1904.4,665.8 L1904.7,680.8 L1905.0,716.8 L1905.3,753.0 L1905.6,767.4 L1905.9,748.2 L1906.1,700.4 L1906.4,653.7 L1906.7,634.4 L1906.9,654.6 L1907.2,705.0 L1907.5,755.8 L1907.7,776.4 L1908.0,767.7 L1908.3,742.7 L1908.6,708.2 L1908.9,674.5 L1909.1,648.7 L1909.4,639.4 L1909.7,648.8 L1910.0,675.0 L1910.2,710.2 L1910.5,745.3 L1910.8,770.6 L1911.0,780.4 L1911.3,775.0 L1911.6,759.8 L1911.8,737.6 L1912.1,714.1 L1912.3,692.0 L1912.6,676.8 L1912.9,671.5 L1913.1,685.6 L1913.4,721.7 L1913.6,757.2 L1913.9,771.5 L1914.2,752.1 L1914.5,703.6 L1914.8,655.0 L1915.1,635.2 L1915.4,653.5 L1915.8,691.6 L1916.1,710.8 L1916.4,692.7 L1916.7,655.2 L1917.0,636.7 L1917.3,637.3 L1917.5,638.9 L1917.8,641.2 L1918.0,643.3 L1918.3,646.0 L1918.5,650.7 L1918.8,655.3 L1919.1,659.8 L1919.3,665.6 L1919.6,671.5 L1919.8,678.5 L1920.1,685.3 L1920.3,692.1 L1920.6,699.8 L1920.8,707.1 L1921.1,714.3 L1921.4,721.3 L1921.6,728.3 L1921.9,734.5 L1922.1,741.6 L1922.4,746.7 L1922.6,752.4 L1922.9,758.1 L1923.2,763.1 L1923.4,765.9 L1923.7,769.4 L1923.9,772.9 L1924.2,774.3 L1924.4,775.7 L1924.7,775.9 L1925.0,773.6 L1925.2,767.8 L1925.5,757.4 L1925.7,745.1 L1926.0,729.3 L1926.2,712.5 L1926.5,696.1 L1926.7,679.4 L1927.0,663.2 L1927.2,650.3 L1927.5,641.1 L1927.7,635.3 L1928.0,633.1 L1928.3,646.5 L1928.6,683.4 L1928.8,729.2 L1929.1,765.3 L1929.4,779.5 L1929.7,765.9 L1930.0,729.3 L1930.3,684.9 L1930.6,649.6 L1930.9,636.0 L1931.1,642.2 L1931.4,659.9 L1931.6,686.0 L1931.9,714.5 L1932.1,739.5 L1932.4,757.6 L1932.7,764.4 L1932.9,758.5 L1933.2,741.1 L1933.5,718.3 L1933.7,691.6 L1934.0,667.9 L1934.3,651.6 L1934.5,645.7 L1934.8,653.4 L1935.1,675.5 L1935.4,707.0 L1935.7,737.1 L1935.9,759.6 L1936.2,767.7 L1936.5,756.3 L1936.8,726.8 L1937.1,689.7 L1937.3,659.4 L1937.6,648.1 L1937.9,658.8 L1938.2,688.4 L1938.5,725.2 L1938.8,755.0 L1939.1,766.5 L1939.3,760.6 L1939.6,743.9 L1939.9,720.1 L1940.1,696.7 L1940.4,679.4 L1940.7,672.6 L1940.9,682.4 L1941.2,707.8 L1941.4,739.5 L1941.7,765.0 L1941.9,774.0 L1942.2,762.3 L1942.5,729.3 L1942.7,689.7 L1943.0,657.5 L1943.3,645.2 L1943.6,653.6 L1943.9,677.1 L1944.1,706.9 L1944.4,738.9 L1944.7,761.4 L1945.0,768.9 L1945.3,761.5 L1945.6,737.9 L1945.9,706.4 L1946.1,675.6 L1946.4,652.2 L1946.7,643.7 L1947.0,650.0 L1947.3,666.4 L1947.5,689.8 L1947.8,716.7 L1948.1,740.9 L1948.3,757.9 L1948.6,763.0 L1948.8,744.1 L1949.1,699.2 L1949.4,652.9 L1949.6,634.2 L1949.9,653.9 L1950.1,701.4 L1950.4,748.4 L1950.7,768.7 L1950.9,755.9 L1951.2,724.7 L1951.4,686.7 L1951.7,654.7 L1952.0,643.2 L1952.2,647.8 L1952.5,661.6 L1952.8,681.3 L1953.1,700.4 L1953.3,715.7 L1953.6,720.4" fill="none" stroke="#ff0000" stroke-width="1.9" stroke-linejoin="round" stroke-linecap="round" clip-path="url(#c_b3)"/>
<line x1="1153.4" y1="781.5" x2="1153.4" y2="773.5" class="tk"/>
<line x1="1153.4" y1="629.5" x2="1153.4" y2="637.5" class="tk"/>
<line x1="1228.7" y1="781.5" x2="1228.7" y2="773.5" class="tk"/>
<line x1="1228.7" y1="629.5" x2="1228.7" y2="637.5" class="tk"/>
<line x1="1304.0" y1="781.5" x2="1304.0" y2="773.5" class="tk"/>
<line x1="1304.0" y1="629.5" x2="1304.0" y2="637.5" class="tk"/>
<line x1="1379.4" y1="781.5" x2="1379.4" y2="773.5" class="tk"/>
<line x1="1379.4" y1="629.5" x2="1379.4" y2="637.5" class="tk"/>
<line x1="1454.7" y1="781.5" x2="1454.7" y2="773.5" class="tk"/>
<line x1="1454.7" y1="629.5" x2="1454.7" y2="637.5" class="tk"/>
<line x1="1530.0" y1="781.5" x2="1530.0" y2="773.5" class="tk"/>
<line x1="1530.0" y1="629.5" x2="1530.0" y2="637.5" class="tk"/>
<line x1="1605.3" y1="781.5" x2="1605.3" y2="773.5" class="tk"/>
<line x1="1605.3" y1="629.5" x2="1605.3" y2="637.5" class="tk"/>
<line x1="1680.6" y1="781.5" x2="1680.6" y2="773.5" class="tk"/>
<line x1="1680.6" y1="629.5" x2="1680.6" y2="637.5" class="tk"/>
<line x1="1756.0" y1="781.5" x2="1756.0" y2="773.5" class="tk"/>
<line x1="1756.0" y1="629.5" x2="1756.0" y2="637.5" class="tk"/>
<line x1="1831.3" y1="781.5" x2="1831.3" y2="773.5" class="tk"/>
<line x1="1831.3" y1="629.5" x2="1831.3" y2="637.5" class="tk"/>
<line x1="1906.6" y1="781.5" x2="1906.6" y2="773.5" class="tk"/>
<line x1="1906.6" y1="629.5" x2="1906.6" y2="637.5" class="tk"/>
<line x1="1981.9" y1="781.5" x2="1981.9" y2="773.5" class="tk"/>
<line x1="1981.9" y1="629.5" x2="1981.9" y2="637.5" class="tk"/>
<line x1="1108.2" y1="766.0" x2="1116.2" y2="766.0" class="tk"/>
<line x1="1981.9" y1="766.0" x2="1973.9" y2="766.0" class="tk"/>
<line x1="1108.2" y1="702.5" x2="1116.2" y2="702.5" class="tk"/>
<line x1="1981.9" y1="702.5" x2="1973.9" y2="702.5" class="tk"/>
<line x1="1108.2" y1="639.0" x2="1116.2" y2="639.0" class="tk"/>
<line x1="1981.9" y1="639.0" x2="1973.9" y2="639.0" class="tk"/>
<rect x="1108.2" y="629.5" width="873.7" height="152.0" class="fr"/>
<text transform="translate(1151.8,813.4) scale(0.94,1)" class="xt">50</text>
<text transform="translate(1227.3,813.4) scale(0.94,1)" class="xt">100</text>
<text transform="translate(1302.9,813.4) scale(0.94,1)" class="xt">150</text>
<text transform="translate(1378.4,813.4) scale(0.94,1)" class="xt">200</text>
<text transform="translate(1454.0,813.4) scale(0.94,1)" class="xt">250</text>
<text transform="translate(1529.5,813.4) scale(0.94,1)" class="xt">300</text>
<text transform="translate(1605.1,813.4) scale(0.94,1)" class="xt">350</text>
<text transform="translate(1680.6,813.4) scale(0.94,1)" class="xt">400</text>
<text transform="translate(1756.2,813.4) scale(0.94,1)" class="xt">450</text>
<text transform="translate(1831.8,813.4) scale(0.94,1)" class="xt">500</text>
<text transform="translate(1907.3,813.4) scale(0.94,1)" class="xt">550</text>
<text transform="translate(1982.8,813.4) scale(0.94,1)" class="xt">600</text>
<text x="1102.4" y="775.6" class="yt">-200</text>
<text x="1102.4" y="712.1" class="yt">0</text>
<text x="1102.4" y="648.6" class="yt">200</text>
<text x="1545.1" y="845.3" class="xl">Time (s)</text>
<text transform="translate(1046.2,705.5) rotate(-90)" x="0" y="0" class="yl">Force (N)</text>
<rect x="1104.3" y="594.8" width="195.7" height="34.0" rx="1.5" class="lg"/>
<line x1="1112.0" y1="613.2" x2="1193.1" y2="613.2" stroke="#ff0000" stroke-width="2.0"/>
<text x="1197.4" y="620.0" class="lt">Fy-Robot</text>
</g>
</svg>

</body></html>
